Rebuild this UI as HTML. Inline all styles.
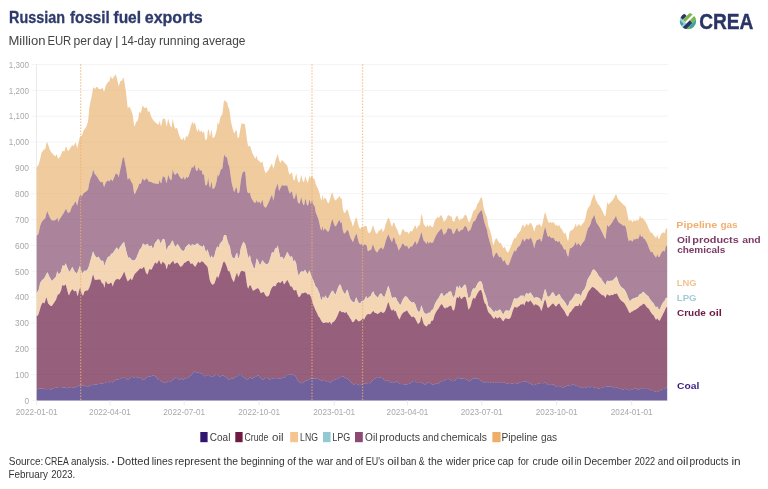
<!DOCTYPE html>
<html lang="en"><head><meta charset="utf-8"><title>Russian fossil fuel exports</title>
<style>
html,body{margin:0;padding:0;background:#fff;}
body{width:768px;height:489px;overflow:hidden;font-family:'Liberation Sans', Arial, sans-serif;}
svg{display:block;will-change:transform;}
svg text{font-family:'Liberation Sans', Arial, sans-serif;}
.ti{font-size:16.5px;font-weight:bold;fill:#2d3a6b;stroke:#2d3a6b;stroke-width:0.3px;}
.st{font-size:12.2px;fill:#454545;}
.ax{font-size:9.2px;fill:#a9a9a9;}
.lg{font-size:10.3px;fill:#3e3e3e;}
.rl{font-size:9.9px;font-weight:bold;}
.ft{font-size:10.6px;fill:#333;}
</style></head><body>
<svg width="768" height="489" viewBox="0 0 768 489">
<rect width="768" height="489" fill="#fff"/>

<text class="ti" x="9.06" y="22.8" textLength="56.00" lengthAdjust="spacingAndGlyphs">Russian</text>
<text class="ti" x="70.07" y="22.8" textLength="39.64" lengthAdjust="spacingAndGlyphs">fossil</text>
<text class="ti" x="113.47" y="22.8" textLength="27.59" lengthAdjust="spacingAndGlyphs">fuel</text>
<text class="ti" x="144.74" y="22.8" textLength="57.94" lengthAdjust="spacingAndGlyphs">exports</text>
<text class="st" x="8.46" y="45.2" textLength="37.02" lengthAdjust="spacingAndGlyphs">Million</text>
<text class="st" x="47.39" y="45.2" textLength="23.93" lengthAdjust="spacingAndGlyphs">EUR</text>
<text class="st" x="73.41" y="45.2" textLength="17.58" lengthAdjust="spacingAndGlyphs">per</text>
<text class="st" x="92.82" y="45.2" textLength="19.20" lengthAdjust="spacingAndGlyphs">day</text>
<text class="st" x="115.02" y="45.2" textLength="3.55" lengthAdjust="spacingAndGlyphs">|</text>
<text class="st" x="121.15" y="45.2" textLength="34.83" lengthAdjust="spacingAndGlyphs">14-day</text>
<text class="st" x="158.90" y="45.2" textLength="41.05" lengthAdjust="spacingAndGlyphs">running</text>
<text class="st" x="202.32" y="45.2" textLength="43.14" lengthAdjust="spacingAndGlyphs">average</text>
<defs><clipPath id="lc"><circle cx="0" cy="0" r="8.2"/></clipPath></defs>
<g transform="translate(687.95 21.15) rotate(-45)"><g clip-path="url(#lc)">
<rect x="-9" y="-9" width="6.34" height="18" fill="#9dd3d8"/>
<rect x="-7.9" y="-6.2" width="3.0" height="5.2" fill="#3fa39c"/>
<rect x="-2.78" y="-9" width="5.56" height="4.38" fill="#2b3467"/>
<rect x="-2.55" y="-4.62" width="12" height="3.12" fill="#7ab648"/>
<rect x="-9" y="0.7" width="10.92" height="3.8" fill="#2b3467"/>
<rect x="1.92" y="0.7" width="8" height="3.8" fill="#7ab648"/>
<rect x="-3.48" y="4.5" width="12" height="5" fill="#3fa39c"/>
<rect x="-9" y="4.5" width="5.52" height="5" fill="#7ab648"/>
</g></g>

<text x="699.2" y="28.5" font-size="21.9" font-weight="bold" fill="#2b3467" stroke="#2b3467" stroke-width="0.4" textLength="54.2" lengthAdjust="spacingAndGlyphs">CREA</text>
<line x1="31.3" x2="667.8" y1="400.50" y2="400.50" stroke="#f4f4f4" stroke-width="1"/>
<text class="ax" x="24.4" y="403.7" textLength="4.6" lengthAdjust="spacingAndGlyphs">0</text>
<line x1="31.3" x2="667.8" y1="374.65" y2="374.65" stroke="#f4f4f4" stroke-width="1"/>
<text class="ax" x="15.0" y="377.9" textLength="14.0" lengthAdjust="spacingAndGlyphs">100</text>
<line x1="31.3" x2="667.8" y1="348.81" y2="348.81" stroke="#f4f4f4" stroke-width="1"/>
<text class="ax" x="15.0" y="352.0" textLength="14.0" lengthAdjust="spacingAndGlyphs">200</text>
<line x1="31.3" x2="667.8" y1="322.96" y2="322.96" stroke="#f4f4f4" stroke-width="1"/>
<text class="ax" x="15.0" y="326.2" textLength="14.0" lengthAdjust="spacingAndGlyphs">300</text>
<line x1="31.3" x2="667.8" y1="297.12" y2="297.12" stroke="#f4f4f4" stroke-width="1"/>
<text class="ax" x="15.0" y="300.3" textLength="14.0" lengthAdjust="spacingAndGlyphs">400</text>
<line x1="31.3" x2="667.8" y1="271.27" y2="271.27" stroke="#f4f4f4" stroke-width="1"/>
<text class="ax" x="15.0" y="274.5" textLength="14.0" lengthAdjust="spacingAndGlyphs">500</text>
<line x1="31.3" x2="667.8" y1="245.42" y2="245.42" stroke="#f4f4f4" stroke-width="1"/>
<text class="ax" x="15.0" y="248.6" textLength="14.0" lengthAdjust="spacingAndGlyphs">600</text>
<line x1="31.3" x2="667.8" y1="219.58" y2="219.58" stroke="#f4f4f4" stroke-width="1"/>
<text class="ax" x="15.0" y="222.8" textLength="14.0" lengthAdjust="spacingAndGlyphs">700</text>
<line x1="31.3" x2="667.8" y1="193.73" y2="193.73" stroke="#f4f4f4" stroke-width="1"/>
<text class="ax" x="15.0" y="196.9" textLength="14.0" lengthAdjust="spacingAndGlyphs">800</text>
<line x1="31.3" x2="667.8" y1="167.88" y2="167.88" stroke="#f4f4f4" stroke-width="1"/>
<text class="ax" x="15.0" y="171.1" textLength="14.0" lengthAdjust="spacingAndGlyphs">900</text>
<line x1="31.3" x2="667.8" y1="142.04" y2="142.04" stroke="#f4f4f4" stroke-width="1"/>
<text class="ax" x="8.8" y="145.2" textLength="20.2" lengthAdjust="spacingAndGlyphs">1,000</text>
<line x1="31.3" x2="667.8" y1="116.19" y2="116.19" stroke="#f4f4f4" stroke-width="1"/>
<text class="ax" x="8.8" y="119.4" textLength="20.2" lengthAdjust="spacingAndGlyphs">1,100</text>
<line x1="31.3" x2="667.8" y1="90.35" y2="90.35" stroke="#f4f4f4" stroke-width="1"/>
<text class="ax" x="8.8" y="93.5" textLength="20.2" lengthAdjust="spacingAndGlyphs">1,200</text>
<line x1="31.3" x2="667.8" y1="64.50" y2="64.50" stroke="#f4f4f4" stroke-width="1"/>
<text class="ax" x="8.8" y="67.7" textLength="20.2" lengthAdjust="spacingAndGlyphs">1,300</text>
<line x1="36.52" x2="36.52" y1="64.5" y2="400.5" stroke="#ebebeb" stroke-width="1"/>
<g fill-opacity="0.7" stroke="none">
<polygon fill="#eab573" points="36.7,167.3 37.2,166.6 37.7,166.0 38.2,165.3 38.7,164.2 39.2,162.5 39.7,160.7 40.2,159.0 40.7,156.5 41.2,154.0 41.7,152.6 42.2,151.9 42.7,151.1 43.2,150.3 43.7,149.7 44.2,149.5 44.7,149.2 45.2,149.0 45.7,146.7 46.2,144.5 46.7,142.2 47.2,142.3 47.7,143.6 48.2,144.8 48.7,146.2 49.2,147.7 49.7,149.2 50.2,150.7 50.7,151.3 51.2,152.0 51.7,152.7 52.2,153.3 52.7,154.0 53.2,154.5 53.7,155.0 54.2,155.5 54.7,156.0 55.2,156.5 55.7,155.7 56.2,155.0 56.7,154.2 57.2,155.4 57.7,157.6 58.2,158.8 58.7,158.2 59.2,157.7 59.7,157.1 60.2,156.5 60.7,155.3 61.2,154.2 61.7,153.0 62.2,151.8 62.7,150.7 63.2,150.9 63.7,151.2 64.2,151.4 64.7,150.4 65.2,148.7 65.7,147.1 66.2,146.5 66.7,147.8 67.2,149.2 67.7,150.6 68.2,151.2 68.7,150.5 69.2,149.7 69.7,148.9 70.2,148.2 70.7,147.4 71.2,146.6 71.7,145.9 72.2,145.1 72.7,145.3 73.2,146.0 73.7,146.1 74.2,145.0 74.7,143.9 75.2,142.7 75.7,142.6 76.2,144.5 76.7,146.3 77.2,148.2 77.7,146.1 78.2,144.1 78.7,142.0 79.2,139.7 79.7,137.0 80.2,136.7 80.7,136.4 81.2,136.1 81.7,135.8 82.2,134.7 82.7,133.2 83.2,131.7 83.7,130.4 84.2,129.8 84.7,129.1 85.2,128.4 85.7,127.8 86.2,126.8 86.7,125.4 87.2,123.9 87.7,122.5 88.2,119.7 88.7,114.4 89.2,109.1 89.7,105.7 90.2,103.1 90.7,100.7 91.2,98.5 91.7,96.4 92.2,93.6 92.7,90.4 93.2,87.3 93.7,87.7 94.2,88.0 94.7,88.4 95.2,88.9 95.7,88.3 96.2,87.2 96.7,87.0 97.2,87.1 97.7,87.3 98.2,88.1 98.7,88.8 99.2,89.3 99.7,89.2 100.2,89.1 100.7,89.1 101.2,88.9 101.7,88.5 102.2,88.2 102.7,87.8 103.2,89.5 103.7,91.2 104.2,91.7 104.7,89.7 105.2,87.7 105.7,85.7 106.2,84.8 106.7,84.0 107.2,83.2 107.7,82.3 108.2,82.1 108.7,81.8 109.2,81.6 109.7,80.1 110.2,78.0 110.7,76.0 111.2,77.0 111.7,78.0 112.2,79.0 112.7,78.8 113.2,77.9 113.7,77.1 114.2,76.4 114.7,75.7 115.2,75.0 115.7,74.3 116.2,76.0 116.7,77.6 117.2,79.3 117.7,81.5 118.2,84.0 118.7,86.5 119.2,84.8 119.7,83.2 120.2,81.5 120.7,81.2 121.2,81.0 121.7,80.7 122.2,79.7 122.7,78.4 123.2,77.0 123.7,78.9 124.2,80.9 124.7,83.7 125.2,86.9 125.7,90.2 126.2,93.9 126.7,98.7 127.2,103.4 127.7,108.2 128.2,107.7 128.7,107.2 129.2,106.7 129.7,107.2 130.2,108.2 130.7,109.2 131.2,110.3 131.7,111.8 132.2,113.3 132.7,114.9 133.2,118.6 133.7,122.4 134.2,126.1 134.7,126.3 135.2,124.8 135.7,123.3 136.2,122.1 136.7,121.5 137.2,120.9 137.7,120.2 138.2,118.8 138.7,115.6 139.2,112.5 139.7,111.9 140.2,112.5 140.7,113.2 141.2,111.2 141.7,109.2 142.2,107.3 142.7,105.3 143.2,106.2 143.7,107.0 144.2,107.9 144.7,108.1 145.2,107.9 145.7,107.7 146.2,107.6 146.7,107.4 147.2,108.8 147.7,110.9 148.2,112.1 148.7,111.5 149.2,110.9 149.7,111.8 150.2,113.6 150.7,115.3 151.2,116.8 151.7,117.6 152.2,118.5 152.7,119.3 153.2,120.1 153.7,120.8 154.2,121.3 154.7,121.8 155.2,122.3 155.7,122.8 156.2,123.3 156.7,123.6 157.2,123.9 157.7,124.3 158.2,124.6 158.7,124.2 159.2,122.4 159.7,120.7 160.2,123.1 160.7,125.4 161.2,126.2 161.7,123.8 162.2,121.4 162.7,119.0 163.2,118.7 163.7,118.4 164.2,118.4 164.7,119.0 165.2,119.6 165.7,122.0 166.2,125.2 166.7,126.4 167.2,123.8 167.7,121.2 168.2,118.7 168.7,120.5 169.2,122.4 169.7,124.2 170.2,125.5 170.7,126.5 171.2,127.5 171.7,126.8 172.2,122.7 172.7,118.7 173.2,121.3 173.7,123.9 174.2,126.1 174.7,127.3 175.2,128.6 175.7,128.7 176.2,128.3 176.7,127.9 177.2,128.3 177.7,130.2 178.2,132.1 178.7,134.0 179.2,135.3 179.7,136.5 180.2,137.8 180.7,139.0 181.2,139.3 181.7,139.5 182.2,139.8 182.7,139.2 183.2,138.3 183.7,137.3 184.2,139.1 184.7,140.9 185.2,139.8 185.7,137.3 186.2,135.9 186.7,136.5 187.2,137.1 187.7,136.5 188.2,135.2 188.7,134.0 189.2,132.5 189.7,130.5 190.2,128.5 190.7,126.5 191.2,125.0 191.7,123.5 192.2,122.0 192.7,122.3 193.2,123.6 193.7,124.8 194.2,122.8 194.7,122.2 195.2,124.1 195.7,126.1 196.2,128.0 196.7,129.8 197.2,131.7 197.7,131.3 198.2,129.7 198.7,128.2 199.2,130.0 199.7,131.8 200.2,131.9 200.7,131.3 201.2,130.7 201.7,130.7 202.2,132.0 202.7,133.2 203.2,132.3 203.7,131.5 204.2,132.2 204.7,135.9 205.2,139.5 205.7,140.3 206.2,139.8 206.7,139.3 207.2,137.0 207.7,131.2 208.2,129.5 208.7,129.7 209.2,131.4 209.7,135.9 210.2,135.6 210.7,133.1 211.2,130.6 211.7,130.3 212.2,134.3 212.7,138.2 213.2,137.8 213.7,137.4 214.2,137.0 214.7,136.6 215.2,135.3 215.7,133.6 216.2,131.8 216.7,129.4 217.2,125.7 217.7,122.0 218.2,123.4 218.7,124.8 219.2,122.7 219.7,120.5 220.2,118.6 220.7,116.8 221.2,115.6 221.7,115.2 222.2,114.9 222.7,111.7 223.2,107.0 223.7,102.3 224.2,101.3 224.7,100.2 225.2,100.5 225.7,101.4 226.2,101.9 226.7,101.7 227.2,102.4 227.7,104.9 228.2,107.3 228.7,108.1 229.2,108.8 229.7,111.7 230.2,115.8 230.7,119.8 231.2,122.4 231.7,124.9 232.2,127.1 232.7,128.9 233.2,130.7 233.7,132.1 234.2,133.5 234.7,132.9 235.2,131.2 235.7,130.4 236.2,130.1 236.7,131.0 237.2,134.6 237.7,138.2 238.2,137.9 238.7,137.5 239.2,136.3 239.7,133.1 240.2,130.0 240.7,127.3 241.2,124.8 241.7,123.2 242.2,123.4 242.7,123.5 243.2,123.7 243.7,123.8 244.2,123.9 244.7,124.0 245.2,126.4 245.7,130.0 246.2,133.8 246.7,137.9 247.2,141.5 247.7,144.0 248.2,146.5 248.7,146.2 249.2,146.0 249.7,145.7 250.2,146.6 250.7,148.1 251.2,149.5 251.7,151.1 252.2,152.7 252.7,153.8 253.2,154.8 253.7,155.8 254.2,156.8 254.7,157.8 255.2,158.7 255.7,157.9 256.2,156.4 256.7,156.0 257.2,157.9 257.7,159.8 258.2,160.2 258.7,160.6 259.2,161.0 259.7,161.4 260.2,162.0 260.7,162.7 261.2,162.9 261.7,162.1 262.2,161.3 262.7,162.6 263.2,165.0 263.7,167.4 264.2,169.4 264.7,170.7 265.2,171.9 265.7,173.2 266.2,172.7 266.7,172.2 267.2,171.7 267.7,171.0 268.2,170.2 268.7,169.5 269.2,168.7 269.7,167.7 270.2,166.7 270.7,165.7 271.2,164.7 271.7,163.8 272.2,164.0 272.7,166.5 273.2,169.0 273.7,167.6 274.2,166.1 274.7,164.0 275.2,161.5 275.7,159.7 276.2,158.3 276.7,156.8 277.2,155.4 277.7,154.0 278.2,156.2 278.7,158.4 279.2,160.3 279.7,161.5 280.2,162.8 280.7,162.5 281.2,161.5 281.7,160.5 282.2,160.0 282.7,160.5 283.2,161.0 283.7,161.5 284.2,162.2 284.7,162.8 285.2,163.5 285.7,164.0 286.2,164.5 286.7,165.0 287.2,165.5 287.7,167.4 288.2,169.9 288.7,172.3 289.2,173.4 289.7,174.5 290.2,174.4 290.7,173.6 291.2,173.0 291.7,172.6 292.2,173.3 292.7,176.1 293.2,178.9 293.7,180.1 294.2,180.4 294.7,179.9 295.2,177.7 295.7,175.4 296.2,173.2 296.7,175.7 297.2,178.2 297.7,180.7 298.2,181.8 298.7,182.3 299.2,182.8 299.7,182.3 300.2,179.8 300.7,177.3 301.2,174.8 301.7,176.8 302.2,178.8 302.7,180.8 303.2,181.7 303.7,182.1 304.2,181.5 304.7,179.0 305.2,176.5 305.7,176.9 306.2,178.8 306.7,180.7 307.2,181.7 307.7,182.8 308.2,181.6 308.7,179.2 309.2,176.9 309.7,175.7 310.2,177.0 310.7,178.2 311.2,176.9 311.7,175.7 312.2,175.4 312.7,176.9 313.2,178.5 313.7,178.9 314.2,178.8 314.7,179.4 315.2,181.7 315.7,184.0 316.2,184.9 316.7,185.9 317.2,186.9 317.7,188.2 318.2,189.4 318.7,190.8 319.2,192.2 319.7,194.0 320.2,196.5 320.7,199.0 321.2,199.8 321.7,200.6 322.2,196.1 322.7,194.7 323.2,199.2 323.7,199.8 324.2,198.5 324.7,197.8 325.2,198.2 325.7,198.6 326.2,199.0 326.7,200.4 327.2,201.9 327.7,202.5 328.2,202.9 328.7,203.2 329.2,201.6 329.7,200.0 330.2,198.4 330.7,196.6 331.2,194.8 331.7,193.6 332.2,192.4 332.7,193.3 333.2,195.3 333.7,197.3 334.2,198.6 334.7,199.8 335.2,200.5 335.7,200.2 336.2,199.8 336.7,199.3 337.2,198.8 337.7,198.3 338.2,197.7 338.7,196.9 339.2,196.2 339.7,196.1 340.2,197.4 340.7,198.7 341.2,198.4 341.7,198.2 342.2,202.8 342.7,207.5 343.2,210.2 343.7,212.0 344.2,213.1 344.7,212.7 345.2,212.4 345.7,211.7 346.2,210.8 346.7,209.8 347.2,209.8 347.7,209.8 348.2,211.3 348.7,213.4 349.2,215.5 349.7,217.3 350.2,219.2 350.7,220.5 351.2,221.4 351.7,222.3 352.2,224.5 352.7,226.6 353.2,226.1 353.7,224.3 354.2,222.6 354.7,221.1 355.2,219.5 355.7,218.4 356.2,217.6 356.7,217.8 357.2,220.1 357.7,222.4 358.2,224.4 358.7,226.2 359.2,227.5 359.7,228.2 360.2,228.8 360.7,228.4 361.2,227.4 361.7,226.5 362.2,226.8 362.7,227.0 363.2,227.3 363.7,227.0 364.2,226.5 364.7,226.0 365.2,225.8 365.7,226.0 366.2,226.3 366.7,226.5 367.2,229.0 367.7,231.5 368.2,232.5 368.7,232.8 369.2,233.0 369.7,232.9 370.2,232.2 370.7,231.4 371.2,230.7 371.7,228.9 372.2,227.2 372.7,225.4 373.2,225.8 373.7,227.2 374.2,228.7 374.7,230.3 375.2,231.8 375.7,232.7 376.2,233.2 376.7,233.7 377.2,233.7 377.7,232.7 378.2,231.7 378.7,230.7 379.2,230.4 379.7,230.2 380.2,229.9 380.7,229.4 381.2,228.8 381.7,228.2 382.2,230.0 382.7,231.8 383.2,231.7 383.7,230.7 384.2,229.7 384.7,228.3 385.2,226.1 385.7,224.0 386.2,222.7 386.7,221.5 387.2,220.2 387.7,219.0 388.2,217.7 388.7,218.1 389.2,219.1 389.7,220.3 390.2,221.7 390.7,223.2 391.2,224.7 391.7,226.3 392.2,226.7 392.7,224.8 393.2,222.9 393.7,222.6 394.2,222.9 394.7,223.8 395.2,225.6 395.7,227.3 396.2,228.0 396.7,228.6 397.2,229.5 397.7,231.0 398.2,232.5 398.7,234.0 399.2,234.8 399.7,235.5 400.2,235.6 400.7,234.4 401.2,233.2 401.7,231.4 402.2,229.6 402.7,229.2 403.2,229.5 403.7,229.8 404.2,230.6 404.7,231.3 405.2,232.1 405.7,232.2 406.2,231.9 406.7,231.7 407.2,231.8 407.7,232.5 408.2,233.3 408.7,234.0 409.2,233.1 409.7,232.2 410.2,231.3 410.7,231.1 411.2,231.3 411.7,231.4 412.2,231.2 412.7,230.2 413.2,229.2 413.7,228.2 414.2,227.2 414.7,226.2 415.2,225.2 415.7,225.9 416.2,227.4 416.7,229.0 417.2,228.0 417.7,227.0 418.2,226.0 418.7,225.5 419.2,225.3 419.7,225.1 420.2,223.5 420.7,219.1 421.2,214.8 421.7,214.5 422.2,216.3 422.7,218.5 423.2,221.3 423.7,224.2 424.2,224.8 424.7,225.4 425.2,226.0 425.7,226.7 426.2,227.3 426.7,226.5 427.2,225.1 427.7,224.7 428.2,226.1 428.7,227.5 429.2,226.6 429.7,225.6 430.2,225.2 430.7,225.8 431.2,226.5 431.7,226.8 432.2,227.1 432.7,227.3 433.2,226.8 433.7,224.8 434.2,222.8 434.7,220.8 435.2,220.1 435.7,219.4 436.2,218.7 436.7,217.9 437.2,217.2 437.7,216.9 438.2,217.6 438.7,218.3 439.2,217.4 439.7,216.5 440.2,215.7 440.7,215.4 441.2,215.1 441.7,215.7 442.2,216.8 442.7,218.1 443.2,219.9 443.7,221.7 444.2,221.4 444.7,221.0 445.2,220.6 445.7,220.0 446.2,219.4 446.7,218.2 447.2,216.8 447.7,215.7 448.2,215.4 448.7,215.0 449.2,215.6 449.7,216.3 450.2,216.6 450.7,216.2 451.2,215.9 451.7,217.3 452.2,219.4 452.7,220.9 453.2,221.2 453.7,221.4 454.2,221.7 454.7,220.2 455.2,218.8 455.7,217.7 456.2,216.7 456.7,215.7 457.2,215.4 457.7,216.7 458.2,217.9 458.7,219.0 459.2,219.9 459.7,220.8 460.2,219.8 460.7,218.7 461.2,218.5 461.7,218.8 462.2,219.0 462.7,218.8 463.2,217.8 463.7,216.8 464.2,215.8 464.7,215.3 465.2,214.8 465.7,215.0 466.2,215.4 466.7,215.8 467.2,217.7 467.7,219.6 468.2,221.1 468.7,221.8 469.2,222.5 469.7,221.5 470.2,220.5 470.7,219.5 471.2,218.0 471.7,216.2 472.2,214.5 472.7,212.9 473.2,211.3 473.7,210.6 474.2,210.2 474.7,209.9 475.2,209.4 475.7,208.6 476.2,207.8 476.7,206.3 477.2,204.5 477.7,203.2 478.2,202.9 478.7,202.5 479.2,201.2 479.7,200.0 480.2,198.8 480.7,197.9 481.2,197.0 481.7,197.6 482.2,199.1 482.7,201.4 483.2,205.4 483.7,207.9 484.2,209.8 484.7,211.7 485.2,213.1 485.7,214.5 486.2,215.7 486.7,216.8 487.2,218.8 487.7,222.5 488.2,225.5 488.7,226.9 489.2,228.3 489.7,229.8 490.2,231.2 490.7,232.9 491.2,234.8 491.7,236.7 492.2,239.7 492.7,242.5 493.2,245.0 493.7,244.6 494.2,242.7 494.7,240.8 495.2,239.8 495.7,238.7 496.2,238.4 496.7,238.6 497.2,239.0 497.7,240.2 498.2,241.3 498.7,242.1 499.2,242.7 499.7,243.3 500.2,243.0 500.7,242.6 501.2,243.5 501.7,244.9 502.2,246.2 502.7,247.1 503.2,248.0 503.7,247.9 504.2,247.3 504.7,246.7 505.2,248.1 505.7,249.5 506.2,250.6 506.7,251.4 507.2,252.1 507.7,252.3 508.2,252.4 508.7,251.7 509.2,250.4 509.7,249.2 510.2,248.1 510.7,247.0 511.2,245.7 511.7,244.3 512.2,242.9 512.7,241.7 513.2,240.4 513.7,239.4 514.2,238.4 514.7,237.5 515.2,237.9 515.7,238.2 516.2,237.4 516.7,235.9 517.2,234.8 517.7,234.2 518.2,233.5 518.7,232.9 519.2,232.3 519.7,231.7 520.2,230.9 520.7,230.2 521.2,228.8 521.7,227.0 522.2,225.6 522.7,224.7 523.2,224.7 523.7,226.1 524.2,227.5 524.7,226.8 525.2,226.1 525.7,225.2 526.2,224.3 526.7,223.3 527.2,224.3 527.7,225.2 528.2,225.6 528.7,224.9 529.2,224.2 529.7,223.4 530.2,222.7 530.7,222.9 531.2,223.5 531.7,224.2 532.2,225.4 532.7,226.7 533.2,228.1 533.7,229.9 534.2,231.7 534.7,229.9 535.2,228.1 535.7,226.9 536.2,225.9 536.7,225.0 537.2,224.9 537.7,224.8 538.2,224.7 538.7,224.6 539.2,224.4 539.7,224.3 540.2,224.6 540.7,225.8 541.2,227.1 541.7,226.3 542.2,224.5 542.7,222.5 543.2,220.0 543.7,217.5 544.2,215.3 544.7,213.1 545.2,212.2 545.7,213.9 546.2,215.6 546.7,217.2 547.2,218.9 547.7,220.5 548.2,221.7 548.7,222.3 549.2,223.0 549.7,222.7 550.2,222.0 550.7,221.7 551.2,222.5 551.7,223.2 552.2,222.7 552.7,222.3 553.2,222.1 553.7,222.6 554.2,223.0 554.7,223.9 555.2,225.0 555.7,225.5 556.2,225.2 556.7,224.8 557.2,225.5 557.7,226.1 558.2,226.3 558.7,225.7 559.2,225.0 559.7,225.8 560.2,227.2 560.7,228.3 561.2,228.6 561.7,229.0 562.2,229.9 562.7,230.9 563.2,231.9 563.7,232.9 564.2,234.0 564.7,233.4 565.2,232.7 565.7,233.1 566.2,235.2 566.7,237.3 567.2,238.9 567.7,240.5 568.2,240.7 568.7,238.2 569.2,235.0 569.7,231.5 570.2,231.2 570.7,230.9 571.2,230.5 571.7,230.2 572.2,229.8 572.7,229.5 573.2,229.1 573.7,228.4 574.2,227.4 574.7,226.5 575.2,225.1 575.7,223.6 576.2,224.8 576.7,227.3 577.2,226.4 577.7,225.5 578.2,224.7 578.7,224.4 579.2,224.0 579.7,224.9 580.2,225.9 580.7,226.3 581.2,225.5 581.7,224.8 582.2,224.2 582.7,223.6 583.2,223.0 583.7,222.3 584.2,221.7 584.7,220.5 585.2,219.1 585.7,217.2 586.2,214.3 586.7,211.5 587.2,210.2 587.7,209.0 588.2,208.0 588.7,207.3 589.2,206.7 589.7,205.8 590.2,204.7 590.7,203.4 591.2,201.6 591.7,199.8 592.2,198.6 592.7,197.3 593.2,196.1 593.7,195.1 594.2,194.0 594.7,195.2 595.2,197.5 595.7,199.4 596.2,200.4 596.7,201.5 597.2,202.4 597.7,203.4 598.2,204.2 598.7,204.8 599.2,205.5 599.7,206.1 600.2,206.9 600.7,207.7 601.2,208.8 601.7,209.8 602.2,210.8 602.7,211.7 603.2,212.8 603.7,214.0 604.2,215.3 604.7,215.9 605.2,216.3 605.7,215.0 606.2,210.5 606.7,206.5 607.2,202.7 607.7,202.6 608.2,204.3 608.7,204.4 609.2,203.8 609.7,203.2 610.2,202.7 610.7,202.3 611.2,201.8 611.7,201.2 612.2,200.7 612.7,199.9 613.2,199.2 613.7,198.4 614.2,197.4 614.7,196.5 615.2,195.4 615.7,194.4 616.2,194.2 616.7,195.8 617.2,197.3 617.7,198.4 618.2,199.5 618.7,200.0 619.2,200.4 619.7,200.7 620.2,201.3 620.7,201.9 621.2,202.5 621.7,202.8 622.2,203.2 622.7,203.9 623.2,204.6 623.7,205.0 624.2,205.4 624.7,205.7 625.2,206.0 625.7,206.4 626.2,208.2 626.7,210.7 627.2,213.2 627.7,215.7 628.2,218.2 628.7,220.7 629.2,221.0 629.7,220.3 630.2,219.9 630.7,220.3 631.2,220.6 631.7,221.1 632.2,221.7 632.7,222.3 633.2,221.3 633.7,220.2 634.2,220.3 634.7,221.0 635.2,221.3 635.7,220.7 636.2,220.0 636.7,220.0 637.2,220.4 637.7,220.7 638.2,220.3 638.7,220.0 639.2,218.4 639.7,216.2 640.2,215.5 640.7,217.6 641.2,218.8 641.7,218.0 642.2,217.3 642.7,218.1 643.2,218.8 643.7,219.4 644.2,220.0 644.7,220.7 645.2,221.4 645.7,222.1 646.2,223.0 646.7,223.9 647.2,224.8 647.7,226.3 648.2,227.7 648.7,228.8 649.2,229.7 649.7,230.7 650.2,231.6 650.7,232.5 651.2,233.0 651.7,232.7 652.2,232.3 652.7,233.4 653.2,234.5 653.7,235.3 654.2,235.9 654.7,236.5 655.2,237.1 655.7,237.8 656.2,237.7 656.7,236.3 657.2,234.8 657.7,236.6 658.2,238.4 658.7,238.8 659.2,238.5 659.7,238.2 660.2,236.6 660.7,235.0 661.2,233.9 661.7,233.5 662.2,233.2 662.7,232.8 663.2,232.5 663.7,232.5 664.2,232.9 664.7,233.2 665.2,231.3 665.7,229.4 666.2,228.3 666.7,228.6 667.2,229.0 667.2,246.5 666.7,246.1 666.2,245.8 665.7,247.1 665.2,249.3 664.7,251.5 664.2,251.2 663.7,250.9 663.2,250.8 662.7,251.1 662.2,251.5 661.7,252.2 661.2,252.9 660.7,254.0 660.2,255.2 659.7,256.5 659.2,256.8 658.7,257.1 658.2,256.9 657.7,255.4 657.2,254.0 656.7,255.8 656.2,257.6 655.7,257.5 655.2,256.6 654.7,255.7 654.2,255.0 653.7,254.4 653.2,253.6 652.7,252.6 652.2,251.5 651.7,251.9 651.2,252.2 650.7,251.7 650.2,250.8 649.7,249.8 649.2,248.6 648.7,247.3 648.2,246.0 647.7,244.6 647.2,243.2 646.7,242.2 646.2,241.3 645.7,240.4 645.2,239.7 644.7,239.0 644.2,238.7 643.7,238.4 643.2,237.8 642.7,236.7 642.2,235.7 641.7,236.4 641.2,237.1 640.7,236.0 640.2,233.9 639.7,234.6 639.2,236.7 638.7,238.3 638.2,238.6 637.7,239.0 637.2,238.7 636.7,238.4 636.2,238.4 635.7,239.0 635.2,239.6 634.7,239.5 634.2,239.0 633.7,239.1 633.2,240.3 632.7,241.5 632.2,241.2 631.7,240.9 631.2,240.6 630.7,240.3 630.2,239.9 629.7,240.3 629.2,241.0 628.7,240.9 628.2,239.1 627.7,237.3 627.2,234.4 626.7,231.5 626.2,229.0 625.7,227.1 625.2,226.2 624.7,225.3 624.2,225.6 623.7,225.8 623.2,225.8 622.7,225.3 622.2,224.8 621.7,224.5 621.2,224.1 620.7,223.8 620.2,223.5 619.7,223.2 619.2,222.7 618.7,222.3 618.2,221.7 617.7,220.8 617.2,219.8 616.7,218.1 616.2,216.3 615.7,216.3 615.2,217.2 614.7,218.2 614.2,219.0 613.7,219.8 613.2,220.6 612.7,221.5 612.2,222.3 611.7,223.0 611.2,223.8 610.7,224.4 610.2,225.0 609.7,225.7 609.2,226.2 608.7,226.7 608.2,226.5 607.7,225.0 607.2,225.2 606.7,229.0 606.2,233.1 605.7,238.1 605.2,239.1 604.7,238.1 604.2,236.9 603.7,235.7 603.2,234.4 602.7,233.4 602.2,232.4 601.7,231.5 601.2,230.4 600.7,229.4 600.2,228.4 599.7,227.6 599.2,226.7 598.7,225.9 598.2,225.1 597.7,224.4 597.2,223.8 596.7,223.2 596.2,221.7 595.7,220.3 595.2,218.4 594.7,216.3 594.2,215.1 593.7,216.1 593.2,217.0 592.7,218.0 592.2,218.9 591.7,219.8 591.2,221.6 590.7,223.4 590.2,224.7 589.7,225.8 589.2,226.7 588.7,227.3 588.2,228.0 587.7,229.2 587.2,230.8 586.7,232.3 586.2,234.5 585.7,236.6 585.2,238.3 584.7,239.7 584.2,240.9 583.7,241.5 583.2,242.1 582.7,242.7 582.2,243.4 581.7,244.0 581.2,245.1 580.7,246.1 580.2,245.9 579.7,244.9 579.2,244.0 578.7,243.6 578.2,243.3 577.7,243.8 577.2,244.7 576.7,245.7 576.2,243.2 575.7,241.9 575.2,243.1 574.7,244.3 574.2,245.1 573.7,246.0 573.2,246.6 572.7,247.0 572.2,247.3 571.7,247.7 571.2,248.0 570.7,248.2 570.2,248.2 569.7,248.2 569.2,251.6 568.7,254.7 568.2,256.7 567.7,256.3 567.2,254.7 566.7,253.2 566.2,251.4 565.7,249.6 565.2,249.2 564.7,249.5 564.2,249.8 563.7,248.8 563.2,247.7 562.7,246.7 562.2,245.8 561.7,244.8 561.2,244.5 560.7,244.1 560.2,243.1 559.7,241.6 559.2,240.9 558.7,241.5 558.2,242.1 557.7,241.9 557.2,241.3 556.7,240.7 556.2,241.0 555.7,241.4 555.2,240.8 554.7,239.7 554.2,238.8 553.7,238.3 553.2,237.8 552.7,237.8 552.2,238.0 551.7,238.2 551.2,237.8 550.7,237.5 550.2,236.9 549.7,236.1 549.2,235.9 548.7,236.5 548.2,237.1 547.7,236.3 547.2,234.7 546.7,232.8 546.2,230.7 545.7,228.9 545.2,227.2 544.7,228.1 544.2,230.3 543.7,232.5 543.2,234.6 542.7,236.8 542.2,238.9 541.7,241.1 541.2,242.0 540.7,240.4 540.2,238.9 539.7,238.6 539.2,239.0 538.7,239.4 538.2,239.7 537.7,239.8 537.2,239.9 536.7,240.0 536.2,241.2 535.7,242.5 535.2,244.0 534.7,246.2 534.2,248.3 533.7,246.2 533.2,244.1 532.7,242.3 532.2,240.7 531.7,239.2 531.2,238.5 530.7,237.9 530.2,237.7 529.7,238.4 529.2,239.2 528.7,239.4 528.2,239.6 527.7,239.3 527.2,238.8 526.7,238.3 526.2,239.0 525.7,239.6 525.2,240.2 524.7,240.9 524.2,241.7 523.7,240.2 523.2,238.8 522.7,238.9 522.2,239.7 521.7,240.9 521.2,242.4 520.7,243.7 520.2,244.8 519.7,245.8 519.2,246.1 518.7,246.5 518.2,246.9 517.7,247.5 517.2,248.1 516.7,249.3 516.2,250.7 515.7,251.4 515.2,250.7 514.7,250.0 514.2,250.9 513.7,251.9 513.2,252.9 512.7,254.2 512.2,255.4 511.7,256.8 511.2,258.2 510.7,259.6 510.2,261.1 509.7,262.5 509.2,263.6 508.7,264.6 508.2,265.3 507.7,265.2 507.2,265.0 506.7,264.5 506.2,263.8 505.7,262.9 505.2,261.4 504.7,260.0 504.2,260.6 503.7,261.2 503.2,261.4 502.7,260.4 502.2,259.5 501.7,258.4 501.2,257.2 500.7,256.5 500.2,257.0 499.7,257.5 499.2,256.9 498.7,256.3 498.2,255.4 497.7,254.2 497.2,252.9 496.7,252.6 496.2,252.9 495.7,253.3 495.2,254.1 494.7,255.0 494.2,256.2 493.7,257.5 493.2,257.5 492.7,255.0 492.2,251.9 491.7,248.4 491.2,246.8 490.7,245.2 490.2,243.6 489.7,241.8 489.2,240.0 488.7,238.2 488.2,236.4 487.7,233.9 487.2,231.0 486.7,229.1 486.2,227.6 485.7,226.2 485.2,224.8 484.7,223.3 484.2,221.5 483.7,219.6 483.2,217.2 482.7,213.7 482.2,211.7 481.7,210.5 481.2,209.9 480.7,210.7 480.2,211.4 479.7,212.1 479.2,212.7 478.7,213.3 478.2,214.0 477.7,214.8 477.2,215.9 476.7,217.4 476.2,218.6 475.7,219.6 475.2,220.5 474.7,221.0 474.2,221.2 473.7,221.5 473.2,222.1 472.7,223.3 472.2,224.6 471.7,226.2 471.2,228.0 470.7,229.3 470.2,229.8 469.7,230.3 469.2,230.8 468.7,231.2 468.2,231.5 467.7,230.6 467.2,229.1 466.7,227.5 466.2,226.9 465.7,226.3 465.2,225.9 464.7,226.3 464.2,226.7 463.7,227.7 463.2,228.7 462.7,229.7 462.2,229.9 461.7,229.8 461.2,229.7 460.7,229.9 460.2,230.8 459.7,231.7 459.2,231.5 458.7,231.4 458.2,230.9 457.7,229.4 457.2,228.0 456.7,228.2 456.2,229.2 455.7,230.2 455.2,231.2 454.7,232.2 454.2,233.2 453.7,234.2 453.2,233.7 452.7,233.2 452.2,231.7 451.7,229.7 451.2,228.4 450.7,228.7 450.2,229.1 449.7,228.9 449.2,228.4 448.7,228.0 448.2,228.3 447.7,228.6 447.2,229.8 446.7,231.4 446.2,232.6 445.7,233.1 445.2,233.5 444.7,234.0 444.2,234.5 443.7,235.0 443.2,233.2 442.7,231.4 442.2,230.1 441.7,229.1 441.2,228.5 440.7,229.2 440.2,229.8 439.7,230.4 439.2,231.0 438.7,231.7 438.2,232.2 437.7,232.8 437.2,233.6 436.7,234.4 436.2,235.3 435.7,236.2 435.2,237.3 434.7,238.3 434.2,239.6 433.7,240.8 433.2,242.1 432.7,242.6 432.2,242.7 431.7,242.9 431.2,242.8 430.7,242.3 430.2,241.8 429.7,242.2 429.2,242.9 428.7,243.7 428.2,242.5 427.7,241.2 427.2,241.8 426.7,243.2 426.2,243.9 425.7,242.9 425.2,242.0 424.7,241.5 424.2,241.1 423.7,240.8 423.2,239.1 422.7,237.3 422.2,235.3 421.7,233.1 421.2,232.3 420.7,234.2 420.2,236.0 419.7,237.6 419.2,239.1 418.7,240.5 418.2,241.8 417.7,242.8 417.2,243.8 416.7,244.8 416.2,243.3 415.7,241.7 415.2,241.0 414.7,242.0 414.2,243.0 413.7,244.0 413.2,244.7 412.7,245.5 412.2,246.2 411.7,246.5 411.2,246.5 410.7,246.5 410.2,246.7 409.7,247.5 409.2,248.2 408.7,249.0 408.2,248.0 407.7,247.0 407.2,246.0 406.7,245.8 406.2,246.1 405.7,246.3 405.2,246.3 404.7,245.6 404.2,245.0 403.7,244.3 403.2,243.9 402.7,243.5 402.2,243.6 401.7,245.1 401.2,246.5 400.7,247.2 400.2,247.9 399.7,248.8 399.2,249.7 398.7,250.7 398.2,248.9 397.7,247.2 397.2,245.4 396.7,244.4 396.2,243.8 395.7,243.2 395.2,241.0 394.7,238.9 394.2,237.9 393.7,237.6 393.2,237.9 392.7,239.8 392.2,241.7 391.7,241.7 391.2,240.8 390.7,239.8 390.2,238.8 389.7,237.7 389.2,236.4 388.7,235.0 388.2,234.4 387.7,235.7 387.2,236.9 386.7,238.2 386.2,239.4 385.7,240.7 385.2,242.8 384.7,244.9 384.2,246.5 383.7,247.7 383.2,249.0 382.7,249.5 382.2,248.4 381.7,247.3 381.2,247.6 380.7,248.0 380.2,248.3 379.7,248.8 379.2,249.3 378.7,249.8 378.2,250.7 377.7,251.5 377.2,252.4 376.7,252.3 376.2,251.7 375.7,251.1 375.2,250.3 374.7,249.0 374.2,247.8 373.7,246.4 373.2,245.0 372.7,244.6 372.2,246.3 371.7,248.1 371.2,249.8 370.7,250.0 370.2,250.1 369.7,250.3 369.2,250.6 368.7,250.9 368.2,251.3 367.7,250.7 367.2,248.2 366.7,245.7 366.2,245.2 365.7,244.7 365.2,244.2 364.7,244.3 364.2,244.8 363.7,245.3 363.2,245.5 362.7,245.0 362.2,244.5 361.7,244.0 361.2,244.3 360.7,244.6 360.2,244.6 359.7,244.0 359.2,243.4 358.7,242.0 358.2,240.2 357.7,238.3 357.2,236.1 356.7,233.9 356.2,233.9 355.7,234.9 355.2,236.1 354.7,237.3 354.2,238.6 353.7,239.9 353.2,241.4 352.7,242.0 352.2,240.9 351.7,239.8 351.2,239.0 350.7,238.2 350.2,236.7 349.7,235.3 349.2,233.7 348.7,231.9 348.2,230.6 347.7,230.3 347.2,229.9 346.7,230.5 346.2,231.4 345.7,232.3 345.2,232.8 344.7,233.3 344.2,233.8 343.7,233.1 343.2,231.6 342.7,229.5 342.2,225.7 341.7,222.0 341.2,222.6 340.7,223.2 340.2,221.7 339.7,220.3 339.2,220.3 338.7,221.1 338.2,221.8 337.7,222.7 337.2,223.7 336.7,224.7 336.2,225.7 335.7,226.0 335.2,226.4 334.7,225.7 334.2,224.4 333.7,223.2 333.2,221.6 332.7,220.1 332.2,219.5 331.7,220.9 331.2,222.3 330.7,224.5 330.2,226.6 329.7,228.4 329.2,229.9 328.7,231.5 328.2,231.5 327.7,231.5 327.2,231.3 326.7,230.6 326.2,229.8 325.7,229.3 325.2,228.8 324.7,228.3 324.2,229.1 323.7,230.5 323.2,230.2 322.7,226.2 322.2,227.1 321.7,230.6 321.2,229.8 320.7,229.0 320.2,226.9 319.7,224.7 319.2,222.6 318.7,220.4 318.2,218.6 317.7,217.3 317.2,216.1 316.7,214.8 316.2,213.6 315.7,212.3 315.2,209.5 314.7,206.6 314.2,205.4 313.7,205.1 313.2,204.2 312.7,202.3 312.2,200.5 311.7,200.9 311.2,202.4 310.7,204.0 310.2,201.9 309.7,199.7 309.2,200.5 308.7,202.7 308.2,205.0 307.7,206.2 307.2,205.1 306.7,204.0 306.2,201.8 305.7,199.6 305.2,199.1 304.7,201.9 304.2,204.7 303.7,205.2 303.2,204.5 302.7,203.3 302.2,201.2 301.7,199.1 301.2,197.0 300.7,199.1 300.2,201.2 299.7,203.3 299.2,203.7 298.7,203.2 298.2,202.7 297.7,201.4 297.2,198.5 296.7,195.6 296.2,192.7 295.7,194.6 295.2,196.5 294.7,198.4 294.2,198.8 293.7,198.4 293.2,197.4 292.7,194.9 292.2,192.4 291.7,191.5 291.2,191.5 290.7,192.2 290.2,193.3 289.7,193.5 289.2,192.1 288.7,190.7 288.2,188.8 287.7,186.9 287.2,185.6 286.7,185.6 286.2,185.5 285.7,185.4 285.2,185.4 284.7,185.5 284.2,185.6 283.7,185.7 283.2,185.4 282.7,185.2 282.2,184.9 281.7,185.5 281.2,186.5 280.7,187.5 280.2,188.6 279.7,189.8 279.2,191.1 278.7,189.4 278.2,186.3 277.7,183.2 277.2,184.6 276.7,186.0 276.2,187.2 275.7,188.3 275.2,190.1 274.7,193.4 274.2,196.4 273.7,198.5 273.2,200.7 272.7,198.0 272.2,195.3 271.7,195.1 271.2,196.2 270.7,197.3 270.2,198.6 269.7,199.8 269.2,201.1 268.7,202.2 268.2,203.2 267.7,204.2 267.2,205.2 266.7,206.2 266.2,207.3 265.7,207.6 265.2,207.4 264.7,207.1 264.2,206.4 263.7,205.7 263.2,203.2 262.7,200.7 262.2,199.5 261.7,201.0 261.2,202.5 260.7,204.0 260.2,203.1 259.7,202.1 259.2,201.6 258.7,202.0 258.2,202.3 257.7,202.7 257.2,201.5 256.7,200.2 256.2,200.8 255.7,202.2 255.2,203.1 254.7,202.8 254.2,202.4 253.7,201.8 253.2,201.1 252.7,200.3 252.2,199.5 251.7,198.6 251.2,197.7 250.7,195.9 250.2,193.8 249.7,192.4 249.2,192.8 248.7,193.2 248.2,192.9 247.7,192.5 247.2,191.2 246.7,187.6 246.2,184.0 245.7,176.6 245.2,171.5 244.7,171.5 244.2,171.5 243.7,171.7 243.2,172.0 242.7,172.3 242.2,174.1 241.7,175.9 241.2,178.6 240.7,181.8 240.2,185.4 239.7,189.5 239.2,192.4 238.7,192.7 238.2,192.9 237.7,193.2 237.2,190.3 236.7,187.5 236.2,187.2 235.7,188.3 235.2,189.4 234.7,190.7 234.2,191.9 233.7,190.7 233.2,188.2 232.7,186.7 232.2,185.3 231.7,182.8 231.2,179.6 230.7,176.5 230.2,172.8 229.7,169.0 229.2,166.2 228.7,165.1 228.2,164.0 227.7,161.0 227.2,158.0 226.7,157.1 226.2,157.2 225.7,157.3 225.2,155.8 224.7,154.3 224.2,155.8 223.7,157.3 223.2,161.7 222.7,166.1 222.2,169.0 221.7,169.0 221.2,169.0 220.7,169.9 220.2,171.4 219.7,172.9 219.2,174.7 218.7,176.5 218.2,175.3 217.7,174.0 217.2,177.2 216.7,180.4 216.2,182.7 215.7,184.4 215.2,186.2 214.7,187.5 214.2,187.9 213.7,188.4 213.2,188.9 212.7,189.3 212.2,185.6 211.7,181.9 211.2,182.6 210.7,185.6 210.2,187.5 209.7,186.9 209.2,185.2 208.7,181.3 208.2,177.4 207.7,180.5 207.2,183.7 206.7,185.0 206.2,185.2 205.7,185.5 205.2,184.2 204.7,179.9 204.2,175.5 203.7,174.2 203.2,174.5 202.7,174.8 202.2,172.7 201.7,170.6 201.2,170.0 200.7,170.2 200.2,170.5 199.7,170.2 199.2,168.8 198.7,167.3 198.2,168.6 197.7,169.8 197.2,170.7 196.7,170.7 196.2,170.7 195.7,169.3 195.2,167.2 194.7,165.1 194.2,165.3 193.7,166.7 193.2,168.2 192.7,167.5 192.2,166.7 191.7,167.5 191.2,169.0 190.7,170.5 190.2,172.0 189.7,173.5 189.2,175.0 188.7,176.5 188.2,177.1 187.7,177.7 187.2,178.0 186.7,177.3 186.2,176.7 185.7,177.6 185.2,179.2 184.7,179.8 184.2,178.2 183.7,176.5 183.2,177.4 182.7,178.4 182.2,178.9 181.7,178.7 181.2,178.4 180.7,178.2 180.2,177.4 179.7,176.7 179.2,175.9 178.7,175.0 178.2,174.0 177.7,173.0 177.2,172.6 176.7,173.3 176.2,174.1 175.7,174.8 175.2,174.6 174.7,174.3 174.2,174.1 173.7,172.8 173.2,170.9 172.7,169.0 172.2,174.0 171.7,179.0 171.2,180.3 170.7,179.8 170.2,179.3 169.7,178.6 169.2,177.3 168.7,176.1 168.2,174.8 167.7,177.6 167.2,180.3 166.7,183.1 166.2,182.4 165.7,179.9 165.2,178.0 164.7,177.3 164.2,176.7 163.7,176.5 163.2,176.5 162.7,176.5 162.2,178.7 161.7,181.0 161.2,183.2 160.7,183.0 160.2,181.4 159.7,179.8 159.2,181.6 158.7,183.4 158.2,184.0 157.7,183.9 157.2,183.8 156.7,183.8 156.2,183.7 155.7,183.6 155.2,183.5 154.7,183.4 154.2,183.3 153.7,183.2 153.2,183.0 152.7,182.8 152.2,182.5 151.7,182.3 151.2,182.1 150.7,181.9 150.2,181.8 149.7,181.7 149.2,181.6 148.7,181.5 148.2,180.8 147.7,179.8 147.2,178.8 146.7,178.3 146.2,178.8 145.7,179.3 145.2,179.8 144.7,180.3 144.2,180.4 143.7,179.7 143.2,178.9 142.7,178.2 142.2,179.6 141.7,181.1 141.2,182.5 140.7,184.0 140.2,183.7 139.7,183.4 139.2,183.7 138.7,185.2 138.2,186.8 137.7,188.0 137.2,189.1 136.7,190.1 136.2,191.1 135.7,192.2 135.2,193.2 134.7,194.2 134.2,193.8 133.7,190.5 133.2,187.3 132.7,184.0 132.2,183.3 131.7,182.5 131.2,181.8 130.7,180.7 130.2,179.6 129.7,178.4 129.2,177.9 128.7,178.5 128.2,179.2 127.7,179.8 127.2,176.1 126.7,172.4 126.2,169.0 125.7,166.5 125.2,164.0 124.7,161.2 124.2,158.3 123.7,157.5 123.2,157.6 122.7,157.8 122.2,160.4 121.7,163.1 121.2,165.5 120.7,167.7 120.2,169.8 119.7,172.3 119.2,174.8 118.7,177.3 118.2,176.1 117.7,174.8 117.2,174.0 116.7,173.8 116.2,173.7 115.7,173.5 115.2,174.7 114.7,176.0 114.2,177.2 113.7,178.4 113.2,179.6 112.7,180.7 112.2,181.2 111.7,180.1 111.2,179.0 110.7,179.2 110.2,180.1 109.7,180.9 109.2,181.4 108.7,181.0 108.2,180.7 107.7,180.3 107.2,180.9 106.7,181.5 106.2,182.1 105.7,182.7 105.2,184.1 104.7,185.5 104.2,186.9 103.7,186.0 103.2,184.0 102.7,182.0 102.2,182.1 101.7,182.2 101.2,182.3 100.7,182.0 100.2,181.5 99.7,181.0 99.2,180.4 98.7,179.4 98.2,178.5 97.7,177.7 97.2,176.9 96.7,176.2 96.2,175.5 95.7,175.0 95.2,174.5 94.7,174.0 94.2,172.5 93.7,171.0 93.2,169.5 92.7,171.8 92.2,174.1 91.7,175.9 91.2,176.8 90.7,177.7 90.2,179.4 89.7,181.2 89.2,183.3 88.7,186.1 88.2,188.9 87.7,190.1 87.2,190.5 86.7,190.9 86.2,191.4 85.7,191.7 85.2,192.1 84.7,192.4 84.2,192.7 83.7,193.1 83.2,193.8 82.7,194.8 82.2,195.8 81.7,196.3 81.2,195.8 80.7,195.3 80.2,194.8 79.7,195.9 79.2,197.0 78.7,198.8 78.2,201.1 77.7,203.4 77.2,205.7 76.7,204.3 76.2,203.0 75.7,201.6 75.2,201.8 74.7,202.7 74.2,203.6 73.7,204.5 73.2,205.2 72.7,205.7 72.2,206.2 71.7,207.0 71.2,208.5 70.7,210.0 70.2,211.5 69.7,211.9 69.2,212.3 68.7,212.7 68.2,213.0 67.7,212.4 67.2,211.3 66.7,210.2 66.2,209.0 65.7,209.3 65.2,210.2 64.7,211.1 64.2,212.0 63.7,212.9 63.2,213.7 62.7,214.4 62.2,215.2 61.7,215.9 61.2,216.7 60.7,217.4 60.2,218.2 59.7,219.1 59.2,220.1 58.7,221.0 58.2,222.0 57.7,219.0 57.2,217.3 56.7,218.4 56.2,219.5 55.7,219.9 55.2,220.1 54.7,220.3 54.2,220.4 53.7,220.6 53.2,220.6 52.7,220.4 52.2,220.2 51.7,220.1 51.2,219.9 50.7,219.1 50.2,218.1 49.7,217.1 49.2,216.0 48.7,214.8 48.2,213.6 47.7,212.3 47.2,211.0 46.7,212.8 46.2,214.6 45.7,216.4 45.2,218.2 44.7,218.7 44.2,219.2 43.7,219.7 43.2,220.2 42.7,220.7 42.2,221.2 41.7,221.9 41.2,223.2 40.7,224.4 40.2,225.7 39.7,228.1 39.2,230.6 38.7,233.1 38.2,234.3 37.7,234.8 37.2,235.2 36.7,235.7"/>
<polygon fill="#884e70" points="36.7,235.7 37.2,235.2 37.7,234.8 38.2,234.3 38.7,233.1 39.2,230.6 39.7,228.1 40.2,225.7 40.7,224.4 41.2,223.2 41.7,221.9 42.2,221.2 42.7,220.7 43.2,220.2 43.7,219.7 44.2,219.2 44.7,218.7 45.2,218.2 45.7,216.4 46.2,214.6 46.7,212.8 47.2,211.0 47.7,212.3 48.2,213.6 48.7,214.8 49.2,216.0 49.7,217.1 50.2,218.1 50.7,219.1 51.2,219.9 51.7,220.1 52.2,220.2 52.7,220.4 53.2,220.6 53.7,220.6 54.2,220.4 54.7,220.3 55.2,220.1 55.7,219.9 56.2,219.5 56.7,218.4 57.2,217.3 57.7,219.0 58.2,222.0 58.7,221.0 59.2,220.1 59.7,219.1 60.2,218.2 60.7,217.4 61.2,216.7 61.7,215.9 62.2,215.2 62.7,214.4 63.2,213.7 63.7,212.9 64.2,212.0 64.7,211.1 65.2,210.2 65.7,209.3 66.2,209.0 66.7,210.2 67.2,211.3 67.7,212.4 68.2,213.0 68.7,212.7 69.2,212.3 69.7,211.9 70.2,211.5 70.7,210.0 71.2,208.5 71.7,207.0 72.2,206.2 72.7,205.7 73.2,205.2 73.7,204.5 74.2,203.6 74.7,202.7 75.2,201.8 75.7,201.6 76.2,203.0 76.7,204.3 77.2,205.7 77.7,203.4 78.2,201.1 78.7,198.8 79.2,197.0 79.7,195.9 80.2,194.8 80.7,195.3 81.2,195.8 81.7,196.3 82.2,195.8 82.7,194.8 83.2,193.8 83.7,193.1 84.2,192.7 84.7,192.4 85.2,192.1 85.7,191.7 86.2,191.4 86.7,190.9 87.2,190.5 87.7,190.1 88.2,188.9 88.7,186.1 89.2,183.3 89.7,181.2 90.2,179.4 90.7,177.7 91.2,176.8 91.7,175.9 92.2,174.1 92.7,171.8 93.2,169.5 93.7,171.0 94.2,172.5 94.7,174.0 95.2,174.5 95.7,175.0 96.2,175.5 96.7,176.2 97.2,176.9 97.7,177.7 98.2,178.5 98.7,179.4 99.2,180.4 99.7,181.0 100.2,181.5 100.7,182.0 101.2,182.3 101.7,182.2 102.2,182.1 102.7,182.0 103.2,184.0 103.7,186.0 104.2,186.9 104.7,185.5 105.2,184.1 105.7,182.7 106.2,182.1 106.7,181.5 107.2,180.9 107.7,180.3 108.2,180.7 108.7,181.0 109.2,181.4 109.7,180.9 110.2,180.1 110.7,179.2 111.2,179.0 111.7,180.1 112.2,181.2 112.7,180.7 113.2,179.6 113.7,178.4 114.2,177.2 114.7,176.0 115.2,174.7 115.7,173.5 116.2,173.7 116.7,173.8 117.2,174.0 117.7,174.8 118.2,176.1 118.7,177.3 119.2,174.8 119.7,172.3 120.2,169.8 120.7,167.7 121.2,165.5 121.7,163.1 122.2,160.4 122.7,157.8 123.2,157.6 123.7,157.5 124.2,158.3 124.7,161.2 125.2,164.0 125.7,166.5 126.2,169.0 126.7,172.4 127.2,176.1 127.7,179.8 128.2,179.2 128.7,178.5 129.2,177.9 129.7,178.4 130.2,179.6 130.7,180.7 131.2,181.8 131.7,182.5 132.2,183.3 132.7,184.0 133.2,187.3 133.7,190.5 134.2,193.8 134.7,194.2 135.2,193.2 135.7,192.2 136.2,191.1 136.7,190.1 137.2,189.1 137.7,188.0 138.2,186.8 138.7,185.2 139.2,183.7 139.7,183.4 140.2,183.7 140.7,184.0 141.2,182.5 141.7,181.1 142.2,179.6 142.7,178.2 143.2,178.9 143.7,179.7 144.2,180.4 144.7,180.3 145.2,179.8 145.7,179.3 146.2,178.8 146.7,178.3 147.2,178.8 147.7,179.8 148.2,180.8 148.7,181.5 149.2,181.6 149.7,181.7 150.2,181.8 150.7,181.9 151.2,182.1 151.7,182.3 152.2,182.5 152.7,182.8 153.2,183.0 153.7,183.2 154.2,183.3 154.7,183.4 155.2,183.5 155.7,183.6 156.2,183.7 156.7,183.8 157.2,183.8 157.7,183.9 158.2,184.0 158.7,183.4 159.2,181.6 159.7,179.8 160.2,181.4 160.7,183.0 161.2,183.2 161.7,181.0 162.2,178.7 162.7,176.5 163.2,176.5 163.7,176.5 164.2,176.7 164.7,177.3 165.2,178.0 165.7,179.9 166.2,182.4 166.7,183.1 167.2,180.3 167.7,177.6 168.2,174.8 168.7,176.1 169.2,177.3 169.7,178.6 170.2,179.3 170.7,179.8 171.2,180.3 171.7,179.0 172.2,174.0 172.7,169.0 173.2,170.9 173.7,172.8 174.2,174.1 174.7,174.3 175.2,174.6 175.7,174.8 176.2,174.1 176.7,173.3 177.2,172.6 177.7,173.0 178.2,174.0 178.7,175.0 179.2,175.9 179.7,176.7 180.2,177.4 180.7,178.2 181.2,178.4 181.7,178.7 182.2,178.9 182.7,178.4 183.2,177.4 183.7,176.5 184.2,178.2 184.7,179.8 185.2,179.2 185.7,177.6 186.2,176.7 186.7,177.3 187.2,178.0 187.7,177.7 188.2,177.1 188.7,176.5 189.2,175.0 189.7,173.5 190.2,172.0 190.7,170.5 191.2,169.0 191.7,167.5 192.2,166.7 192.7,167.5 193.2,168.2 193.7,166.7 194.2,165.3 194.7,165.1 195.2,167.2 195.7,169.3 196.2,170.7 196.7,170.7 197.2,170.7 197.7,169.8 198.2,168.6 198.7,167.3 199.2,168.8 199.7,170.2 200.2,170.5 200.7,170.2 201.2,170.0 201.7,170.6 202.2,172.7 202.7,174.8 203.2,174.5 203.7,174.2 204.2,175.5 204.7,179.9 205.2,184.2 205.7,185.5 206.2,185.2 206.7,185.0 207.2,183.7 207.7,180.5 208.2,177.4 208.7,181.3 209.2,185.2 209.7,186.9 210.2,187.5 210.7,185.6 211.2,182.6 211.7,181.9 212.2,185.6 212.7,189.3 213.2,188.9 213.7,188.4 214.2,187.9 214.7,187.5 215.2,186.2 215.7,184.4 216.2,182.7 216.7,180.4 217.2,177.2 217.7,174.0 218.2,175.3 218.7,176.5 219.2,174.7 219.7,172.9 220.2,171.4 220.7,169.9 221.2,169.0 221.7,169.0 222.2,169.0 222.7,166.1 223.2,161.7 223.7,157.3 224.2,155.8 224.7,154.3 225.2,155.8 225.7,157.3 226.2,157.2 226.7,157.1 227.2,158.0 227.7,161.0 228.2,164.0 228.7,165.1 229.2,166.2 229.7,169.0 230.2,172.8 230.7,176.5 231.2,179.6 231.7,182.8 232.2,185.3 232.7,186.7 233.2,188.2 233.7,190.7 234.2,191.9 234.7,190.7 235.2,189.4 235.7,188.3 236.2,187.2 236.7,187.5 237.2,190.3 237.7,193.2 238.2,192.9 238.7,192.7 239.2,192.4 239.7,189.5 240.2,185.4 240.7,181.8 241.2,178.6 241.7,175.9 242.2,174.1 242.7,172.3 243.2,172.0 243.7,171.7 244.2,171.5 244.7,171.5 245.2,171.5 245.7,176.6 246.2,184.0 246.7,187.6 247.2,191.2 247.7,192.5 248.2,192.9 248.7,193.2 249.2,192.8 249.7,192.4 250.2,193.8 250.7,195.9 251.2,197.7 251.7,198.6 252.2,199.5 252.7,200.3 253.2,201.1 253.7,201.8 254.2,202.4 254.7,202.8 255.2,203.1 255.7,202.2 256.2,200.8 256.7,200.2 257.2,201.5 257.7,202.7 258.2,202.3 258.7,202.0 259.2,201.6 259.7,202.1 260.2,203.1 260.7,204.0 261.2,202.5 261.7,201.0 262.2,199.5 262.7,200.7 263.2,203.2 263.7,205.7 264.2,206.4 264.7,207.1 265.2,207.4 265.7,207.6 266.2,207.3 266.7,206.2 267.2,205.2 267.7,204.2 268.2,203.2 268.7,202.2 269.2,201.1 269.7,199.8 270.2,198.6 270.7,197.3 271.2,196.2 271.7,195.1 272.2,195.3 272.7,198.0 273.2,200.7 273.7,198.5 274.2,196.4 274.7,193.4 275.2,190.1 275.7,188.3 276.2,187.2 276.7,186.0 277.2,184.6 277.7,183.2 278.2,186.3 278.7,189.4 279.2,191.1 279.7,189.8 280.2,188.6 280.7,187.5 281.2,186.5 281.7,185.5 282.2,184.9 282.7,185.2 283.2,185.4 283.7,185.7 284.2,185.6 284.7,185.5 285.2,185.4 285.7,185.4 286.2,185.5 286.7,185.6 287.2,185.6 287.7,186.9 288.2,188.8 288.7,190.7 289.2,192.1 289.7,193.5 290.2,193.3 290.7,192.2 291.2,191.5 291.7,191.5 292.2,192.4 292.7,194.9 293.2,197.4 293.7,198.4 294.2,198.8 294.7,198.4 295.2,196.5 295.7,194.6 296.2,192.7 296.7,195.6 297.2,198.5 297.7,201.4 298.2,202.7 298.7,203.2 299.2,203.7 299.7,203.3 300.2,201.2 300.7,199.1 301.2,197.0 301.7,199.1 302.2,201.2 302.7,203.3 303.2,204.5 303.7,205.2 304.2,204.7 304.7,201.9 305.2,199.1 305.7,199.6 306.2,201.8 306.7,204.0 307.2,205.1 307.7,206.2 308.2,205.0 308.7,202.7 309.2,200.5 309.7,199.7 310.2,201.9 310.7,204.0 311.2,202.4 311.7,200.9 312.2,200.5 312.7,202.3 313.2,204.2 313.7,205.1 314.2,205.4 314.7,206.6 315.2,209.5 315.7,212.3 316.2,213.6 316.7,214.8 317.2,216.1 317.7,217.3 318.2,218.6 318.7,220.4 319.2,222.6 319.7,224.7 320.2,226.9 320.7,229.0 321.2,229.8 321.7,230.6 322.2,227.1 322.7,226.2 323.2,230.2 323.7,230.5 324.2,229.1 324.7,228.3 325.2,228.8 325.7,229.3 326.2,229.8 326.7,230.6 327.2,231.3 327.7,231.5 328.2,231.5 328.7,231.5 329.2,229.9 329.7,228.4 330.2,226.6 330.7,224.5 331.2,222.3 331.7,220.9 332.2,219.5 332.7,220.1 333.2,221.6 333.7,223.2 334.2,224.4 334.7,225.7 335.2,226.4 335.7,226.0 336.2,225.7 336.7,224.7 337.2,223.7 337.7,222.7 338.2,221.8 338.7,221.1 339.2,220.3 339.7,220.3 340.2,221.7 340.7,223.2 341.2,222.6 341.7,222.0 342.2,225.7 342.7,229.5 343.2,231.6 343.7,233.1 344.2,233.8 344.7,233.3 345.2,232.8 345.7,232.3 346.2,231.4 346.7,230.5 347.2,229.9 347.7,230.3 348.2,230.6 348.7,231.9 349.2,233.7 349.7,235.3 350.2,236.7 350.7,238.2 351.2,239.0 351.7,239.8 352.2,240.9 352.7,242.0 353.2,241.4 353.7,239.9 354.2,238.6 354.7,237.3 355.2,236.1 355.7,234.9 356.2,233.9 356.7,233.9 357.2,236.1 357.7,238.3 358.2,240.2 358.7,242.0 359.2,243.4 359.7,244.0 360.2,244.6 360.7,244.6 361.2,244.3 361.7,244.0 362.2,244.5 362.7,245.0 363.2,245.5 363.7,245.3 364.2,244.8 364.7,244.3 365.2,244.2 365.7,244.7 366.2,245.2 366.7,245.7 367.2,248.2 367.7,250.7 368.2,251.3 368.7,250.9 369.2,250.6 369.7,250.3 370.2,250.1 370.7,250.0 371.2,249.8 371.7,248.1 372.2,246.3 372.7,244.6 373.2,245.0 373.7,246.4 374.2,247.8 374.7,249.0 375.2,250.3 375.7,251.1 376.2,251.7 376.7,252.3 377.2,252.4 377.7,251.5 378.2,250.7 378.7,249.8 379.2,249.3 379.7,248.8 380.2,248.3 380.7,248.0 381.2,247.6 381.7,247.3 382.2,248.4 382.7,249.5 383.2,249.0 383.7,247.7 384.2,246.5 384.7,244.9 385.2,242.8 385.7,240.7 386.2,239.4 386.7,238.2 387.2,236.9 387.7,235.7 388.2,234.4 388.7,235.0 389.2,236.4 389.7,237.7 390.2,238.8 390.7,239.8 391.2,240.8 391.7,241.7 392.2,241.7 392.7,239.8 393.2,237.9 393.7,237.6 394.2,237.9 394.7,238.9 395.2,241.0 395.7,243.2 396.2,243.8 396.7,244.4 397.2,245.4 397.7,247.2 398.2,248.9 398.7,250.7 399.2,249.7 399.7,248.8 400.2,247.9 400.7,247.2 401.2,246.5 401.7,245.1 402.2,243.6 402.7,243.5 403.2,243.9 403.7,244.3 404.2,245.0 404.7,245.6 405.2,246.3 405.7,246.3 406.2,246.1 406.7,245.8 407.2,246.0 407.7,247.0 408.2,248.0 408.7,249.0 409.2,248.2 409.7,247.5 410.2,246.7 410.7,246.5 411.2,246.5 411.7,246.5 412.2,246.2 412.7,245.5 413.2,244.7 413.7,244.0 414.2,243.0 414.7,242.0 415.2,241.0 415.7,241.7 416.2,243.3 416.7,244.8 417.2,243.8 417.7,242.8 418.2,241.8 418.7,240.5 419.2,239.1 419.7,237.6 420.2,236.0 420.7,234.2 421.2,232.3 421.7,233.1 422.2,235.3 422.7,237.3 423.2,239.1 423.7,240.8 424.2,241.1 424.7,241.5 425.2,242.0 425.7,242.9 426.2,243.9 426.7,243.2 427.2,241.8 427.7,241.2 428.2,242.5 428.7,243.7 429.2,242.9 429.7,242.2 430.2,241.8 430.7,242.3 431.2,242.8 431.7,242.9 432.2,242.7 432.7,242.6 433.2,242.1 433.7,240.8 434.2,239.6 434.7,238.3 435.2,237.3 435.7,236.2 436.2,235.3 436.7,234.4 437.2,233.6 437.7,232.8 438.2,232.2 438.7,231.7 439.2,231.0 439.7,230.4 440.2,229.8 440.7,229.2 441.2,228.5 441.7,229.1 442.2,230.1 442.7,231.4 443.2,233.2 443.7,235.0 444.2,234.5 444.7,234.0 445.2,233.5 445.7,233.1 446.2,232.6 446.7,231.4 447.2,229.8 447.7,228.6 448.2,228.3 448.7,228.0 449.2,228.4 449.7,228.9 450.2,229.1 450.7,228.7 451.2,228.4 451.7,229.7 452.2,231.7 452.7,233.2 453.2,233.7 453.7,234.2 454.2,233.2 454.7,232.2 455.2,231.2 455.7,230.2 456.2,229.2 456.7,228.2 457.2,228.0 457.7,229.4 458.2,230.9 458.7,231.4 459.2,231.5 459.7,231.7 460.2,230.8 460.7,229.9 461.2,229.7 461.7,229.8 462.2,229.9 462.7,229.7 463.2,228.7 463.7,227.7 464.2,226.7 464.7,226.3 465.2,225.9 465.7,226.3 466.2,226.9 466.7,227.5 467.2,229.1 467.7,230.6 468.2,231.5 468.7,231.2 469.2,230.8 469.7,230.3 470.2,229.8 470.7,229.3 471.2,228.0 471.7,226.2 472.2,224.6 472.7,223.3 473.2,222.1 473.7,221.5 474.2,221.2 474.7,221.0 475.2,220.5 475.7,219.6 476.2,218.6 476.7,217.4 477.2,215.9 477.7,214.8 478.2,214.0 478.7,213.3 479.2,212.7 479.7,212.1 480.2,211.4 480.7,210.7 481.2,209.9 481.7,210.5 482.2,211.7 482.7,213.7 483.2,217.2 483.7,219.6 484.2,221.5 484.7,223.3 485.2,224.8 485.7,226.2 486.2,227.6 486.7,229.1 487.2,231.0 487.7,233.9 488.2,236.4 488.7,238.2 489.2,240.0 489.7,241.8 490.2,243.6 490.7,245.2 491.2,246.8 491.7,248.4 492.2,251.9 492.7,255.0 493.2,257.5 493.7,257.5 494.2,256.2 494.7,255.0 495.2,254.1 495.7,253.3 496.2,252.9 496.7,252.6 497.2,252.9 497.7,254.2 498.2,255.4 498.7,256.3 499.2,256.9 499.7,257.5 500.2,257.0 500.7,256.5 501.2,257.2 501.7,258.4 502.2,259.5 502.7,260.4 503.2,261.4 503.7,261.2 504.2,260.6 504.7,260.0 505.2,261.4 505.7,262.9 506.2,263.8 506.7,264.5 507.2,265.0 507.7,265.2 508.2,265.3 508.7,264.6 509.2,263.6 509.7,262.5 510.2,261.1 510.7,259.6 511.2,258.2 511.7,256.8 512.2,255.4 512.7,254.2 513.2,252.9 513.7,251.9 514.2,250.9 514.7,250.0 515.2,250.7 515.7,251.4 516.2,250.7 516.7,249.3 517.2,248.1 517.7,247.5 518.2,246.9 518.7,246.5 519.2,246.1 519.7,245.8 520.2,244.8 520.7,243.7 521.2,242.4 521.7,240.9 522.2,239.7 522.7,238.9 523.2,238.8 523.7,240.2 524.2,241.7 524.7,240.9 525.2,240.2 525.7,239.6 526.2,239.0 526.7,238.3 527.2,238.8 527.7,239.3 528.2,239.6 528.7,239.4 529.2,239.2 529.7,238.4 530.2,237.7 530.7,237.9 531.2,238.5 531.7,239.2 532.2,240.7 532.7,242.3 533.2,244.1 533.7,246.2 534.2,248.3 534.7,246.2 535.2,244.0 535.7,242.5 536.2,241.2 536.7,240.0 537.2,239.9 537.7,239.8 538.2,239.7 538.7,239.4 539.2,239.0 539.7,238.6 540.2,238.9 540.7,240.4 541.2,242.0 541.7,241.1 542.2,238.9 542.7,236.8 543.2,234.6 543.7,232.5 544.2,230.3 544.7,228.1 545.2,227.2 545.7,228.9 546.2,230.7 546.7,232.8 547.2,234.7 547.7,236.3 548.2,237.1 548.7,236.5 549.2,235.9 549.7,236.1 550.2,236.9 550.7,237.5 551.2,237.8 551.7,238.2 552.2,238.0 552.7,237.8 553.2,237.8 553.7,238.3 554.2,238.8 554.7,239.7 555.2,240.8 555.7,241.4 556.2,241.0 556.7,240.7 557.2,241.3 557.7,241.9 558.2,242.1 558.7,241.5 559.2,240.9 559.7,241.6 560.2,243.1 560.7,244.1 561.2,244.5 561.7,244.8 562.2,245.8 562.7,246.7 563.2,247.7 563.7,248.8 564.2,249.8 564.7,249.5 565.2,249.2 565.7,249.6 566.2,251.4 566.7,253.2 567.2,254.7 567.7,256.3 568.2,256.7 568.7,254.7 569.2,251.6 569.7,248.2 570.2,248.2 570.7,248.2 571.2,248.0 571.7,247.7 572.2,247.3 572.7,247.0 573.2,246.6 573.7,246.0 574.2,245.1 574.7,244.3 575.2,243.1 575.7,241.9 576.2,243.2 576.7,245.7 577.2,244.7 577.7,243.8 578.2,243.3 578.7,243.6 579.2,244.0 579.7,244.9 580.2,245.9 580.7,246.1 581.2,245.1 581.7,244.0 582.2,243.4 582.7,242.7 583.2,242.1 583.7,241.5 584.2,240.9 584.7,239.7 585.2,238.3 585.7,236.6 586.2,234.5 586.7,232.3 587.2,230.8 587.7,229.2 588.2,228.0 588.7,227.3 589.2,226.7 589.7,225.8 590.2,224.7 590.7,223.4 591.2,221.6 591.7,219.8 592.2,218.9 592.7,218.0 593.2,217.0 593.7,216.1 594.2,215.1 594.7,216.3 595.2,218.4 595.7,220.3 596.2,221.7 596.7,223.2 597.2,223.8 597.7,224.4 598.2,225.1 598.7,225.9 599.2,226.7 599.7,227.6 600.2,228.4 600.7,229.4 601.2,230.4 601.7,231.5 602.2,232.4 602.7,233.4 603.2,234.4 603.7,235.7 604.2,236.9 604.7,238.1 605.2,239.1 605.7,238.1 606.2,233.1 606.7,229.0 607.2,225.2 607.7,225.0 608.2,226.5 608.7,226.7 609.2,226.2 609.7,225.7 610.2,225.0 610.7,224.4 611.2,223.8 611.7,223.0 612.2,222.3 612.7,221.5 613.2,220.6 613.7,219.8 614.2,219.0 614.7,218.2 615.2,217.2 615.7,216.3 616.2,216.3 616.7,218.1 617.2,219.8 617.7,220.8 618.2,221.7 618.7,222.3 619.2,222.7 619.7,223.2 620.2,223.5 620.7,223.8 621.2,224.1 621.7,224.5 622.2,224.8 622.7,225.3 623.2,225.8 623.7,225.8 624.2,225.6 624.7,225.3 625.2,226.2 625.7,227.1 626.2,229.0 626.7,231.5 627.2,234.4 627.7,237.3 628.2,239.1 628.7,240.9 629.2,241.0 629.7,240.3 630.2,239.9 630.7,240.3 631.2,240.6 631.7,240.9 632.2,241.2 632.7,241.5 633.2,240.3 633.7,239.1 634.2,239.0 634.7,239.5 635.2,239.6 635.7,239.0 636.2,238.4 636.7,238.4 637.2,238.7 637.7,239.0 638.2,238.6 638.7,238.3 639.2,236.7 639.7,234.6 640.2,233.9 640.7,236.0 641.2,237.1 641.7,236.4 642.2,235.7 642.7,236.7 643.2,237.8 643.7,238.4 644.2,238.7 644.7,239.0 645.2,239.7 645.7,240.4 646.2,241.3 646.7,242.2 647.2,243.2 647.7,244.6 648.2,246.0 648.7,247.3 649.2,248.6 649.7,249.8 650.2,250.8 650.7,251.7 651.2,252.2 651.7,251.9 652.2,251.5 652.7,252.6 653.2,253.6 653.7,254.4 654.2,255.0 654.7,255.7 655.2,256.6 655.7,257.5 656.2,257.6 656.7,255.8 657.2,254.0 657.7,255.4 658.2,256.9 658.7,257.1 659.2,256.8 659.7,256.5 660.2,255.2 660.7,254.0 661.2,252.9 661.7,252.2 662.2,251.5 662.7,251.1 663.2,250.8 663.7,250.9 664.2,251.2 664.7,251.5 665.2,249.3 665.7,247.1 666.2,245.8 666.7,246.1 667.2,246.5 667.2,297.9 666.7,297.7 666.2,297.6 665.7,298.3 665.2,299.3 664.7,300.4 664.2,301.0 663.7,301.6 663.2,302.3 662.7,303.0 662.2,303.7 661.7,304.8 661.2,305.9 660.7,307.0 660.2,308.3 659.7,309.5 659.2,309.2 658.7,308.9 658.2,308.4 657.7,307.3 657.2,306.2 656.7,306.8 656.2,307.4 655.7,307.0 655.2,306.2 654.7,305.4 654.2,304.5 653.7,303.5 653.2,302.8 652.7,302.4 652.2,302.1 651.7,301.3 651.2,300.6 650.7,300.0 650.2,299.3 649.7,298.7 649.2,297.8 648.7,296.8 648.2,296.1 647.7,295.7 647.2,295.4 646.7,294.9 646.2,294.5 645.7,294.0 645.2,293.5 644.7,292.9 644.2,292.4 643.7,291.9 643.2,291.7 642.7,292.1 642.2,292.5 641.7,293.3 641.2,294.0 640.7,294.1 640.2,293.8 639.7,294.2 639.2,294.9 638.7,295.6 638.2,296.3 637.7,297.0 637.2,297.1 636.7,297.1 636.2,297.2 635.7,297.5 635.2,297.8 634.7,297.9 634.2,297.9 633.7,298.0 633.2,298.4 632.7,298.7 632.2,299.0 631.7,299.3 631.2,299.8 630.7,300.4 630.2,301.0 629.7,300.7 629.2,300.0 628.7,299.1 628.2,297.7 627.7,296.2 627.2,295.0 626.7,293.7 626.2,292.6 625.7,291.6 625.2,290.7 624.7,289.9 624.2,289.2 623.7,288.6 623.2,288.4 622.7,288.2 622.2,287.8 621.7,287.3 621.2,286.8 620.7,286.2 620.2,285.6 619.7,284.7 619.2,283.6 618.7,282.4 618.2,281.0 617.7,279.6 617.2,277.9 616.7,276.2 616.2,276.8 615.7,277.3 615.2,277.8 614.7,278.2 614.2,278.7 613.7,279.2 613.2,279.7 612.7,280.3 612.2,280.9 611.7,280.7 611.2,280.5 610.7,280.6 610.2,280.9 609.7,281.2 609.2,281.1 608.7,281.0 608.2,280.8 607.7,280.6 607.2,280.7 606.7,281.5 606.2,282.7 605.7,284.7 605.2,284.7 604.7,283.7 604.2,283.1 603.7,282.5 603.2,281.8 602.7,281.1 602.2,280.4 601.7,279.3 601.2,278.2 600.7,277.7 600.2,277.4 599.7,277.1 599.2,276.4 598.7,275.8 598.2,275.0 597.7,274.0 597.2,272.9 596.7,272.2 596.2,271.5 595.7,270.9 595.2,270.4 594.7,269.9 594.2,269.6 593.7,269.4 593.2,269.4 592.7,269.9 592.2,270.4 591.7,271.8 591.2,273.2 590.7,274.3 590.2,275.1 589.7,275.9 589.2,276.6 588.7,277.4 588.2,278.2 587.7,279.3 587.2,280.4 586.7,282.5 586.2,284.7 585.7,286.2 585.2,287.5 584.7,288.7 584.2,289.3 583.7,290.0 583.2,290.6 582.7,291.3 582.2,292.0 581.7,293.6 581.2,295.2 580.7,296.0 580.2,295.3 579.7,294.6 579.2,294.2 578.7,293.9 578.2,293.8 577.7,294.0 577.2,294.2 576.7,293.8 576.2,293.5 575.7,293.4 575.2,294.0 574.7,294.5 574.2,295.5 573.7,296.4 573.2,297.3 572.7,298.0 572.2,298.7 571.7,299.4 571.2,300.1 570.7,300.6 570.2,300.9 569.7,301.2 569.2,302.7 568.7,304.2 568.2,305.7 567.7,306.0 567.2,305.7 566.7,305.4 566.2,304.3 565.7,303.2 565.2,302.5 564.7,301.8 564.2,301.2 563.7,300.5 563.2,299.8 562.7,299.2 562.2,298.7 561.7,298.2 561.2,297.4 560.7,296.5 560.2,295.5 559.7,294.4 559.2,293.9 558.7,294.3 558.2,294.7 557.7,295.1 557.2,295.5 556.7,295.9 556.2,296.0 555.7,296.2 555.2,295.7 554.7,294.8 554.2,294.0 553.7,293.1 553.2,292.3 552.7,292.3 552.2,292.6 551.7,292.9 551.2,293.9 550.7,295.0 550.2,295.6 549.7,296.0 549.2,296.3 548.7,296.6 548.2,296.9 547.7,296.4 547.2,295.5 546.7,293.8 546.2,291.8 545.7,290.2 545.2,289.0 544.7,289.8 544.2,291.7 543.7,293.5 543.2,295.7 542.7,297.8 542.2,299.5 541.7,300.9 541.2,301.5 540.7,300.2 540.2,299.0 539.7,298.4 539.2,298.1 538.7,297.9 538.2,297.6 537.7,297.4 537.2,297.1 536.7,296.9 536.2,297.0 535.7,297.1 535.2,297.4 534.7,297.8 534.2,298.2 533.7,297.3 533.2,296.4 532.7,295.6 532.2,295.0 531.7,294.4 531.2,293.6 530.7,292.8 530.2,292.4 529.7,292.8 529.2,293.2 528.7,293.7 528.2,294.2 527.7,294.0 527.2,293.3 526.7,292.7 526.2,293.3 525.7,294.0 525.2,294.9 524.7,296.3 524.2,297.7 523.7,296.5 523.2,295.3 522.7,295.3 522.2,295.9 521.7,295.8 521.2,295.5 520.7,295.4 520.2,296.0 519.7,296.5 519.2,297.0 518.7,297.4 518.2,297.8 517.7,298.1 517.2,298.4 516.7,298.6 516.2,298.8 515.7,298.7 515.2,298.2 514.7,297.7 514.2,298.6 513.7,299.6 513.2,300.7 512.7,302.3 512.2,303.9 511.7,305.3 511.2,306.8 510.7,308.1 510.2,309.1 509.7,310.2 509.2,310.5 508.7,310.8 508.2,310.9 507.7,310.6 507.2,310.3 506.7,310.2 506.2,310.2 505.7,310.4 505.2,311.0 504.7,311.5 504.2,312.6 503.7,313.7 503.2,314.2 502.7,313.6 502.2,312.9 501.7,312.0 501.2,310.9 500.7,310.1 500.2,309.7 499.7,309.4 499.2,309.7 498.7,310.1 498.2,310.4 497.7,310.7 497.2,310.9 496.7,311.0 496.2,310.7 495.7,310.4 495.2,310.6 494.7,311.6 494.2,312.7 493.7,312.0 493.2,311.3 492.7,310.6 492.2,310.0 491.7,309.4 491.2,308.8 490.7,308.1 490.2,307.6 489.7,307.2 489.2,306.9 488.7,306.2 488.2,305.5 487.7,303.6 487.2,301.1 486.7,299.0 486.2,297.3 485.7,295.7 485.2,294.6 484.7,293.6 484.2,292.0 483.7,290.4 483.2,288.4 482.7,285.4 482.2,283.6 481.7,282.4 481.2,281.5 480.7,281.3 480.2,281.1 479.7,281.3 479.2,281.6 478.7,281.9 478.2,282.6 477.7,283.3 477.2,284.3 476.7,285.3 476.2,286.4 475.7,287.3 475.2,288.2 474.7,288.5 474.2,288.4 473.7,288.3 473.2,288.5 472.7,289.2 472.2,290.0 471.7,291.6 471.2,293.8 470.7,295.5 470.2,296.4 469.7,297.2 469.2,297.6 468.7,298.0 468.2,297.4 467.7,295.1 467.2,292.7 466.7,290.0 466.2,287.1 465.7,285.1 465.2,284.7 464.7,284.4 464.2,285.0 463.7,285.6 463.2,286.3 462.7,286.9 462.2,287.5 461.7,288.0 461.2,288.3 460.7,288.1 460.2,286.7 459.7,285.2 459.2,286.9 458.7,288.5 458.2,287.5 457.7,286.4 457.2,286.3 456.7,286.6 456.2,287.9 455.7,290.9 455.2,293.9 454.7,295.5 454.2,296.3 453.7,297.2 453.2,296.7 452.7,296.2 452.2,294.9 451.7,293.1 451.2,291.8 450.7,291.5 450.2,291.2 449.7,291.3 449.2,291.6 448.7,291.9 448.2,292.6 447.7,293.3 447.2,293.6 446.7,293.6 446.2,293.8 445.7,294.4 445.2,295.0 444.7,295.5 444.2,296.0 443.7,296.5 443.2,295.3 442.7,294.0 442.2,293.3 441.7,293.0 441.2,293.0 440.7,294.0 440.2,294.9 439.7,295.8 439.2,296.8 438.7,297.7 438.2,298.4 437.7,299.1 437.2,299.9 436.7,300.6 436.2,301.4 435.7,302.2 435.2,303.3 434.7,304.4 434.2,305.9 433.7,307.4 433.2,308.9 432.7,309.5 432.2,309.8 431.7,310.0 431.2,310.5 430.7,311.5 430.2,312.4 429.7,312.7 429.2,312.7 428.7,312.7 428.2,312.8 427.7,313.2 427.2,313.5 426.7,313.9 426.2,313.8 425.7,313.7 425.2,313.6 424.7,313.1 424.2,312.5 423.7,311.9 423.2,310.5 422.7,309.0 422.2,307.5 421.7,305.9 421.2,305.6 420.7,308.0 420.2,310.3 419.7,311.2 419.2,311.5 418.7,311.7 418.2,311.6 417.7,310.6 417.2,309.7 416.7,308.4 416.2,306.9 415.7,305.4 415.2,304.1 414.7,303.4 414.2,302.6 413.7,301.9 413.2,302.1 412.7,302.4 412.2,302.6 411.7,302.4 411.2,301.9 410.7,301.4 410.2,300.9 409.7,300.4 409.2,299.9 408.7,299.4 408.2,298.6 407.7,297.9 407.2,297.1 406.7,296.7 406.2,296.4 405.7,296.1 405.2,296.4 404.7,296.8 404.2,297.4 403.7,298.1 403.2,298.9 402.7,299.8 402.2,301.0 401.7,302.3 401.2,303.5 400.7,304.3 400.2,305.0 399.7,304.6 399.2,303.7 398.7,302.7 398.2,302.0 397.7,301.2 397.2,300.5 396.7,299.4 396.2,298.1 395.7,296.9 395.2,297.2 394.7,297.6 394.2,297.5 393.7,297.1 393.2,297.1 392.7,297.7 392.2,298.3 391.7,297.3 391.2,295.4 390.7,293.6 390.2,291.8 389.7,290.0 389.2,288.2 388.7,286.4 388.2,285.7 387.7,287.3 387.2,288.9 386.7,290.4 386.2,292.0 385.7,293.5 385.2,295.0 384.7,296.4 384.2,296.7 383.7,296.5 383.2,296.2 382.7,295.8 382.2,294.9 381.7,294.1 381.2,293.2 380.7,293.6 380.2,293.9 379.7,294.3 379.2,295.0 378.7,296.0 378.2,297.0 377.7,297.6 377.2,297.1 376.7,296.6 376.2,296.1 375.7,295.6 375.2,295.1 374.7,294.6 374.2,293.4 373.7,292.0 373.2,291.3 372.7,291.9 372.2,292.5 371.7,293.5 371.2,294.8 370.7,296.0 370.2,296.3 369.7,296.5 369.2,296.8 368.7,297.2 368.2,297.7 367.7,298.2 367.2,298.2 366.7,297.1 366.2,296.1 365.7,297.1 365.2,298.2 364.7,299.0 364.2,299.8 363.7,300.5 363.2,301.1 362.7,301.1 362.2,301.1 361.7,301.1 361.2,301.8 360.7,302.5 360.2,303.3 359.7,303.3 359.2,303.0 358.7,302.7 358.2,301.8 357.7,300.8 357.2,299.8 356.7,298.3 356.2,296.9 355.7,298.5 355.2,300.1 354.7,301.7 354.2,302.2 353.7,302.1 353.2,302.0 352.7,301.7 352.2,301.2 351.7,300.7 351.2,300.2 350.7,299.5 350.2,298.8 349.7,297.3 349.2,295.4 348.7,293.6 348.2,292.0 347.7,290.4 347.2,289.6 346.7,290.3 346.2,291.0 345.7,292.5 345.2,293.9 344.7,293.9 344.2,293.1 343.7,292.4 343.2,291.6 342.7,290.6 342.2,289.7 341.7,288.3 341.2,286.6 340.7,284.9 340.2,284.7 339.7,284.5 339.2,285.1 338.7,286.2 338.2,287.3 337.7,288.5 337.2,289.8 336.7,291.2 336.2,292.8 335.7,294.4 335.2,294.0 334.7,293.7 334.2,292.9 333.7,291.9 333.2,290.9 332.7,290.4 332.2,290.9 331.7,291.4 331.2,291.9 330.7,292.9 330.2,293.9 329.7,294.9 329.2,295.9 328.7,296.9 328.2,297.9 327.7,298.4 327.2,298.1 326.7,297.7 326.2,296.8 325.7,295.8 325.2,295.6 324.7,296.9 324.2,298.1 323.7,297.8 323.2,296.8 322.7,296.6 322.2,298.4 321.7,300.2 321.2,299.4 320.7,298.6 320.2,296.4 319.7,294.3 319.2,292.8 318.7,291.8 318.2,290.6 317.7,289.4 317.2,288.1 316.7,287.4 316.2,286.9 315.7,286.4 315.2,285.5 314.7,284.0 314.2,282.4 313.7,281.2 313.2,280.1 312.7,279.0 312.2,278.0 311.7,276.9 311.2,275.3 310.7,273.8 310.2,272.4 309.7,271.3 309.2,270.2 308.7,271.8 308.2,273.3 307.7,274.2 307.2,273.4 306.7,272.7 306.2,271.7 305.7,270.7 305.2,269.7 304.7,269.9 304.2,270.6 303.7,271.4 303.2,271.8 302.7,271.6 302.2,271.3 301.7,271.1 301.2,271.5 300.7,272.0 300.2,272.5 299.7,273.5 299.2,274.8 298.7,276.0 298.2,274.2 297.7,272.3 297.2,270.0 296.7,266.8 296.2,263.6 295.7,262.3 295.2,261.1 294.7,259.8 294.2,260.1 293.7,261.2 293.2,261.2 292.7,259.0 292.2,256.8 291.7,256.3 291.2,256.6 290.7,256.9 290.2,256.4 289.7,255.9 289.2,255.4 288.7,254.5 288.2,253.4 287.7,252.3 287.2,251.9 286.7,253.0 286.2,254.2 285.7,255.3 285.2,256.4 284.7,257.4 284.2,258.4 283.7,259.4 283.2,258.5 282.7,257.7 282.2,256.8 281.7,256.8 281.2,257.1 280.7,257.5 280.2,257.0 279.7,254.8 279.2,252.6 278.7,250.2 278.2,247.7 277.7,245.2 277.2,246.6 276.7,248.1 276.2,248.3 275.7,248.0 275.2,248.2 274.7,249.7 274.2,251.2 273.7,252.7 273.2,252.5 272.7,252.2 272.2,252.0 271.7,253.0 271.2,254.8 270.7,256.5 270.2,258.2 269.7,259.7 269.2,261.2 268.7,262.7 268.2,263.2 267.7,263.7 267.2,264.2 266.7,264.2 266.2,264.0 265.7,263.7 265.2,263.4 264.7,262.9 264.2,262.4 263.7,261.9 263.2,261.1 262.7,260.4 262.2,260.3 261.7,261.7 261.2,263.1 260.7,264.0 260.2,264.7 259.7,264.8 259.2,263.6 258.7,262.3 258.2,261.1 257.7,260.1 257.2,259.2 256.7,258.2 256.2,260.9 255.7,263.5 255.2,266.5 254.7,268.4 254.2,268.1 253.7,267.7 253.2,266.5 252.7,265.2 252.2,264.0 251.7,262.7 251.2,261.5 250.7,259.2 250.2,256.3 249.7,254.9 249.2,256.6 248.7,258.2 248.2,256.7 247.7,255.2 247.2,252.7 246.7,250.2 246.2,248.0 245.7,245.8 245.2,244.1 244.7,243.3 244.2,242.4 243.7,241.6 243.2,242.4 242.7,243.2 242.2,244.1 241.7,245.4 241.2,247.0 240.7,248.5 240.2,251.7 239.7,254.8 239.2,257.1 238.7,257.8 238.2,258.5 237.7,255.9 237.2,253.1 236.7,252.9 236.2,254.0 235.7,255.3 235.2,256.8 234.7,257.8 234.2,258.2 233.7,258.5 233.2,258.1 232.7,257.6 232.2,256.8 231.7,255.4 231.2,254.0 230.7,251.4 230.2,248.2 229.7,245.8 229.2,245.1 228.7,244.4 228.2,242.8 227.7,241.3 227.2,239.6 226.7,237.6 226.2,235.6 225.7,234.9 225.2,234.9 224.7,234.9 224.2,234.9 223.7,236.2 223.2,238.2 222.7,240.2 222.2,240.9 221.7,241.6 221.2,242.2 220.7,242.7 220.2,243.2 219.7,244.1 219.2,245.9 218.7,247.7 218.2,247.1 217.7,246.5 217.2,246.5 216.7,247.7 216.2,249.0 215.7,250.2 215.2,252.3 214.7,254.4 214.2,256.5 213.7,257.3 213.2,257.5 212.7,257.7 212.2,256.7 211.7,255.6 211.2,256.1 210.7,257.4 210.2,257.8 209.7,256.4 209.2,255.0 208.7,253.6 208.2,251.8 207.7,250.1 207.2,249.4 206.7,250.8 206.2,252.2 205.7,251.5 205.2,249.8 204.7,248.0 204.2,246.2 203.7,244.4 203.2,245.6 202.7,246.9 202.2,246.6 201.7,246.4 201.2,246.1 200.7,245.9 200.2,245.6 199.7,245.4 199.2,245.0 198.7,244.4 198.2,243.8 197.7,243.2 197.2,243.5 196.7,243.8 196.2,244.1 195.7,244.4 195.2,244.6 194.7,244.9 194.2,245.1 193.7,245.0 193.2,244.6 192.7,244.3 192.2,244.2 191.7,244.8 191.2,245.4 190.7,246.0 190.2,245.4 189.7,244.8 189.2,244.1 188.7,244.1 188.2,244.5 187.7,244.9 187.2,245.4 186.7,245.9 186.2,246.4 185.7,246.9 185.2,248.1 184.7,249.4 184.2,250.6 183.7,251.0 183.2,250.8 182.7,250.7 182.2,250.4 181.7,249.9 181.2,249.4 180.7,248.9 180.2,248.0 179.7,247.2 179.2,246.3 178.7,245.6 178.2,244.8 177.7,244.1 177.2,243.9 176.7,244.9 176.2,245.9 175.7,246.9 175.2,246.1 174.7,245.4 174.2,244.6 173.7,243.4 173.2,241.8 172.7,240.2 172.2,240.9 171.7,241.6 171.2,242.5 170.7,243.5 170.2,244.5 169.7,245.3 169.2,245.5 168.7,245.8 168.2,246.0 167.7,247.5 167.2,249.0 166.7,250.5 166.2,248.7 165.7,245.1 165.2,242.2 164.7,240.6 164.2,239.1 163.7,238.7 163.2,239.0 162.7,239.2 162.2,239.8 161.7,241.0 161.2,242.3 160.7,243.5 160.2,242.4 159.7,241.3 159.2,240.1 158.7,238.9 158.2,238.9 157.7,239.5 157.2,240.1 156.7,240.7 156.2,241.3 155.7,242.0 155.2,242.8 154.7,243.5 154.2,245.3 153.7,247.0 153.2,248.8 152.7,248.6 152.2,247.3 151.7,246.1 151.2,245.3 150.7,245.7 150.2,246.0 149.7,246.3 149.2,246.3 148.7,245.6 148.2,244.8 147.7,244.1 147.2,243.7 146.7,244.1 146.2,244.4 145.7,244.8 145.2,245.2 144.7,244.8 144.2,244.3 143.7,243.8 143.2,243.4 142.7,244.1 142.2,245.5 141.7,246.8 141.2,247.9 140.7,248.4 140.2,248.9 139.7,249.4 139.2,250.6 138.7,251.9 138.2,253.1 137.7,254.4 137.2,255.6 136.7,256.9 136.2,258.1 135.7,258.9 135.2,259.4 134.7,259.9 134.2,260.2 133.7,260.2 133.2,260.2 132.7,260.2 132.2,260.2 131.7,260.0 131.2,259.3 130.7,258.6 130.2,257.9 129.7,257.2 129.2,257.4 128.7,257.5 128.2,257.7 127.7,256.5 127.2,254.6 126.7,252.7 126.2,250.9 125.7,248.8 125.2,246.6 124.7,244.5 124.2,242.3 123.7,242.0 123.2,242.6 122.7,243.3 122.2,243.9 121.7,244.6 121.2,245.2 120.7,245.9 120.2,246.5 119.7,247.6 119.2,248.7 118.7,249.8 118.2,249.6 117.7,248.7 117.2,247.8 116.7,247.4 116.2,248.1 115.7,248.8 115.2,249.5 114.7,250.2 114.2,251.0 113.7,251.7 113.2,252.5 112.7,252.9 112.2,253.3 111.7,253.6 111.2,253.9 110.7,254.6 110.2,255.5 109.7,256.3 109.2,256.8 108.7,256.7 108.2,256.6 107.7,257.3 107.2,258.4 106.7,259.5 106.2,260.7 105.7,262.0 105.2,263.5 104.7,265.0 104.2,265.3 103.7,263.1 103.2,261.0 102.7,260.5 102.2,260.8 101.7,260.9 101.2,260.4 100.7,259.9 100.2,259.4 99.7,258.5 99.2,257.7 98.7,256.8 98.2,256.8 97.7,257.1 97.2,257.5 96.7,257.5 96.2,257.0 95.7,256.4 95.2,255.8 94.7,255.2 94.2,254.0 93.7,252.7 93.2,251.5 92.7,252.3 92.2,254.2 91.7,256.0 91.2,257.9 90.7,259.7 90.2,261.5 89.7,263.2 89.2,264.9 88.7,266.5 88.2,268.0 87.7,269.0 87.2,269.6 86.7,270.2 86.2,270.8 85.7,270.9 85.2,270.6 84.7,270.4 84.2,270.5 83.7,271.5 83.2,272.5 82.7,273.5 82.2,272.6 81.7,271.6 81.2,270.6 80.7,268.9 80.2,266.9 79.7,266.0 79.2,267.5 78.7,268.9 78.2,270.2 77.7,271.5 77.2,272.7 76.7,273.4 76.2,272.9 75.7,272.4 75.2,271.9 74.7,271.4 74.2,270.7 73.7,269.6 73.2,268.4 72.7,267.3 72.2,266.9 71.7,268.0 71.2,269.0 70.7,269.9 70.2,270.6 69.7,271.4 69.2,271.5 68.7,270.5 68.2,269.5 67.7,268.4 67.2,267.3 66.7,265.9 66.2,264.6 65.7,263.2 65.2,264.3 64.7,265.3 64.2,266.0 63.7,265.7 63.2,265.5 62.7,265.2 62.2,267.0 61.7,268.7 61.2,270.5 60.7,272.2 60.2,272.7 59.7,273.2 59.2,273.7 58.7,274.2 58.2,273.3 57.7,271.7 57.2,271.3 56.7,273.5 56.2,275.8 55.7,276.9 55.2,277.4 54.7,277.9 54.2,278.4 53.7,278.9 53.2,279.5 52.7,280.1 52.2,280.7 51.7,280.8 51.2,279.9 50.7,279.0 50.2,278.1 49.7,277.2 49.2,276.2 48.7,275.0 48.2,273.8 47.7,272.7 47.2,272.2 46.7,273.2 46.2,274.2 45.7,275.2 45.2,276.2 44.7,277.2 44.2,278.2 43.7,278.8 43.2,279.2 42.7,279.6 42.2,280.0 41.7,280.5 41.2,281.2 40.7,282.0 40.2,282.7 39.7,285.0 39.2,287.2 38.7,289.5 38.2,290.7 37.7,291.3 37.2,292.0 36.7,292.7"/>
<polygon fill="#93c9d3" points="36.7,292.7 37.2,292.0 37.7,291.3 38.2,290.7 38.7,289.5 39.2,287.2 39.7,285.0 40.2,282.7 40.7,282.0 41.2,281.2 41.7,280.5 42.2,280.0 42.7,279.6 43.2,279.2 43.7,278.8 44.2,278.2 44.7,277.2 45.2,276.2 45.7,275.2 46.2,274.2 46.7,273.2 47.2,272.2 47.7,272.7 48.2,273.8 48.7,275.0 49.2,276.2 49.7,277.2 50.2,278.1 50.7,279.0 51.2,279.9 51.7,280.8 52.2,280.7 52.7,280.1 53.2,279.5 53.7,278.9 54.2,278.4 54.7,277.9 55.2,277.4 55.7,276.9 56.2,275.8 56.7,273.5 57.2,271.3 57.7,271.7 58.2,273.3 58.7,274.2 59.2,273.7 59.7,273.2 60.2,272.7 60.7,272.2 61.2,270.5 61.7,268.7 62.2,267.0 62.7,265.2 63.2,265.5 63.7,265.7 64.2,266.0 64.7,265.3 65.2,264.3 65.7,263.2 66.2,264.6 66.7,265.9 67.2,267.3 67.7,268.4 68.2,269.5 68.7,270.5 69.2,271.5 69.7,271.4 70.2,270.6 70.7,269.9 71.2,269.0 71.7,268.0 72.2,266.9 72.7,267.3 73.2,268.4 73.7,269.6 74.2,270.7 74.7,271.4 75.2,271.9 75.7,272.4 76.2,272.9 76.7,273.4 77.2,272.7 77.7,271.5 78.2,270.2 78.7,268.9 79.2,267.5 79.7,266.0 80.2,266.9 80.7,268.9 81.2,270.6 81.7,271.6 82.2,272.6 82.7,273.5 83.2,272.5 83.7,271.5 84.2,270.5 84.7,270.4 85.2,270.6 85.7,270.9 86.2,270.8 86.7,270.2 87.2,269.6 87.7,269.0 88.2,268.0 88.7,266.5 89.2,264.9 89.7,263.2 90.2,261.5 90.7,259.7 91.2,257.9 91.7,256.0 92.2,254.2 92.7,252.3 93.2,251.5 93.7,252.7 94.2,254.0 94.7,255.2 95.2,255.8 95.7,256.4 96.2,257.0 96.7,257.5 97.2,257.5 97.7,257.1 98.2,256.8 98.7,256.8 99.2,257.7 99.7,258.5 100.2,259.4 100.7,259.9 101.2,260.4 101.7,260.9 102.2,260.8 102.7,260.5 103.2,261.0 103.7,263.1 104.2,265.3 104.7,265.0 105.2,263.5 105.7,262.0 106.2,260.7 106.7,259.5 107.2,258.4 107.7,257.3 108.2,256.6 108.7,256.7 109.2,256.8 109.7,256.3 110.2,255.5 110.7,254.6 111.2,253.9 111.7,253.6 112.2,253.3 112.7,252.9 113.2,252.5 113.7,251.7 114.2,251.0 114.7,250.2 115.2,249.5 115.7,248.8 116.2,248.1 116.7,247.4 117.2,247.8 117.7,248.7 118.2,249.6 118.7,249.8 119.2,248.7 119.7,247.6 120.2,246.5 120.7,245.9 121.2,245.2 121.7,244.6 122.2,243.9 122.7,243.3 123.2,242.6 123.7,242.0 124.2,242.3 124.7,244.5 125.2,246.6 125.7,248.8 126.2,250.9 126.7,252.7 127.2,254.6 127.7,256.5 128.2,257.7 128.7,257.5 129.2,257.4 129.7,257.2 130.2,257.9 130.7,258.6 131.2,259.3 131.7,260.0 132.2,260.2 132.7,260.2 133.2,260.2 133.7,260.2 134.2,260.2 134.7,259.9 135.2,259.4 135.7,258.9 136.2,258.1 136.7,256.9 137.2,255.6 137.7,254.4 138.2,253.1 138.7,251.9 139.2,250.6 139.7,249.4 140.2,248.9 140.7,248.4 141.2,247.9 141.7,246.8 142.2,245.5 142.7,244.1 143.2,243.4 143.7,243.8 144.2,244.3 144.7,244.8 145.2,245.2 145.7,244.8 146.2,244.4 146.7,244.1 147.2,243.7 147.7,244.1 148.2,244.8 148.7,245.6 149.2,246.3 149.7,246.3 150.2,246.0 150.7,245.7 151.2,245.3 151.7,246.1 152.2,247.3 152.7,248.6 153.2,248.8 153.7,247.0 154.2,245.3 154.7,243.5 155.2,242.8 155.7,242.0 156.2,241.3 156.7,240.7 157.2,240.1 157.7,239.5 158.2,238.9 158.7,238.9 159.2,240.1 159.7,241.3 160.2,242.4 160.7,243.5 161.2,242.3 161.7,241.0 162.2,239.8 162.7,239.2 163.2,239.0 163.7,238.7 164.2,239.1 164.7,240.6 165.2,242.2 165.7,245.1 166.2,248.7 166.7,250.5 167.2,249.0 167.7,247.5 168.2,246.0 168.7,245.8 169.2,245.5 169.7,245.3 170.2,244.5 170.7,243.5 171.2,242.5 171.7,241.6 172.2,240.9 172.7,240.2 173.2,241.8 173.7,243.4 174.2,244.6 174.7,245.4 175.2,246.1 175.7,246.9 176.2,245.9 176.7,244.9 177.2,243.9 177.7,244.1 178.2,244.8 178.7,245.6 179.2,246.3 179.7,247.2 180.2,248.0 180.7,248.9 181.2,249.4 181.7,249.9 182.2,250.4 182.7,250.7 183.2,250.8 183.7,251.0 184.2,250.6 184.7,249.4 185.2,248.1 185.7,246.9 186.2,246.4 186.7,245.9 187.2,245.4 187.7,244.9 188.2,244.5 188.7,244.1 189.2,244.1 189.7,244.8 190.2,245.4 190.7,246.0 191.2,245.4 191.7,244.8 192.2,244.2 192.7,244.3 193.2,244.6 193.7,245.0 194.2,245.1 194.7,244.9 195.2,244.6 195.7,244.4 196.2,244.1 196.7,243.8 197.2,243.5 197.7,243.2 198.2,243.8 198.7,244.4 199.2,245.0 199.7,245.4 200.2,245.6 200.7,245.9 201.2,246.1 201.7,246.4 202.2,246.6 202.7,246.9 203.2,245.6 203.7,244.4 204.2,246.2 204.7,248.0 205.2,249.8 205.7,251.5 206.2,252.2 206.7,250.8 207.2,249.4 207.7,250.1 208.2,251.8 208.7,253.6 209.2,255.0 209.7,256.4 210.2,257.8 210.7,257.4 211.2,256.1 211.7,255.6 212.2,256.7 212.7,257.7 213.2,257.5 213.7,257.3 214.2,256.5 214.7,254.4 215.2,252.3 215.7,250.2 216.2,249.0 216.7,247.7 217.2,246.5 217.7,246.5 218.2,247.1 218.7,247.7 219.2,245.9 219.7,244.1 220.2,243.2 220.7,242.7 221.2,242.2 221.7,241.6 222.2,240.9 222.7,240.2 223.2,238.2 223.7,236.2 224.2,234.9 224.7,234.9 225.2,234.9 225.7,234.9 226.2,235.6 226.7,237.6 227.2,239.6 227.7,241.3 228.2,242.8 228.7,244.4 229.2,245.1 229.7,245.8 230.2,248.2 230.7,251.4 231.2,254.0 231.7,255.4 232.2,256.8 232.7,257.6 233.2,258.1 233.7,258.5 234.2,258.2 234.7,257.8 235.2,256.8 235.7,255.3 236.2,254.0 236.7,252.9 237.2,253.1 237.7,255.9 238.2,258.5 238.7,257.8 239.2,257.1 239.7,254.8 240.2,251.7 240.7,248.5 241.2,247.0 241.7,245.4 242.2,244.1 242.7,243.2 243.2,242.4 243.7,241.6 244.2,242.4 244.7,243.3 245.2,244.1 245.7,245.8 246.2,248.0 246.7,250.2 247.2,252.7 247.7,255.2 248.2,256.7 248.7,258.2 249.2,256.6 249.7,254.9 250.2,256.3 250.7,259.2 251.2,261.5 251.7,262.7 252.2,264.0 252.7,265.2 253.2,266.5 253.7,267.7 254.2,268.1 254.7,268.4 255.2,266.5 255.7,263.5 256.2,260.9 256.7,258.2 257.2,259.2 257.7,260.1 258.2,261.1 258.7,262.3 259.2,263.6 259.7,264.8 260.2,264.7 260.7,264.0 261.2,263.1 261.7,261.7 262.2,260.3 262.7,260.4 263.2,261.1 263.7,261.9 264.2,262.4 264.7,262.9 265.2,263.4 265.7,263.7 266.2,264.0 266.7,264.2 267.2,264.2 267.7,263.7 268.2,263.2 268.7,262.7 269.2,261.2 269.7,259.7 270.2,258.2 270.7,256.5 271.2,254.8 271.7,253.0 272.2,252.0 272.7,252.2 273.2,252.5 273.7,252.7 274.2,251.2 274.7,249.7 275.2,248.2 275.7,248.0 276.2,248.3 276.7,248.1 277.2,246.6 277.7,245.2 278.2,247.7 278.7,250.2 279.2,252.6 279.7,254.8 280.2,257.0 280.7,257.5 281.2,257.1 281.7,256.8 282.2,256.8 282.7,257.7 283.2,258.5 283.7,259.4 284.2,258.4 284.7,257.4 285.2,256.4 285.7,255.3 286.2,254.2 286.7,253.0 287.2,251.9 287.7,252.3 288.2,253.4 288.7,254.5 289.2,255.4 289.7,255.9 290.2,256.4 290.7,256.9 291.2,256.6 291.7,256.3 292.2,256.8 292.7,259.0 293.2,261.2 293.7,261.2 294.2,260.1 294.7,259.8 295.2,261.1 295.7,262.3 296.2,263.6 296.7,266.8 297.2,270.0 297.7,272.3 298.2,274.2 298.7,276.0 299.2,274.8 299.7,273.5 300.2,272.5 300.7,272.0 301.2,271.5 301.7,271.1 302.2,271.3 302.7,271.6 303.2,271.8 303.7,271.4 304.2,270.6 304.7,269.9 305.2,269.7 305.7,270.7 306.2,271.7 306.7,272.7 307.2,273.4 307.7,274.2 308.2,273.3 308.7,271.8 309.2,270.2 309.7,271.3 310.2,272.4 310.7,273.8 311.2,275.3 311.7,276.9 312.2,278.0 312.7,279.0 313.2,280.1 313.7,281.2 314.2,282.4 314.7,284.0 315.2,285.5 315.7,286.4 316.2,286.9 316.7,287.4 317.2,288.1 317.7,289.4 318.2,290.6 318.7,291.8 319.2,292.8 319.7,294.3 320.2,296.4 320.7,298.6 321.2,299.4 321.7,300.2 322.2,298.4 322.7,296.6 323.2,296.8 323.7,297.8 324.2,298.1 324.7,296.9 325.2,295.6 325.7,295.8 326.2,296.8 326.7,297.7 327.2,298.1 327.7,298.4 328.2,297.9 328.7,296.9 329.2,295.9 329.7,294.9 330.2,293.9 330.7,292.9 331.2,291.9 331.7,291.4 332.2,290.9 332.7,290.4 333.2,290.9 333.7,291.9 334.2,292.9 334.7,293.7 335.2,294.0 335.7,294.4 336.2,292.8 336.7,291.2 337.2,289.8 337.7,288.5 338.2,287.3 338.7,286.2 339.2,285.1 339.7,284.5 340.2,284.7 340.7,284.9 341.2,286.6 341.7,288.3 342.2,289.7 342.7,290.6 343.2,291.6 343.7,292.4 344.2,293.1 344.7,293.9 345.2,293.9 345.7,292.5 346.2,291.0 346.7,290.3 347.2,289.6 347.7,290.4 348.2,292.0 348.7,293.6 349.2,295.4 349.7,297.3 350.2,298.8 350.7,299.5 351.2,300.2 351.7,300.7 352.2,301.2 352.7,301.7 353.2,302.0 353.7,302.1 354.2,302.2 354.7,301.7 355.2,300.1 355.7,298.5 356.2,296.9 356.7,298.3 357.2,299.8 357.7,300.8 358.2,301.8 358.7,302.7 359.2,303.0 359.7,303.3 360.2,303.3 360.7,302.5 361.2,301.8 361.7,301.1 362.2,301.1 362.7,301.1 363.2,301.1 363.7,300.5 364.2,299.8 364.7,299.0 365.2,298.2 365.7,297.1 366.2,296.1 366.7,297.1 367.2,298.2 367.7,298.2 368.2,297.7 368.7,297.2 369.2,296.8 369.7,296.5 370.2,296.3 370.7,296.0 371.2,294.8 371.7,293.5 372.2,292.5 372.7,291.9 373.2,291.3 373.7,292.0 374.2,293.4 374.7,294.6 375.2,295.1 375.7,295.6 376.2,296.1 376.7,296.6 377.2,297.1 377.7,297.6 378.2,297.0 378.7,296.0 379.2,295.0 379.7,294.3 380.2,293.9 380.7,293.6 381.2,293.2 381.7,294.1 382.2,294.9 382.7,295.8 383.2,296.2 383.7,296.5 384.2,296.7 384.7,296.4 385.2,295.0 385.7,293.5 386.2,292.0 386.7,290.4 387.2,288.9 387.7,287.3 388.2,285.7 388.7,286.4 389.2,288.2 389.7,290.0 390.2,291.8 390.7,293.6 391.2,295.4 391.7,297.3 392.2,298.3 392.7,297.7 393.2,297.1 393.7,297.1 394.2,297.5 394.7,297.6 395.2,297.2 395.7,296.9 396.2,298.1 396.7,299.4 397.2,300.5 397.7,301.2 398.2,302.0 398.7,302.7 399.2,303.7 399.7,304.6 400.2,305.0 400.7,304.3 401.2,303.5 401.7,302.3 402.2,301.0 402.7,299.8 403.2,298.9 403.7,298.1 404.2,297.4 404.7,296.8 405.2,296.4 405.7,296.1 406.2,296.4 406.7,296.7 407.2,297.1 407.7,297.9 408.2,298.6 408.7,299.4 409.2,299.9 409.7,300.4 410.2,300.9 410.7,301.4 411.2,301.9 411.7,302.4 412.2,302.6 412.7,302.4 413.2,302.1 413.7,301.9 414.2,302.6 414.7,303.4 415.2,304.1 415.7,305.4 416.2,306.9 416.7,308.4 417.2,309.7 417.7,310.6 418.2,311.6 418.7,311.7 419.2,311.5 419.7,311.2 420.2,310.3 420.7,308.0 421.2,305.6 421.7,305.9 422.2,307.5 422.7,309.0 423.2,310.5 423.7,311.9 424.2,312.5 424.7,313.1 425.2,313.6 425.7,313.7 426.2,313.8 426.7,313.9 427.2,313.5 427.7,313.2 428.2,312.8 428.7,312.7 429.2,312.7 429.7,312.7 430.2,312.4 430.7,311.5 431.2,310.5 431.7,310.0 432.2,309.8 432.7,309.5 433.2,308.9 433.7,307.4 434.2,305.9 434.7,304.4 435.2,303.3 435.7,302.2 436.2,301.4 436.7,300.6 437.2,299.9 437.7,299.1 438.2,298.4 438.7,297.7 439.2,296.8 439.7,295.8 440.2,294.9 440.7,294.0 441.2,293.0 441.7,293.0 442.2,293.3 442.7,294.0 443.2,295.3 443.7,296.5 444.2,296.0 444.7,295.5 445.2,295.0 445.7,294.4 446.2,293.8 446.7,293.6 447.2,293.6 447.7,293.3 448.2,292.6 448.7,291.9 449.2,291.6 449.7,291.3 450.2,291.2 450.7,291.5 451.2,291.8 451.7,293.1 452.2,294.9 452.7,296.2 453.2,296.7 453.7,297.2 454.2,296.3 454.7,295.5 455.2,293.9 455.7,290.9 456.2,287.9 456.7,286.6 457.2,286.3 457.7,286.4 458.2,287.5 458.7,288.5 459.2,286.9 459.7,285.2 460.2,286.7 460.7,288.1 461.2,288.3 461.7,288.0 462.2,287.5 462.7,286.9 463.2,286.3 463.7,285.6 464.2,285.0 464.7,284.4 465.2,284.7 465.7,285.1 466.2,287.1 466.7,290.0 467.2,292.7 467.7,295.1 468.2,297.4 468.7,298.0 469.2,297.6 469.7,297.2 470.2,296.4 470.7,295.5 471.2,293.8 471.7,291.6 472.2,290.0 472.7,289.2 473.2,288.5 473.7,288.3 474.2,288.4 474.7,288.5 475.2,288.2 475.7,287.3 476.2,286.4 476.7,285.3 477.2,284.3 477.7,283.3 478.2,282.6 478.7,281.9 479.2,281.6 479.7,281.3 480.2,281.1 480.7,281.3 481.2,281.5 481.7,282.4 482.2,283.6 482.7,285.4 483.2,288.4 483.7,290.4 484.2,292.0 484.7,293.6 485.2,294.6 485.7,295.7 486.2,297.3 486.7,299.0 487.2,301.1 487.7,303.6 488.2,305.5 488.7,306.2 489.2,306.9 489.7,307.2 490.2,307.6 490.7,308.1 491.2,308.8 491.7,309.4 492.2,310.0 492.7,310.6 493.2,311.3 493.7,312.0 494.2,312.7 494.7,311.6 495.2,310.6 495.7,310.4 496.2,310.7 496.7,311.0 497.2,310.9 497.7,310.7 498.2,310.4 498.7,310.1 499.2,309.7 499.7,309.4 500.2,309.7 500.7,310.1 501.2,310.9 501.7,312.0 502.2,312.9 502.7,313.6 503.2,314.2 503.7,313.7 504.2,312.6 504.7,311.5 505.2,311.0 505.7,310.4 506.2,310.2 506.7,310.2 507.2,310.3 507.7,310.6 508.2,310.9 508.7,310.8 509.2,310.5 509.7,310.2 510.2,309.1 510.7,308.1 511.2,306.8 511.7,305.3 512.2,303.9 512.7,302.3 513.2,300.7 513.7,299.6 514.2,298.6 514.7,297.7 515.2,298.2 515.7,298.7 516.2,298.8 516.7,298.6 517.2,298.4 517.7,298.1 518.2,297.8 518.7,297.4 519.2,297.0 519.7,296.5 520.2,296.0 520.7,295.4 521.2,295.5 521.7,295.8 522.2,295.9 522.7,295.3 523.2,295.3 523.7,296.5 524.2,297.7 524.7,296.3 525.2,294.9 525.7,294.0 526.2,293.3 526.7,292.7 527.2,293.3 527.7,294.0 528.2,294.2 528.7,293.7 529.2,293.2 529.7,292.8 530.2,292.4 530.7,292.8 531.2,293.6 531.7,294.4 532.2,295.0 532.7,295.6 533.2,296.4 533.7,297.3 534.2,298.2 534.7,297.8 535.2,297.4 535.7,297.1 536.2,297.0 536.7,296.9 537.2,297.1 537.7,297.4 538.2,297.6 538.7,297.9 539.2,298.1 539.7,298.4 540.2,299.0 540.7,300.2 541.2,301.5 541.7,300.9 542.2,299.5 542.7,297.8 543.2,295.7 543.7,293.5 544.2,291.7 544.7,289.8 545.2,289.0 545.7,290.2 546.2,291.8 546.7,293.8 547.2,295.5 547.7,296.4 548.2,296.9 548.7,296.6 549.2,296.3 549.7,296.0 550.2,295.6 550.7,295.0 551.2,293.9 551.7,292.9 552.2,292.6 552.7,292.3 553.2,292.3 553.7,293.1 554.2,294.0 554.7,294.8 555.2,295.7 555.7,296.2 556.2,296.0 556.7,295.9 557.2,295.5 557.7,295.1 558.2,294.7 558.7,294.3 559.2,293.9 559.7,294.4 560.2,295.5 560.7,296.5 561.2,297.4 561.7,298.2 562.2,298.7 562.7,299.2 563.2,299.8 563.7,300.5 564.2,301.2 564.7,301.8 565.2,302.5 565.7,303.2 566.2,304.3 566.7,305.4 567.2,305.7 567.7,306.0 568.2,305.7 568.7,304.2 569.2,302.7 569.7,301.2 570.2,300.9 570.7,300.6 571.2,300.1 571.7,299.4 572.2,298.7 572.7,298.0 573.2,297.3 573.7,296.4 574.2,295.5 574.7,294.5 575.2,294.0 575.7,293.4 576.2,293.5 576.7,293.8 577.2,294.2 577.7,294.0 578.2,293.8 578.7,293.9 579.2,294.2 579.7,294.6 580.2,295.3 580.7,296.0 581.2,295.2 581.7,293.6 582.2,292.0 582.7,291.3 583.2,290.6 583.7,290.0 584.2,289.3 584.7,288.7 585.2,287.5 585.7,286.2 586.2,284.7 586.7,282.5 587.2,280.4 587.7,279.3 588.2,278.2 588.7,277.4 589.2,276.6 589.7,275.9 590.2,275.1 590.7,274.3 591.2,273.2 591.7,271.8 592.2,270.4 592.7,269.9 593.2,269.4 593.7,269.4 594.2,269.6 594.7,269.9 595.2,270.4 595.7,270.9 596.2,271.5 596.7,272.2 597.2,272.9 597.7,274.0 598.2,275.0 598.7,275.8 599.2,276.4 599.7,277.1 600.2,277.4 600.7,277.7 601.2,278.2 601.7,279.3 602.2,280.4 602.7,281.1 603.2,281.8 603.7,282.5 604.2,283.1 604.7,283.7 605.2,284.7 605.7,284.7 606.2,282.7 606.7,281.5 607.2,280.7 607.7,280.6 608.2,280.8 608.7,281.0 609.2,281.1 609.7,281.2 610.2,280.9 610.7,280.6 611.2,280.5 611.7,280.7 612.2,280.9 612.7,280.3 613.2,279.7 613.7,279.2 614.2,278.7 614.7,278.2 615.2,277.8 615.7,277.3 616.2,276.8 616.7,276.2 617.2,277.9 617.7,279.6 618.2,281.0 618.7,282.4 619.2,283.6 619.7,284.7 620.2,285.6 620.7,286.2 621.2,286.8 621.7,287.3 622.2,287.8 622.7,288.2 623.2,288.4 623.7,288.6 624.2,289.2 624.7,289.9 625.2,290.7 625.7,291.6 626.2,292.6 626.7,293.7 627.2,295.0 627.7,296.2 628.2,297.7 628.7,299.1 629.2,300.0 629.7,300.7 630.2,301.0 630.7,300.4 631.2,299.8 631.7,299.3 632.2,299.0 632.7,298.7 633.2,298.4 633.7,298.0 634.2,297.9 634.7,297.9 635.2,297.8 635.7,297.5 636.2,297.2 636.7,297.1 637.2,297.1 637.7,297.0 638.2,296.3 638.7,295.6 639.2,294.9 639.7,294.2 640.2,293.8 640.7,294.1 641.2,294.0 641.7,293.3 642.2,292.5 642.7,292.1 643.2,291.7 643.7,291.9 644.2,292.4 644.7,292.9 645.2,293.5 645.7,294.0 646.2,294.5 646.7,294.9 647.2,295.4 647.7,295.7 648.2,296.1 648.7,296.8 649.2,297.8 649.7,298.7 650.2,299.3 650.7,300.0 651.2,300.6 651.7,301.3 652.2,302.1 652.7,302.4 653.2,302.8 653.7,303.5 654.2,304.5 654.7,305.4 655.2,306.2 655.7,307.0 656.2,307.4 656.7,306.8 657.2,306.2 657.7,307.3 658.2,308.4 658.7,308.9 659.2,309.2 659.7,309.5 660.2,308.3 660.7,307.0 661.2,305.9 661.7,304.8 662.2,303.7 662.7,303.0 663.2,302.3 663.7,301.6 664.2,301.0 664.7,300.4 665.2,299.3 665.7,298.3 666.2,297.6 666.7,297.7 667.2,297.9 667.2,298.3 666.7,298.2 666.2,298.0 665.7,298.7 665.2,299.8 664.7,300.8 664.2,301.5 663.7,302.1 663.2,302.7 662.7,303.4 662.2,304.2 661.7,305.2 661.2,306.3 660.7,307.5 660.2,308.7 659.7,310.0 659.2,309.7 658.7,309.4 658.2,308.8 657.7,307.7 657.2,306.7 656.7,307.2 656.2,307.8 655.7,307.5 655.2,306.7 654.7,305.8 654.2,304.9 653.7,304.0 653.2,303.2 652.7,302.9 652.2,302.5 651.7,301.8 651.2,301.1 650.7,300.4 650.2,299.8 649.7,299.2 649.2,298.2 648.7,297.3 648.2,296.5 647.7,296.2 647.2,295.8 646.7,295.4 646.2,295.0 645.7,294.5 645.2,293.9 644.7,293.3 644.2,292.8 643.7,292.3 643.2,292.1 642.7,292.6 642.2,293.0 641.7,293.7 641.2,294.4 640.7,294.5 640.2,294.3 639.7,294.6 639.2,295.4 638.7,296.1 638.2,296.8 637.7,297.5 637.2,297.5 636.7,297.5 636.2,297.6 635.7,297.9 635.2,298.2 634.7,298.3 634.2,298.3 633.7,298.5 633.2,298.8 632.7,299.2 632.2,299.5 631.7,299.8 631.2,300.2 630.7,300.8 630.2,301.5 629.7,301.2 629.2,300.5 628.7,299.5 628.2,298.1 627.7,296.7 627.2,295.4 626.7,294.2 626.2,293.0 625.7,292.1 625.2,291.2 624.7,290.4 624.2,289.6 623.7,289.1 623.2,288.9 622.7,288.7 622.2,288.2 621.7,287.8 621.2,287.3 620.7,286.7 620.2,286.0 619.7,285.1 619.2,284.1 618.7,282.9 618.2,281.4 617.7,280.0 617.2,278.3 616.7,276.7 616.2,277.3 615.7,277.8 615.2,278.2 614.7,278.7 614.2,279.2 613.7,279.7 613.2,280.2 612.7,280.8 612.2,281.3 611.7,281.1 611.2,280.9 610.7,281.0 610.2,281.4 609.7,281.7 609.2,281.5 608.7,281.4 608.2,281.3 607.7,281.0 607.2,281.1 606.7,281.9 606.2,283.2 605.7,285.2 605.2,285.2 604.7,284.2 604.2,283.5 603.7,282.9 603.2,282.3 602.7,281.6 602.2,280.8 601.7,279.8 601.2,278.7 600.7,278.1 600.2,277.8 599.7,277.5 599.2,276.9 598.7,276.3 598.2,275.5 597.7,274.4 597.2,273.3 596.7,272.6 596.2,271.9 595.7,271.3 595.2,270.8 594.7,270.3 594.2,270.1 593.7,269.8 593.2,269.8 592.7,270.3 592.2,270.8 591.7,272.3 591.2,273.7 590.7,274.7 590.2,275.5 589.7,276.3 589.2,277.1 588.7,277.8 588.2,278.7 587.7,279.8 587.2,280.8 586.7,283.0 586.2,285.1 585.7,286.7 585.2,287.9 584.7,289.2 584.2,289.8 583.7,290.4 583.2,291.1 582.7,291.8 582.2,292.5 581.7,294.1 581.2,295.6 580.7,296.4 580.2,295.7 579.7,295.0 579.2,294.7 578.7,294.4 578.2,294.2 577.7,294.5 577.2,294.7 576.7,294.3 576.2,293.9 575.7,293.9 575.2,294.4 574.7,295.0 574.2,295.9 573.7,296.9 573.2,297.7 572.7,298.4 572.2,299.2 571.7,299.9 571.2,300.6 570.7,301.0 570.2,301.4 569.7,301.7 569.2,303.2 568.7,304.7 568.2,306.2 567.7,306.5 567.2,306.1 566.7,305.8 566.2,304.8 565.7,303.7 565.2,302.9 564.7,302.3 564.2,301.7 563.7,301.0 563.2,300.2 562.7,299.7 562.2,299.2 561.7,298.7 561.2,297.8 560.7,297.0 560.2,296.0 559.7,294.9 559.2,294.3 558.7,294.7 558.2,295.2 557.7,295.6 557.2,296.0 556.7,296.3 556.2,296.5 555.7,296.6 555.2,296.1 554.7,295.2 554.2,294.4 553.7,293.6 553.2,292.8 552.7,292.7 552.2,293.0 551.7,293.3 551.2,294.4 550.7,295.5 550.2,296.1 549.7,296.4 549.2,296.8 548.7,297.1 548.2,297.4 547.7,296.9 547.2,296.0 546.7,294.3 546.2,292.2 545.7,290.7 545.2,289.4 544.7,290.2 544.2,292.1 543.7,294.0 543.2,296.1 542.7,298.3 542.2,299.9 541.7,301.4 541.2,301.9 540.7,300.7 540.2,299.4 539.7,298.8 539.2,298.6 538.7,298.3 538.2,298.1 537.7,297.8 537.2,297.6 536.7,297.3 536.2,297.5 535.7,297.6 535.2,297.8 534.7,298.2 534.2,298.7 533.7,297.7 533.2,296.8 532.7,296.1 532.2,295.5 531.7,294.8 531.2,294.0 530.7,293.2 530.2,292.8 529.7,293.2 529.2,293.7 528.7,294.2 528.2,294.7 527.7,294.4 527.2,293.8 526.7,293.2 526.2,293.8 525.7,294.4 525.2,295.3 524.7,296.7 524.2,298.2 523.7,297.0 523.2,295.7 522.7,295.7 522.2,296.3 521.7,296.3 521.2,295.9 520.7,295.9 520.2,296.4 519.7,297.0 519.2,297.4 518.7,297.9 518.2,298.3 517.7,298.6 517.2,298.9 516.7,299.1 516.2,299.2 515.7,299.2 515.2,298.7 514.7,298.2 514.2,299.1 513.7,300.0 513.2,301.2 512.7,302.7 512.2,304.3 511.7,305.8 511.2,307.2 510.7,308.5 510.2,309.6 509.7,310.7 509.2,311.0 508.7,311.3 508.2,311.4 507.7,311.1 507.2,310.8 506.7,310.7 506.2,310.7 505.7,310.9 505.2,311.4 504.7,312.0 504.2,313.1 503.7,314.1 503.2,314.6 502.7,314.0 502.2,313.4 501.7,312.5 501.2,311.4 500.7,310.6 500.2,310.2 499.7,309.8 499.2,310.2 498.7,310.5 498.2,310.9 497.7,311.1 497.2,311.3 496.7,311.5 496.2,311.2 495.7,310.9 495.2,311.0 494.7,312.1 494.2,313.2 493.7,312.5 493.2,311.7 492.7,311.1 492.2,310.5 491.7,309.8 491.2,309.2 490.7,308.6 490.2,308.1 489.7,307.7 489.2,307.3 488.7,306.6 488.2,305.9 487.7,304.0 487.2,301.5 486.7,299.5 486.2,297.7 485.7,296.2 485.2,295.1 484.7,294.0 484.2,292.4 483.7,290.9 483.2,288.9 482.7,285.9 482.2,284.0 481.7,282.8 481.2,281.9 480.7,281.8 480.2,281.6 479.7,281.7 479.2,282.0 478.7,282.3 478.2,283.0 477.7,283.8 477.2,284.7 476.7,285.8 476.2,286.8 475.7,287.7 475.2,288.7 474.7,288.9 474.2,288.8 473.7,288.7 473.2,288.9 472.7,289.7 472.2,290.4 471.7,292.1 471.2,294.2 470.7,295.9 470.2,296.8 469.7,297.7 469.2,298.0 468.7,298.4 468.2,297.9 467.7,295.5 467.2,293.1 466.7,290.4 466.2,287.6 465.7,285.6 465.2,285.2 464.7,284.8 464.2,285.5 463.7,286.1 463.2,286.7 462.7,287.3 462.2,288.0 461.7,288.4 461.2,288.8 460.7,288.5 460.2,287.1 459.7,285.7 459.2,287.3 458.7,289.0 458.2,287.9 457.7,286.9 457.2,286.7 456.7,287.1 456.2,288.3 455.7,291.3 455.2,294.3 454.7,295.9 454.2,296.8 453.7,297.7 453.2,297.2 452.7,296.7 452.2,295.3 451.7,293.5 451.2,292.2 450.7,291.9 450.2,291.6 449.7,291.7 449.2,292.0 448.7,292.3 448.2,293.0 447.7,293.8 447.2,294.0 446.7,294.0 446.2,294.2 445.7,294.8 445.2,295.5 444.7,296.0 444.2,296.5 443.7,297.0 443.2,295.7 442.7,294.4 442.2,293.8 441.7,293.4 441.2,293.5 440.7,294.4 440.2,295.3 439.7,296.3 439.2,297.2 438.7,298.2 438.2,298.9 437.7,299.6 437.2,300.3 436.7,301.1 436.2,301.8 435.7,302.7 435.2,303.8 434.7,304.8 434.2,306.3 433.7,307.8 433.2,309.3 432.7,310.0 432.2,310.2 431.7,310.5 431.2,311.0 430.7,311.9 430.2,312.8 429.7,313.2 429.2,313.2 428.7,313.2 428.2,313.3 427.7,313.6 427.2,314.0 426.7,314.3 426.2,314.2 425.7,314.1 425.2,314.0 424.7,313.6 424.2,313.0 423.7,312.3 423.2,310.9 422.7,309.5 422.2,308.0 421.7,306.4 421.2,306.1 420.7,308.4 420.2,310.7 419.7,311.7 419.2,311.9 418.7,312.2 418.2,312.0 417.7,311.1 417.2,310.2 416.7,308.8 416.2,307.3 415.7,305.8 415.2,304.6 414.7,303.8 414.2,303.1 413.7,302.3 413.2,302.6 412.7,302.8 412.2,303.1 411.7,302.8 411.2,302.3 410.7,301.8 410.2,301.3 409.7,300.8 409.2,300.3 408.7,299.8 408.2,299.1 407.7,298.3 407.2,297.6 406.7,297.1 406.2,296.8 405.7,296.5 405.2,296.9 404.7,297.2 404.2,297.8 403.7,298.6 403.2,299.3 402.7,300.2 402.2,301.5 401.7,302.7 401.2,304.0 400.7,304.7 400.2,305.4 399.7,305.0 399.2,304.1 398.7,303.2 398.2,302.4 397.7,301.7 397.2,300.9 396.7,299.8 396.2,298.6 395.7,297.3 395.2,297.7 394.7,298.0 394.2,297.9 393.7,297.6 393.2,297.5 392.7,298.2 392.2,298.8 391.7,297.8 391.2,295.9 390.7,294.0 390.2,292.2 389.7,290.4 389.2,288.7 388.7,286.9 388.2,286.2 387.7,287.7 387.2,289.3 386.7,290.9 386.2,292.4 385.7,294.0 385.2,295.4 384.7,296.8 384.2,297.2 383.7,296.9 383.2,296.7 382.7,296.2 382.2,295.4 381.7,294.5 381.2,293.7 380.7,294.0 380.2,294.4 379.7,294.7 379.2,295.5 378.7,296.5 378.2,297.5 377.7,298.0 377.2,297.5 376.7,297.0 376.2,296.5 375.7,296.0 375.2,295.5 374.7,295.0 374.2,293.9 373.7,292.5 373.2,291.7 372.7,292.3 372.2,293.0 371.7,294.0 371.2,295.2 370.7,296.5 370.2,296.7 369.7,297.0 369.2,297.2 368.7,297.7 368.2,298.2 367.7,298.7 367.2,298.7 366.7,297.6 366.2,296.5 365.7,297.6 365.2,298.6 364.7,299.5 364.2,300.2 363.7,301.0 363.2,301.5 362.7,301.5 362.2,301.5 361.7,301.5 361.2,302.2 360.7,303.0 360.2,303.7 359.7,303.8 359.2,303.5 358.7,303.2 358.2,302.2 357.7,301.3 357.2,300.2 356.7,298.8 356.2,297.3 355.7,298.9 355.2,300.5 354.7,302.1 354.2,302.6 353.7,302.5 353.2,302.4 352.7,302.2 352.2,301.7 351.7,301.2 351.2,300.7 350.7,300.0 350.2,299.2 349.7,297.8 349.2,295.9 348.7,294.0 348.2,292.4 347.7,290.9 347.2,290.1 346.7,290.8 346.2,291.5 345.7,292.9 345.2,294.3 344.7,294.3 344.2,293.6 343.7,292.8 343.2,292.0 342.7,291.1 342.2,290.2 341.7,288.7 341.2,287.0 340.7,285.3 340.2,285.1 339.7,284.9 339.2,285.5 338.7,286.6 338.2,287.7 337.7,289.0 337.2,290.2 336.7,291.7 336.2,293.3 335.7,294.8 335.2,294.5 334.7,294.1 334.2,293.3 333.7,292.3 333.2,291.3 332.7,290.8 332.2,291.3 331.7,291.8 331.2,292.3 330.7,293.3 330.2,294.3 329.7,295.3 329.2,296.3 328.7,297.3 328.2,298.3 327.7,298.9 327.2,298.5 326.7,298.2 326.2,297.2 325.7,296.3 325.2,296.1 324.7,297.3 324.2,298.6 323.7,298.3 323.2,297.2 322.7,297.1 322.2,298.9 321.7,300.7 321.2,299.8 320.7,299.0 320.2,296.9 319.7,294.7 319.2,293.3 318.7,292.2 318.2,291.1 317.7,289.8 317.2,288.6 316.7,287.8 316.2,287.3 315.7,286.8 315.2,286.0 314.7,284.4 314.2,282.9 313.7,281.6 313.2,280.6 312.7,279.5 312.2,278.4 311.7,277.3 311.2,275.8 310.7,274.2 310.2,272.8 309.7,271.7 309.2,270.7 308.7,272.2 308.2,273.8 307.7,274.6 307.2,273.9 306.7,273.2 306.2,272.2 305.7,271.2 305.2,270.2 304.7,270.3 304.2,271.1 303.7,271.8 303.2,272.3 302.7,272.0 302.2,271.8 301.7,271.5 301.2,272.0 300.7,272.5 300.2,273.0 299.7,274.0 299.2,275.2 298.7,276.5 298.2,274.6 297.7,272.8 297.2,270.5 296.7,267.2 296.2,264.0 295.7,262.8 295.2,261.5 294.7,260.3 294.2,260.5 293.7,261.6 293.2,261.6 292.7,259.4 292.2,257.2 291.7,256.7 291.2,257.0 290.7,257.3 290.2,256.8 289.7,256.3 289.2,255.8 288.7,254.9 288.2,253.8 287.7,252.7 287.2,252.4 286.7,253.5 286.2,254.6 285.7,255.7 285.2,256.8 284.7,257.8 284.2,258.8 283.7,259.8 283.2,259.0 282.7,258.1 282.2,257.3 281.7,257.2 281.2,257.6 280.7,257.9 280.2,257.5 279.7,255.3 279.2,253.1 278.7,250.7 278.2,248.2 277.7,245.7 277.2,247.1 276.7,248.5 276.2,248.8 275.7,248.4 275.2,248.7 274.7,250.2 274.2,251.7 273.7,253.2 273.2,252.9 272.7,252.7 272.2,252.4 271.7,253.5 271.2,255.2 270.7,257.0 270.2,258.7 269.7,260.2 269.2,261.7 268.7,263.2 268.2,263.7 267.7,264.2 267.2,264.7 266.7,264.7 266.2,264.4 265.7,264.2 265.2,263.8 264.7,263.3 264.2,262.8 263.7,262.3 263.2,261.6 262.7,260.8 262.2,260.8 261.7,262.2 261.2,263.5 260.7,264.5 260.2,265.2 259.7,265.3 259.2,264.0 258.7,262.8 258.2,261.5 257.7,260.6 257.2,259.6 256.7,258.7 256.2,261.3 255.7,264.0 255.2,267.0 254.7,268.9 254.2,268.5 253.7,268.2 253.2,266.9 252.7,265.7 252.2,264.4 251.7,263.2 251.2,261.9 250.7,259.6 250.2,256.8 249.7,255.4 249.2,257.0 248.7,258.7 248.2,257.2 247.7,255.7 247.2,253.2 246.7,250.7 246.2,248.4 245.7,246.3 245.2,244.6 244.7,243.7 244.2,242.9 243.7,242.0 243.2,242.8 242.7,243.7 242.2,244.5 241.7,245.9 241.2,247.4 240.7,249.0 240.2,252.1 239.7,255.2 239.2,257.6 238.7,258.3 238.2,259.0 237.7,256.3 237.2,253.6 236.7,253.4 236.2,254.5 235.7,255.8 235.2,257.2 234.7,258.3 234.2,258.6 233.7,259.0 233.2,258.5 232.7,258.0 232.2,257.2 231.7,255.8 231.2,254.5 230.7,251.9 230.2,248.7 229.7,246.3 229.2,245.6 228.7,244.8 228.2,243.3 227.7,241.7 227.2,240.0 226.7,238.0 226.2,236.0 225.7,235.3 225.2,235.3 224.7,235.3 224.2,235.3 223.7,236.7 223.2,238.7 222.7,240.7 222.2,241.4 221.7,242.1 221.2,242.7 220.7,243.2 220.2,243.7 219.7,244.6 219.2,246.4 218.7,248.2 218.2,247.5 217.7,246.9 217.2,246.9 216.7,248.2 216.2,249.4 215.7,250.7 215.2,252.8 214.7,254.9 214.2,257.0 213.7,257.8 213.2,258.0 212.7,258.2 212.2,257.1 211.7,256.0 211.2,256.5 210.7,257.8 210.2,258.2 209.7,256.8 209.2,255.4 208.7,254.0 208.2,252.3 207.7,250.5 207.2,249.8 206.7,251.2 206.2,252.7 205.7,252.0 205.2,250.2 204.7,248.4 204.2,246.6 203.7,244.8 203.2,246.1 202.7,247.3 202.2,247.1 201.7,246.8 201.2,246.6 200.7,246.3 200.2,246.1 199.7,245.8 199.2,245.5 198.7,244.9 198.2,244.3 197.7,243.7 197.2,244.0 196.7,244.2 196.2,244.5 195.7,244.8 195.2,245.1 194.7,245.3 194.2,245.6 193.7,245.4 193.2,245.1 192.7,244.7 192.2,244.7 191.7,245.3 191.2,245.9 190.7,246.5 190.2,245.9 189.7,245.2 189.2,244.6 188.7,244.6 188.2,245.0 187.7,245.4 187.2,245.8 186.7,246.3 186.2,246.8 185.7,247.3 185.2,248.6 184.7,249.8 184.2,251.1 183.7,251.4 183.2,251.3 182.7,251.1 182.2,250.8 181.7,250.3 181.2,249.8 180.7,249.3 180.2,248.5 179.7,247.6 179.2,246.8 178.7,246.0 178.2,245.3 177.7,244.5 177.2,244.3 176.7,245.3 176.2,246.3 175.7,247.3 175.2,246.6 174.7,245.8 174.2,245.1 173.7,243.8 173.2,242.2 172.7,240.7 172.2,241.4 171.7,242.1 171.2,243.0 170.7,244.0 170.2,245.0 169.7,245.7 169.2,246.0 168.7,246.2 168.2,246.5 167.7,248.0 167.2,249.5 166.7,251.0 166.2,249.1 165.7,245.6 165.2,242.7 164.7,241.1 164.2,239.5 163.7,239.2 163.2,239.4 162.7,239.7 162.2,240.2 161.7,241.5 161.2,242.7 160.7,244.0 160.2,242.9 159.7,241.7 159.2,240.5 158.7,239.4 158.2,239.4 157.7,240.0 157.2,240.5 156.7,241.1 156.2,241.7 155.7,242.5 155.2,243.2 154.7,244.0 154.2,245.7 153.7,247.5 153.2,249.2 152.7,249.0 152.2,247.8 151.7,246.5 151.2,245.8 150.7,246.1 150.2,246.4 149.7,246.8 149.2,246.8 148.7,246.0 148.2,245.3 147.7,244.5 147.2,244.1 146.7,244.5 146.2,244.9 145.7,245.3 145.2,245.7 144.7,245.2 144.2,244.7 143.7,244.3 143.2,243.8 142.7,244.6 142.2,245.9 141.7,247.3 141.2,248.3 140.7,248.8 140.2,249.3 139.7,249.8 139.2,251.1 138.7,252.3 138.2,253.6 137.7,254.8 137.2,256.1 136.7,257.3 136.2,258.6 135.7,259.3 135.2,259.8 134.7,260.3 134.2,260.7 133.7,260.7 133.2,260.7 132.7,260.7 132.2,260.7 131.7,260.4 131.2,259.7 130.7,259.1 130.2,258.4 129.7,257.7 129.2,257.8 128.7,258.0 128.2,258.1 127.7,256.9 127.2,255.1 126.7,253.2 126.2,251.3 125.7,249.2 125.2,247.1 124.7,244.9 124.2,242.7 123.7,242.4 123.2,243.1 122.7,243.7 122.2,244.4 121.7,245.0 121.2,245.7 120.7,246.3 120.2,247.0 119.7,248.1 119.2,249.2 118.7,250.3 118.2,250.1 117.7,249.2 117.2,248.3 116.7,247.9 116.2,248.6 115.7,249.3 115.2,250.0 114.7,250.7 114.2,251.4 113.7,252.2 113.2,252.9 112.7,253.4 112.2,253.7 111.7,254.1 111.2,254.4 110.7,255.1 110.2,255.9 109.7,256.8 109.2,257.3 108.7,257.2 108.2,257.0 107.7,257.7 107.2,258.9 106.7,260.0 106.2,261.1 105.7,262.5 105.2,264.0 104.7,265.5 104.2,265.8 103.7,263.6 103.2,261.4 102.7,260.9 102.2,261.3 101.7,261.3 101.2,260.8 100.7,260.3 100.2,259.8 99.7,259.0 99.2,258.1 98.7,257.3 98.2,257.2 97.7,257.6 97.2,257.9 96.7,258.0 96.2,257.4 95.7,256.8 95.2,256.2 94.7,255.7 94.2,254.4 93.7,253.2 93.2,251.9 92.7,252.7 92.2,254.6 91.7,256.5 91.2,258.4 90.7,260.2 90.2,261.9 89.7,263.7 89.2,265.3 88.7,266.9 88.2,268.5 87.7,269.4 87.2,270.0 86.7,270.7 86.2,271.3 85.7,271.3 85.2,271.1 84.7,270.8 84.2,271.0 83.7,272.0 83.2,273.0 82.7,274.0 82.2,273.0 81.7,272.0 81.2,271.0 80.7,269.3 80.2,267.3 79.7,266.5 79.2,267.9 78.7,269.3 78.2,270.7 77.7,271.9 77.2,273.2 76.7,273.8 76.2,273.3 75.7,272.8 75.2,272.3 74.7,271.8 74.2,271.1 73.7,270.0 73.2,268.9 72.7,267.8 72.2,267.3 71.7,268.4 71.2,269.5 70.7,270.3 70.2,271.1 69.7,271.8 69.2,272.0 68.7,271.0 68.2,269.9 67.7,268.9 67.2,267.7 66.7,266.4 66.2,265.0 65.7,263.7 65.2,264.7 64.7,265.8 64.2,266.4 63.7,266.2 63.2,265.9 62.7,265.7 62.2,267.4 61.7,269.2 61.2,270.9 60.7,272.7 60.2,273.2 59.7,273.7 59.2,274.2 58.7,274.7 58.2,273.7 57.7,272.1 57.2,271.7 56.7,274.0 56.2,276.2 55.7,277.3 55.2,277.8 54.7,278.3 54.2,278.8 53.7,279.4 53.2,280.0 52.7,280.5 52.2,281.1 51.7,281.2 51.2,280.3 50.7,279.4 50.2,278.5 49.7,277.6 49.2,276.6 48.7,275.5 48.2,274.3 47.7,273.1 47.2,272.7 46.7,273.7 46.2,274.7 45.7,275.7 45.2,276.7 44.7,277.7 44.2,278.7 43.7,279.3 43.2,279.6 42.7,280.0 42.2,280.4 41.7,280.9 41.2,281.7 40.7,282.4 40.2,283.2 39.7,285.4 39.2,287.7 38.7,289.9 38.2,291.1 37.7,291.8 37.2,292.5 36.7,293.2"/>
<polygon fill="#efc494" points="36.7,293.2 37.2,292.5 37.7,291.8 38.2,291.1 38.7,289.9 39.2,287.7 39.7,285.4 40.2,283.2 40.7,282.4 41.2,281.7 41.7,280.9 42.2,280.4 42.7,280.0 43.2,279.6 43.7,279.3 44.2,278.7 44.7,277.7 45.2,276.7 45.7,275.7 46.2,274.7 46.7,273.7 47.2,272.7 47.7,273.1 48.2,274.3 48.7,275.5 49.2,276.6 49.7,277.6 50.2,278.5 50.7,279.4 51.2,280.3 51.7,281.2 52.2,281.1 52.7,280.5 53.2,280.0 53.7,279.4 54.2,278.8 54.7,278.3 55.2,277.8 55.7,277.3 56.2,276.2 56.7,274.0 57.2,271.7 57.7,272.1 58.2,273.7 58.7,274.7 59.2,274.2 59.7,273.7 60.2,273.2 60.7,272.7 61.2,270.9 61.7,269.2 62.2,267.4 62.7,265.7 63.2,265.9 63.7,266.2 64.2,266.4 64.7,265.8 65.2,264.7 65.7,263.7 66.2,265.0 66.7,266.4 67.2,267.7 67.7,268.9 68.2,269.9 68.7,271.0 69.2,272.0 69.7,271.8 70.2,271.1 70.7,270.3 71.2,269.5 71.7,268.4 72.2,267.3 72.7,267.8 73.2,268.9 73.7,270.0 74.2,271.1 74.7,271.8 75.2,272.3 75.7,272.8 76.2,273.3 76.7,273.8 77.2,273.2 77.7,271.9 78.2,270.7 78.7,269.3 79.2,267.9 79.7,266.5 80.2,267.3 80.7,269.3 81.2,271.0 81.7,272.0 82.2,273.0 82.7,274.0 83.2,273.0 83.7,272.0 84.2,271.0 84.7,270.8 85.2,271.1 85.7,271.3 86.2,271.3 86.7,270.7 87.2,270.0 87.7,269.4 88.2,268.5 88.7,266.9 89.2,265.3 89.7,263.7 90.2,261.9 90.7,260.2 91.2,258.4 91.7,256.5 92.2,254.6 92.7,252.7 93.2,251.9 93.7,253.2 94.2,254.4 94.7,255.7 95.2,256.2 95.7,256.8 96.2,257.4 96.7,258.0 97.2,257.9 97.7,257.6 98.2,257.2 98.7,257.3 99.2,258.1 99.7,259.0 100.2,259.8 100.7,260.3 101.2,260.8 101.7,261.3 102.2,261.3 102.7,260.9 103.2,261.4 103.7,263.6 104.2,265.8 104.7,265.5 105.2,264.0 105.7,262.5 106.2,261.1 106.7,260.0 107.2,258.9 107.7,257.7 108.2,257.0 108.7,257.2 109.2,257.3 109.7,256.8 110.2,255.9 110.7,255.1 111.2,254.4 111.7,254.1 112.2,253.7 112.7,253.4 113.2,252.9 113.7,252.2 114.2,251.4 114.7,250.7 115.2,250.0 115.7,249.3 116.2,248.6 116.7,247.9 117.2,248.3 117.7,249.2 118.2,250.1 118.7,250.3 119.2,249.2 119.7,248.1 120.2,247.0 120.7,246.3 121.2,245.7 121.7,245.0 122.2,244.4 122.7,243.7 123.2,243.1 123.7,242.4 124.2,242.7 124.7,244.9 125.2,247.1 125.7,249.2 126.2,251.3 126.7,253.2 127.2,255.1 127.7,256.9 128.2,258.1 128.7,258.0 129.2,257.8 129.7,257.7 130.2,258.4 130.7,259.1 131.2,259.7 131.7,260.4 132.2,260.7 132.7,260.7 133.2,260.7 133.7,260.7 134.2,260.7 134.7,260.3 135.2,259.8 135.7,259.3 136.2,258.6 136.7,257.3 137.2,256.1 137.7,254.8 138.2,253.6 138.7,252.3 139.2,251.1 139.7,249.8 140.2,249.3 140.7,248.8 141.2,248.3 141.7,247.3 142.2,245.9 142.7,244.6 143.2,243.8 143.7,244.3 144.2,244.7 144.7,245.2 145.2,245.7 145.7,245.3 146.2,244.9 146.7,244.5 147.2,244.1 147.7,244.5 148.2,245.3 148.7,246.0 149.2,246.8 149.7,246.8 150.2,246.4 150.7,246.1 151.2,245.8 151.7,246.5 152.2,247.8 152.7,249.0 153.2,249.2 153.7,247.5 154.2,245.7 154.7,244.0 155.2,243.2 155.7,242.5 156.2,241.7 156.7,241.1 157.2,240.5 157.7,240.0 158.2,239.4 158.7,239.4 159.2,240.5 159.7,241.7 160.2,242.9 160.7,244.0 161.2,242.7 161.7,241.5 162.2,240.2 162.7,239.7 163.2,239.4 163.7,239.2 164.2,239.5 164.7,241.1 165.2,242.7 165.7,245.6 166.2,249.1 166.7,251.0 167.2,249.5 167.7,248.0 168.2,246.5 168.7,246.2 169.2,246.0 169.7,245.7 170.2,245.0 170.7,244.0 171.2,243.0 171.7,242.1 172.2,241.4 172.7,240.7 173.2,242.2 173.7,243.8 174.2,245.1 174.7,245.8 175.2,246.6 175.7,247.3 176.2,246.3 176.7,245.3 177.2,244.3 177.7,244.5 178.2,245.3 178.7,246.0 179.2,246.8 179.7,247.6 180.2,248.5 180.7,249.3 181.2,249.8 181.7,250.3 182.2,250.8 182.7,251.1 183.2,251.3 183.7,251.4 184.2,251.1 184.7,249.8 185.2,248.6 185.7,247.3 186.2,246.8 186.7,246.3 187.2,245.8 187.7,245.4 188.2,245.0 188.7,244.6 189.2,244.6 189.7,245.2 190.2,245.9 190.7,246.5 191.2,245.9 191.7,245.3 192.2,244.7 192.7,244.7 193.2,245.1 193.7,245.4 194.2,245.6 194.7,245.3 195.2,245.1 195.7,244.8 196.2,244.5 196.7,244.2 197.2,244.0 197.7,243.7 198.2,244.3 198.7,244.9 199.2,245.5 199.7,245.8 200.2,246.1 200.7,246.3 201.2,246.6 201.7,246.8 202.2,247.1 202.7,247.3 203.2,246.1 203.7,244.8 204.2,246.6 204.7,248.4 205.2,250.2 205.7,252.0 206.2,252.7 206.7,251.2 207.2,249.8 207.7,250.5 208.2,252.3 208.7,254.0 209.2,255.4 209.7,256.8 210.2,258.2 210.7,257.8 211.2,256.5 211.7,256.0 212.2,257.1 212.7,258.2 213.2,258.0 213.7,257.8 214.2,257.0 214.7,254.9 215.2,252.8 215.7,250.7 216.2,249.4 216.7,248.2 217.2,246.9 217.7,246.9 218.2,247.5 218.7,248.2 219.2,246.4 219.7,244.6 220.2,243.7 220.7,243.2 221.2,242.7 221.7,242.1 222.2,241.4 222.7,240.7 223.2,238.7 223.7,236.7 224.2,235.3 224.7,235.3 225.2,235.3 225.7,235.3 226.2,236.0 226.7,238.0 227.2,240.0 227.7,241.7 228.2,243.3 228.7,244.8 229.2,245.6 229.7,246.3 230.2,248.7 230.7,251.9 231.2,254.5 231.7,255.8 232.2,257.2 232.7,258.0 233.2,258.5 233.7,259.0 234.2,258.6 234.7,258.3 235.2,257.2 235.7,255.8 236.2,254.5 236.7,253.4 237.2,253.6 237.7,256.3 238.2,259.0 238.7,258.3 239.2,257.6 239.7,255.2 240.2,252.1 240.7,249.0 241.2,247.4 241.7,245.9 242.2,244.5 242.7,243.7 243.2,242.8 243.7,242.0 244.2,242.9 244.7,243.7 245.2,244.6 245.7,246.3 246.2,248.4 246.7,250.7 247.2,253.2 247.7,255.7 248.2,257.2 248.7,258.7 249.2,257.0 249.7,255.4 250.2,256.8 250.7,259.6 251.2,261.9 251.7,263.2 252.2,264.4 252.7,265.7 253.2,266.9 253.7,268.2 254.2,268.5 254.7,268.9 255.2,267.0 255.7,264.0 256.2,261.3 256.7,258.7 257.2,259.6 257.7,260.6 258.2,261.5 258.7,262.8 259.2,264.0 259.7,265.3 260.2,265.2 260.7,264.5 261.2,263.5 261.7,262.2 262.2,260.8 262.7,260.8 263.2,261.6 263.7,262.3 264.2,262.8 264.7,263.3 265.2,263.8 265.7,264.2 266.2,264.4 266.7,264.7 267.2,264.7 267.7,264.2 268.2,263.7 268.7,263.2 269.2,261.7 269.7,260.2 270.2,258.7 270.7,257.0 271.2,255.2 271.7,253.5 272.2,252.4 272.7,252.7 273.2,252.9 273.7,253.2 274.2,251.7 274.7,250.2 275.2,248.7 275.7,248.4 276.2,248.8 276.7,248.5 277.2,247.1 277.7,245.7 278.2,248.2 278.7,250.7 279.2,253.1 279.7,255.3 280.2,257.5 280.7,257.9 281.2,257.6 281.7,257.2 282.2,257.3 282.7,258.1 283.2,259.0 283.7,259.8 284.2,258.8 284.7,257.8 285.2,256.8 285.7,255.7 286.2,254.6 286.7,253.5 287.2,252.4 287.7,252.7 288.2,253.8 288.7,254.9 289.2,255.8 289.7,256.3 290.2,256.8 290.7,257.3 291.2,257.0 291.7,256.7 292.2,257.2 292.7,259.4 293.2,261.6 293.7,261.6 294.2,260.5 294.7,260.3 295.2,261.5 295.7,262.8 296.2,264.0 296.7,267.2 297.2,270.5 297.7,272.8 298.2,274.6 298.7,276.5 299.2,275.2 299.7,274.0 300.2,273.0 300.7,272.5 301.2,272.0 301.7,271.5 302.2,271.8 302.7,272.0 303.2,272.3 303.7,271.8 304.2,271.1 304.7,270.3 305.2,270.2 305.7,271.2 306.2,272.2 306.7,273.2 307.2,273.9 307.7,274.6 308.2,273.8 308.7,272.2 309.2,270.7 309.7,271.7 310.2,272.8 310.7,274.2 311.2,275.8 311.7,277.3 312.2,278.4 312.7,279.5 313.2,280.6 313.7,281.6 314.2,282.9 314.7,284.4 315.2,286.0 315.7,286.8 316.2,287.3 316.7,287.8 317.2,288.6 317.7,289.8 318.2,291.1 318.7,292.2 319.2,293.3 319.7,294.7 320.2,296.9 320.7,299.0 321.2,299.8 321.7,300.7 322.2,298.9 322.7,297.1 323.2,297.2 323.7,298.3 324.2,298.6 324.7,297.3 325.2,296.1 325.7,296.3 326.2,297.2 326.7,298.2 327.2,298.5 327.7,298.9 328.2,298.3 328.7,297.3 329.2,296.3 329.7,295.3 330.2,294.3 330.7,293.3 331.2,292.3 331.7,291.8 332.2,291.3 332.7,290.8 333.2,291.3 333.7,292.3 334.2,293.3 334.7,294.1 335.2,294.5 335.7,294.8 336.2,293.3 336.7,291.7 337.2,290.2 337.7,289.0 338.2,287.7 338.7,286.6 339.2,285.5 339.7,284.9 340.2,285.1 340.7,285.3 341.2,287.0 341.7,288.7 342.2,290.2 342.7,291.1 343.2,292.0 343.7,292.8 344.2,293.6 344.7,294.3 345.2,294.3 345.7,292.9 346.2,291.5 346.7,290.8 347.2,290.1 347.7,290.9 348.2,292.4 348.7,294.0 349.2,295.9 349.7,297.8 350.2,299.2 350.7,300.0 351.2,300.7 351.7,301.2 352.2,301.7 352.7,302.2 353.2,302.4 353.7,302.5 354.2,302.6 354.7,302.1 355.2,300.5 355.7,298.9 356.2,297.3 356.7,298.8 357.2,300.2 357.7,301.3 358.2,302.2 358.7,303.2 359.2,303.5 359.7,303.8 360.2,303.7 360.7,303.0 361.2,302.2 361.7,301.5 362.2,301.5 362.7,301.5 363.2,301.5 363.7,301.0 364.2,300.2 364.7,299.5 365.2,298.6 365.7,297.6 366.2,296.5 366.7,297.6 367.2,298.7 367.7,298.7 368.2,298.2 368.7,297.7 369.2,297.2 369.7,297.0 370.2,296.7 370.7,296.5 371.2,295.2 371.7,294.0 372.2,293.0 372.7,292.3 373.2,291.7 373.7,292.5 374.2,293.9 374.7,295.0 375.2,295.5 375.7,296.0 376.2,296.5 376.7,297.0 377.2,297.5 377.7,298.0 378.2,297.5 378.7,296.5 379.2,295.5 379.7,294.7 380.2,294.4 380.7,294.0 381.2,293.7 381.7,294.5 382.2,295.4 382.7,296.2 383.2,296.7 383.7,296.9 384.2,297.2 384.7,296.8 385.2,295.4 385.7,294.0 386.2,292.4 386.7,290.9 387.2,289.3 387.7,287.7 388.2,286.2 388.7,286.9 389.2,288.7 389.7,290.4 390.2,292.2 390.7,294.0 391.2,295.9 391.7,297.8 392.2,298.8 392.7,298.2 393.2,297.5 393.7,297.6 394.2,297.9 394.7,298.0 395.2,297.7 395.7,297.3 396.2,298.6 396.7,299.8 397.2,300.9 397.7,301.7 398.2,302.4 398.7,303.2 399.2,304.1 399.7,305.0 400.2,305.4 400.7,304.7 401.2,304.0 401.7,302.7 402.2,301.5 402.7,300.2 403.2,299.3 403.7,298.6 404.2,297.8 404.7,297.2 405.2,296.9 405.7,296.5 406.2,296.8 406.7,297.1 407.2,297.6 407.7,298.3 408.2,299.1 408.7,299.8 409.2,300.3 409.7,300.8 410.2,301.3 410.7,301.8 411.2,302.3 411.7,302.8 412.2,303.1 412.7,302.8 413.2,302.6 413.7,302.3 414.2,303.1 414.7,303.8 415.2,304.6 415.7,305.8 416.2,307.3 416.7,308.8 417.2,310.2 417.7,311.1 418.2,312.0 418.7,312.2 419.2,311.9 419.7,311.7 420.2,310.7 420.7,308.4 421.2,306.1 421.7,306.4 422.2,308.0 422.7,309.5 423.2,310.9 423.7,312.3 424.2,313.0 424.7,313.6 425.2,314.0 425.7,314.1 426.2,314.2 426.7,314.3 427.2,314.0 427.7,313.6 428.2,313.3 428.7,313.2 429.2,313.2 429.7,313.2 430.2,312.8 430.7,311.9 431.2,311.0 431.7,310.5 432.2,310.2 432.7,310.0 433.2,309.3 433.7,307.8 434.2,306.3 434.7,304.8 435.2,303.8 435.7,302.7 436.2,301.8 436.7,301.1 437.2,300.3 437.7,299.6 438.2,298.9 438.7,298.2 439.2,297.2 439.7,296.3 440.2,295.3 440.7,294.4 441.2,293.5 441.7,293.4 442.2,293.8 442.7,294.4 443.2,295.7 443.7,297.0 444.2,296.5 444.7,296.0 445.2,295.5 445.7,294.8 446.2,294.2 446.7,294.0 447.2,294.0 447.7,293.8 448.2,293.0 448.7,292.3 449.2,292.0 449.7,291.7 450.2,291.6 450.7,291.9 451.2,292.2 451.7,293.5 452.2,295.3 452.7,296.7 453.2,297.2 453.7,297.7 454.2,296.8 454.7,295.9 455.2,294.3 455.7,291.3 456.2,288.3 456.7,287.1 457.2,286.7 457.7,286.9 458.2,287.9 458.7,289.0 459.2,287.3 459.7,285.7 460.2,287.1 460.7,288.5 461.2,288.8 461.7,288.4 462.2,288.0 462.7,287.3 463.2,286.7 463.7,286.1 464.2,285.5 464.7,284.8 465.2,285.2 465.7,285.6 466.2,287.6 466.7,290.4 467.2,293.1 467.7,295.5 468.2,297.9 468.7,298.4 469.2,298.0 469.7,297.7 470.2,296.8 470.7,295.9 471.2,294.2 471.7,292.1 472.2,290.4 472.7,289.7 473.2,288.9 473.7,288.7 474.2,288.8 474.7,288.9 475.2,288.7 475.7,287.7 476.2,286.8 476.7,285.8 477.2,284.7 477.7,283.8 478.2,283.0 478.7,282.3 479.2,282.0 479.7,281.7 480.2,281.6 480.7,281.8 481.2,281.9 481.7,282.8 482.2,284.0 482.7,285.9 483.2,288.9 483.7,290.9 484.2,292.4 484.7,294.0 485.2,295.1 485.7,296.2 486.2,297.7 486.7,299.5 487.2,301.5 487.7,304.0 488.2,305.9 488.7,306.6 489.2,307.3 489.7,307.7 490.2,308.1 490.7,308.6 491.2,309.2 491.7,309.8 492.2,310.5 492.7,311.1 493.2,311.7 493.7,312.5 494.2,313.2 494.7,312.1 495.2,311.0 495.7,310.9 496.2,311.2 496.7,311.5 497.2,311.3 497.7,311.1 498.2,310.9 498.7,310.5 499.2,310.2 499.7,309.8 500.2,310.2 500.7,310.6 501.2,311.4 501.7,312.5 502.2,313.4 502.7,314.0 503.2,314.6 503.7,314.1 504.2,313.1 504.7,312.0 505.2,311.4 505.7,310.9 506.2,310.7 506.7,310.7 507.2,310.8 507.7,311.1 508.2,311.4 508.7,311.3 509.2,311.0 509.7,310.7 510.2,309.6 510.7,308.5 511.2,307.2 511.7,305.8 512.2,304.3 512.7,302.7 513.2,301.2 513.7,300.0 514.2,299.1 514.7,298.2 515.2,298.7 515.7,299.2 516.2,299.2 516.7,299.1 517.2,298.9 517.7,298.6 518.2,298.3 518.7,297.9 519.2,297.4 519.7,297.0 520.2,296.4 520.7,295.9 521.2,295.9 521.7,296.3 522.2,296.3 522.7,295.7 523.2,295.7 523.7,297.0 524.2,298.2 524.7,296.7 525.2,295.3 525.7,294.4 526.2,293.8 526.7,293.2 527.2,293.8 527.7,294.4 528.2,294.7 528.7,294.2 529.2,293.7 529.7,293.2 530.2,292.8 530.7,293.2 531.2,294.0 531.7,294.8 532.2,295.5 532.7,296.1 533.2,296.8 533.7,297.7 534.2,298.7 534.7,298.2 535.2,297.8 535.7,297.6 536.2,297.5 536.7,297.3 537.2,297.6 537.7,297.8 538.2,298.1 538.7,298.3 539.2,298.6 539.7,298.8 540.2,299.4 540.7,300.7 541.2,301.9 541.7,301.4 542.2,299.9 542.7,298.3 543.2,296.1 543.7,294.0 544.2,292.1 544.7,290.2 545.2,289.4 545.7,290.7 546.2,292.2 546.7,294.3 547.2,296.0 547.7,296.9 548.2,297.4 548.7,297.1 549.2,296.8 549.7,296.4 550.2,296.1 550.7,295.5 551.2,294.4 551.7,293.3 552.2,293.0 552.7,292.7 553.2,292.8 553.7,293.6 554.2,294.4 554.7,295.2 555.2,296.1 555.7,296.6 556.2,296.5 556.7,296.3 557.2,296.0 557.7,295.6 558.2,295.2 558.7,294.7 559.2,294.3 559.7,294.9 560.2,296.0 560.7,297.0 561.2,297.8 561.7,298.7 562.2,299.2 562.7,299.7 563.2,300.2 563.7,301.0 564.2,301.7 564.7,302.3 565.2,302.9 565.7,303.7 566.2,304.8 566.7,305.8 567.2,306.1 567.7,306.5 568.2,306.2 568.7,304.7 569.2,303.2 569.7,301.7 570.2,301.4 570.7,301.0 571.2,300.6 571.7,299.9 572.2,299.2 572.7,298.4 573.2,297.7 573.7,296.9 574.2,295.9 574.7,295.0 575.2,294.4 575.7,293.9 576.2,293.9 576.7,294.3 577.2,294.7 577.7,294.5 578.2,294.2 578.7,294.4 579.2,294.7 579.7,295.0 580.2,295.7 580.7,296.4 581.2,295.6 581.7,294.1 582.2,292.5 582.7,291.8 583.2,291.1 583.7,290.4 584.2,289.8 584.7,289.2 585.2,287.9 585.7,286.7 586.2,285.1 586.7,283.0 587.2,280.8 587.7,279.8 588.2,278.7 588.7,277.8 589.2,277.1 589.7,276.3 590.2,275.5 590.7,274.7 591.2,273.7 591.7,272.3 592.2,270.8 592.7,270.3 593.2,269.8 593.7,269.8 594.2,270.1 594.7,270.3 595.2,270.8 595.7,271.3 596.2,271.9 596.7,272.6 597.2,273.3 597.7,274.4 598.2,275.5 598.7,276.3 599.2,276.9 599.7,277.5 600.2,277.8 600.7,278.1 601.2,278.7 601.7,279.8 602.2,280.8 602.7,281.6 603.2,282.3 603.7,282.9 604.2,283.5 604.7,284.2 605.2,285.2 605.7,285.2 606.2,283.2 606.7,281.9 607.2,281.1 607.7,281.0 608.2,281.3 608.7,281.4 609.2,281.5 609.7,281.7 610.2,281.4 610.7,281.0 611.2,280.9 611.7,281.1 612.2,281.3 612.7,280.8 613.2,280.2 613.7,279.7 614.2,279.2 614.7,278.7 615.2,278.2 615.7,277.8 616.2,277.3 616.7,276.7 617.2,278.3 617.7,280.0 618.2,281.4 618.7,282.9 619.2,284.1 619.7,285.1 620.2,286.0 620.7,286.7 621.2,287.3 621.7,287.8 622.2,288.2 622.7,288.7 623.2,288.9 623.7,289.1 624.2,289.6 624.7,290.4 625.2,291.2 625.7,292.1 626.2,293.0 626.7,294.2 627.2,295.4 627.7,296.7 628.2,298.1 628.7,299.5 629.2,300.5 629.7,301.2 630.2,301.5 630.7,300.8 631.2,300.2 631.7,299.8 632.2,299.5 632.7,299.2 633.2,298.8 633.7,298.5 634.2,298.3 634.7,298.3 635.2,298.2 635.7,297.9 636.2,297.6 636.7,297.5 637.2,297.5 637.7,297.5 638.2,296.8 638.7,296.1 639.2,295.4 639.7,294.6 640.2,294.3 640.7,294.5 641.2,294.4 641.7,293.7 642.2,293.0 642.7,292.6 643.2,292.1 643.7,292.3 644.2,292.8 644.7,293.3 645.2,293.9 645.7,294.5 646.2,295.0 646.7,295.4 647.2,295.8 647.7,296.2 648.2,296.5 648.7,297.3 649.2,298.2 649.7,299.2 650.2,299.8 650.7,300.4 651.2,301.1 651.7,301.8 652.2,302.5 652.7,302.9 653.2,303.2 653.7,304.0 654.2,304.9 654.7,305.8 655.2,306.7 655.7,307.5 656.2,307.8 656.7,307.2 657.2,306.7 657.7,307.7 658.2,308.8 658.7,309.4 659.2,309.7 659.7,310.0 660.2,308.7 660.7,307.5 661.2,306.3 661.7,305.2 662.2,304.2 662.7,303.4 663.2,302.7 663.7,302.1 664.2,301.5 664.7,300.8 665.2,299.8 665.7,298.7 666.2,298.0 666.7,298.2 667.2,298.3 667.2,306.7 666.7,307.0 666.2,307.4 665.7,308.3 665.2,309.6 664.7,310.8 664.2,311.8 663.7,312.7 663.2,313.7 662.7,314.8 662.2,315.8 661.7,316.8 661.2,317.7 660.7,318.7 660.2,319.8 659.7,320.8 659.2,320.5 658.7,320.2 658.2,319.8 657.7,319.1 657.2,318.3 656.7,319.0 656.2,319.8 655.7,319.4 655.2,318.4 654.7,317.5 654.2,316.6 653.7,315.6 653.2,314.9 652.7,314.5 652.2,314.2 651.7,313.5 651.2,312.7 650.7,312.0 650.2,311.2 649.7,310.3 649.2,309.6 648.7,308.8 648.2,308.2 647.7,307.9 647.2,307.5 646.7,306.9 646.2,306.3 645.7,305.6 645.2,304.9 644.7,304.2 644.2,304.0 643.7,303.8 643.2,303.8 642.7,304.2 642.2,304.7 641.7,305.2 641.2,305.7 640.7,305.8 640.2,305.8 639.7,306.3 639.2,307.0 638.7,307.6 638.2,308.0 637.7,308.3 637.2,308.6 636.7,309.0 636.2,309.3 635.7,309.6 635.2,309.9 634.7,310.1 634.2,310.2 633.7,310.5 633.2,310.9 632.7,311.3 632.2,311.5 631.7,311.6 631.2,311.9 630.7,312.5 630.2,313.1 629.7,313.0 629.2,312.4 628.7,311.6 628.2,310.4 627.7,309.2 627.2,308.2 626.7,307.3 626.2,306.4 625.7,305.4 625.2,304.5 624.7,303.7 624.2,303.0 623.7,302.4 623.2,302.0 622.7,301.7 622.2,301.4 621.7,301.0 621.2,300.6 620.7,300.0 620.2,299.4 619.7,298.7 619.2,298.0 618.7,297.1 618.2,296.1 617.7,295.0 617.2,294.0 616.7,293.0 616.2,293.9 615.7,294.0 615.2,293.9 614.7,293.7 614.2,294.0 613.7,294.4 613.2,294.8 612.7,295.0 612.2,295.3 611.7,295.0 611.2,294.8 610.7,295.0 610.2,295.4 609.7,295.8 609.2,295.5 608.7,295.2 608.2,294.9 607.7,294.4 607.2,294.3 606.7,294.7 606.2,295.7 605.7,297.7 605.2,297.7 604.7,296.7 604.2,296.0 603.7,295.4 603.2,295.0 602.7,295.2 602.2,295.3 601.7,294.8 601.2,294.3 600.7,293.9 600.2,293.4 599.7,293.0 599.2,292.5 598.7,292.0 598.2,291.5 597.7,290.9 597.2,290.3 596.7,290.0 596.2,289.8 595.7,289.3 595.2,288.6 594.7,288.0 594.2,287.8 593.7,287.6 593.2,287.4 592.7,287.0 592.2,286.7 591.7,287.4 591.2,288.1 590.7,288.7 590.2,289.4 589.7,290.0 589.2,290.6 588.7,291.2 588.2,292.0 587.7,293.1 587.2,294.2 586.7,295.6 586.2,297.0 585.7,298.1 585.2,299.1 584.7,300.0 584.2,300.3 583.7,300.6 583.2,301.2 582.7,302.3 582.2,303.3 581.7,304.6 581.2,305.8 580.7,306.2 580.2,304.8 579.7,303.3 579.2,304.3 578.7,305.2 578.2,305.9 577.7,306.1 577.2,306.3 576.7,306.1 576.2,306.0 575.7,306.0 575.2,306.3 574.7,306.7 574.2,307.3 573.7,307.9 573.2,308.5 572.7,309.1 572.2,309.7 571.7,310.5 571.2,311.4 570.7,311.9 570.2,312.2 569.7,312.5 569.2,313.8 568.7,315.1 568.2,316.3 567.7,316.5 567.2,316.1 566.7,315.8 566.2,314.8 565.7,313.7 565.2,312.7 564.7,311.8 564.2,310.8 563.7,310.1 563.2,309.4 562.7,308.8 562.2,308.1 561.7,307.5 561.2,306.8 560.7,306.1 560.2,305.1 559.7,304.1 559.2,303.4 558.7,303.7 558.2,304.1 557.7,304.6 557.2,305.2 556.7,305.8 556.2,306.2 555.7,306.5 555.2,306.1 554.7,305.2 554.2,304.5 553.7,304.0 553.2,303.5 552.7,303.5 552.2,303.9 551.7,304.2 551.2,304.9 550.7,305.6 550.2,306.1 549.7,306.4 549.2,306.9 548.7,307.5 548.2,308.1 547.7,307.7 547.2,306.8 546.7,304.8 546.2,302.3 545.7,300.7 545.2,299.4 544.7,300.0 544.2,301.6 543.7,303.2 543.2,304.9 542.7,306.7 542.2,308.5 541.7,310.3 541.2,311.0 540.7,309.4 540.2,307.9 539.7,307.0 539.2,306.5 538.7,306.0 538.2,305.6 537.7,305.3 537.2,305.1 536.7,304.8 536.2,304.5 535.7,304.2 535.2,304.2 534.7,304.9 534.2,305.7 533.7,305.0 533.2,304.2 532.7,303.6 532.2,303.0 531.7,302.3 531.2,301.6 530.7,300.8 530.2,300.5 529.7,301.0 529.2,301.5 528.7,301.9 528.2,302.2 527.7,301.9 527.2,301.3 526.7,300.7 526.2,301.3 525.7,301.9 525.2,302.8 524.7,304.2 524.2,305.7 523.7,304.6 523.2,303.5 522.7,303.7 522.2,304.6 521.7,304.6 521.2,304.2 520.7,304.2 520.2,304.9 519.7,305.7 519.2,306.0 518.7,306.3 518.2,306.6 517.7,307.1 517.2,307.5 516.7,307.6 516.2,307.4 515.7,307.2 515.2,306.9 514.7,306.5 514.2,307.4 513.7,308.4 513.2,309.5 512.7,311.1 512.2,312.6 511.7,314.3 511.2,315.9 510.7,317.2 510.2,317.9 509.7,318.7 509.2,318.8 508.7,318.9 508.2,319.0 507.7,318.8 507.2,318.7 506.7,318.5 506.2,318.3 505.7,318.3 505.2,318.6 504.7,319.0 504.2,319.9 503.7,320.9 503.2,321.3 502.7,320.7 502.2,320.0 501.7,319.4 501.2,318.6 500.7,318.0 500.2,317.5 499.7,317.0 499.2,317.3 498.7,317.7 498.2,318.0 497.7,318.2 497.2,318.2 496.7,318.2 496.2,317.5 495.7,316.9 495.2,316.8 494.7,317.9 494.2,319.0 493.7,318.6 493.2,318.3 492.7,317.6 492.2,316.8 491.7,316.0 491.2,315.3 490.7,314.5 490.2,313.9 489.7,313.5 489.2,313.2 488.7,312.5 488.2,311.7 487.7,310.4 487.2,308.7 486.7,307.0 486.2,305.2 485.7,303.9 485.2,303.5 484.7,303.2 484.2,301.6 483.7,300.1 483.2,298.0 482.7,295.0 482.2,293.0 481.7,291.4 481.2,290.3 480.7,290.1 480.2,289.9 479.7,290.2 479.2,290.9 478.7,291.5 478.2,292.2 477.7,292.9 477.2,293.9 476.7,294.9 476.2,296.1 475.7,297.3 475.2,298.6 474.7,298.7 474.2,298.3 473.7,297.9 473.2,298.0 472.7,299.2 472.2,300.3 471.7,302.1 471.2,304.2 470.7,306.0 470.2,307.1 469.7,308.2 469.2,308.8 468.7,309.4 468.2,308.9 467.7,306.1 467.2,303.3 466.7,300.9 466.2,298.8 465.7,297.2 465.2,296.9 464.7,296.5 464.2,296.7 463.7,296.9 463.2,297.2 462.7,297.8 462.2,298.5 461.7,298.8 461.2,298.9 460.7,298.5 460.2,297.1 459.7,295.7 459.2,296.9 458.7,298.2 458.2,297.7 457.7,297.2 457.2,297.2 456.7,297.5 456.2,298.9 455.7,302.5 455.2,306.1 454.7,308.2 454.2,309.4 453.7,310.7 453.2,310.3 452.7,310.0 452.2,308.7 451.7,306.9 451.2,305.7 450.7,305.7 450.2,305.7 449.7,305.9 449.2,306.2 448.7,306.5 448.2,307.0 447.7,307.5 447.2,307.6 446.7,307.4 446.2,307.5 445.7,308.0 445.2,308.5 444.7,308.3 444.2,307.8 443.7,307.3 443.2,306.3 442.7,305.2 442.2,304.6 441.7,304.2 441.2,304.2 440.7,305.0 440.2,305.7 439.7,306.5 439.2,307.3 438.7,308.2 438.2,308.9 437.7,309.6 437.2,310.3 436.7,311.1 436.2,311.8 435.7,312.7 435.2,313.8 434.7,314.8 434.2,316.6 433.7,318.3 433.2,320.1 432.7,320.7 432.2,320.7 431.7,320.7 431.2,321.1 430.7,322.5 430.2,323.9 429.7,324.3 429.2,324.2 428.7,324.1 428.2,324.2 427.7,325.0 427.2,325.7 426.7,326.5 426.2,326.3 425.7,326.0 425.2,325.8 424.7,325.3 424.2,324.6 423.7,324.0 423.2,322.2 422.7,320.4 422.2,318.7 421.7,316.9 421.2,316.5 420.7,319.0 420.2,321.5 419.7,322.6 419.2,323.0 418.7,323.4 418.2,323.8 417.7,323.7 417.2,322.6 416.7,321.5 416.2,320.5 415.7,319.5 415.2,318.5 414.7,317.8 414.2,317.3 413.7,316.8 413.2,316.6 412.7,316.8 412.2,317.1 411.7,317.3 411.2,316.6 410.7,315.8 410.2,315.1 409.7,314.5 409.2,313.8 408.7,313.2 408.2,312.3 407.7,311.5 407.2,310.6 406.7,310.6 406.2,310.9 405.7,311.3 405.2,311.6 404.7,311.8 404.2,312.1 403.7,312.3 403.2,312.8 402.7,313.3 402.2,313.8 401.7,314.6 401.2,315.6 400.7,316.5 400.2,317.9 399.7,319.3 399.2,319.2 398.7,318.2 398.2,317.2 397.7,316.2 397.2,315.2 396.7,313.8 396.2,312.2 395.7,310.7 395.2,311.0 394.7,311.4 394.2,310.8 393.7,309.7 393.2,309.2 392.7,310.0 392.2,310.7 391.7,310.5 391.2,309.8 390.7,309.0 390.2,307.6 389.7,306.2 389.2,304.5 388.7,302.7 388.2,302.0 387.7,303.6 387.2,305.1 386.7,306.7 386.2,308.3 385.7,309.8 385.2,310.8 384.7,311.7 384.2,312.2 383.7,312.6 383.2,312.9 382.7,313.0 382.2,312.5 381.7,312.0 381.2,311.5 380.7,311.8 380.2,312.2 379.7,312.5 379.2,312.9 378.7,313.3 378.2,313.7 377.7,313.9 377.2,313.7 376.7,313.4 376.2,313.2 375.7,313.0 375.2,312.9 374.7,312.7 374.2,312.1 373.7,311.2 373.2,310.9 372.7,311.5 372.2,312.1 371.7,312.7 371.2,313.2 370.7,313.7 370.2,314.2 369.7,314.3 369.2,314.2 368.7,314.1 368.2,314.1 367.7,314.3 367.2,314.6 366.7,314.8 366.2,315.6 365.7,316.5 365.2,317.3 364.7,318.4 364.2,319.5 363.7,319.4 363.2,318.6 362.7,318.4 362.2,319.1 361.7,319.8 361.2,320.1 360.7,320.5 360.2,320.7 359.7,321.0 359.2,321.2 358.7,321.5 358.2,321.0 357.7,320.5 357.2,320.0 356.7,319.5 356.2,319.1 355.7,318.7 355.2,319.5 354.7,320.4 354.2,321.2 353.7,321.7 353.2,321.9 352.7,322.2 352.2,322.0 351.7,320.9 351.2,319.8 350.7,319.1 350.2,318.4 349.7,317.5 349.2,316.6 348.7,315.7 348.2,315.0 347.7,314.4 347.2,313.7 346.7,312.6 346.2,311.5 345.7,312.2 345.2,312.9 344.7,312.9 344.2,312.6 343.7,312.2 343.2,312.0 342.7,312.1 342.2,312.2 341.7,312.3 341.2,311.7 340.7,311.1 340.2,310.8 339.7,311.1 339.2,311.4 338.7,312.4 338.2,313.9 337.7,315.2 337.2,316.3 336.7,317.3 336.2,318.3 335.7,319.2 335.2,320.0 334.7,320.7 334.2,321.3 333.7,321.7 333.2,321.9 332.7,322.2 332.2,322.7 331.7,323.8 331.2,324.8 330.7,323.4 330.2,322.0 329.7,321.8 329.2,322.3 328.7,322.8 328.2,323.1 327.7,322.8 327.2,322.6 326.7,322.3 326.2,322.4 325.7,322.5 325.2,322.6 324.7,322.8 324.2,322.9 323.7,323.1 323.2,323.0 322.7,322.5 322.2,322.0 321.7,321.5 321.2,320.7 320.7,319.8 320.2,318.8 319.7,317.7 319.2,317.1 318.7,316.7 318.2,316.1 317.7,314.8 317.2,313.6 316.7,312.5 316.2,311.5 315.7,310.5 315.2,309.4 314.7,308.2 314.2,306.9 313.7,305.8 313.2,304.7 312.7,303.3 312.2,301.2 311.7,299.0 311.2,297.8 310.7,296.5 310.2,295.4 309.7,294.7 309.2,294.0 308.7,294.3 308.2,294.6 307.7,294.6 307.2,293.9 306.7,293.2 306.2,292.9 305.7,292.7 305.2,292.4 304.7,292.5 304.2,292.7 303.7,293.0 303.2,293.2 302.7,293.2 302.2,293.2 301.7,293.2 301.2,294.2 300.7,295.2 300.2,296.2 299.7,296.7 299.2,297.0 298.7,297.3 298.2,296.1 297.7,294.8 297.2,293.4 296.7,291.6 296.2,289.8 295.7,290.1 295.2,290.3 294.7,290.6 294.2,290.4 293.7,290.1 293.2,289.4 292.7,288.2 292.2,286.9 291.7,286.5 291.2,286.5 290.7,286.5 290.2,286.1 289.7,284.8 289.2,283.6 288.7,282.5 288.2,281.5 287.7,280.5 287.2,280.1 286.7,280.8 286.2,281.6 285.7,282.3 285.2,283.1 284.7,283.8 284.2,284.6 283.7,283.8 283.2,282.2 282.7,280.7 282.2,281.0 281.7,281.4 281.2,282.0 280.7,282.7 280.2,283.1 279.7,282.7 279.2,282.4 278.7,282.0 278.2,282.3 277.7,282.7 277.2,283.0 276.7,283.8 276.2,284.8 275.7,285.8 275.2,286.4 274.7,286.2 274.2,285.9 273.7,285.7 273.2,286.2 272.7,286.7 272.2,287.2 271.7,288.0 271.2,289.0 270.7,290.0 270.2,291.4 269.7,293.7 269.2,294.7 268.7,295.7 268.2,296.1 267.7,296.5 267.2,296.7 266.7,296.4 266.2,296.1 265.7,295.6 265.2,295.0 264.7,293.9 264.2,292.5 263.7,292.1 263.2,292.2 262.7,292.3 262.2,292.4 261.7,292.7 261.2,292.9 260.7,293.2 260.2,291.9 259.7,290.7 259.2,289.6 258.7,288.9 258.2,288.2 257.7,288.3 257.2,288.5 256.7,288.6 256.2,288.9 255.7,289.2 255.2,289.6 254.7,289.9 254.2,290.2 253.7,290.4 253.2,290.7 252.7,290.0 252.2,289.2 251.7,288.1 251.2,286.7 250.7,285.3 250.2,285.5 249.7,285.6 249.2,286.1 248.7,287.4 248.2,288.7 247.7,287.4 247.2,286.1 246.7,283.2 246.2,279.4 245.7,276.0 245.2,272.6 244.7,271.5 244.2,271.5 243.7,271.5 243.2,271.3 242.7,271.0 242.2,270.8 241.7,270.9 241.2,271.2 240.7,271.5 240.2,272.7 239.7,274.0 239.2,275.2 238.7,276.3 238.2,277.3 237.7,275.2 237.2,273.1 236.7,273.2 236.2,274.4 235.7,276.0 235.2,277.8 234.7,279.5 234.2,280.9 233.7,282.3 233.2,281.3 232.7,280.3 232.2,279.3 231.7,278.0 231.2,276.4 230.7,274.8 230.2,273.3 229.7,271.7 229.2,270.8 228.7,271.1 228.2,271.5 227.7,269.7 227.2,267.9 226.7,266.5 226.2,265.3 225.7,264.0 225.2,263.1 224.7,262.1 224.2,261.6 223.7,262.0 223.2,262.3 222.7,264.1 222.2,265.9 221.7,267.5 221.2,269.1 220.7,270.7 220.2,272.2 219.7,273.8 219.2,275.3 218.7,276.7 218.2,278.2 217.7,277.1 217.2,276.0 216.7,276.7 216.2,278.3 215.7,279.8 215.2,281.3 214.7,282.7 214.2,283.8 213.7,284.1 213.2,284.5 212.7,284.8 212.2,284.5 211.7,284.1 211.2,283.3 210.7,282.3 210.2,281.3 209.7,279.7 209.2,276.9 208.7,274.0 208.2,270.7 207.7,267.4 207.2,266.6 206.7,265.9 206.2,265.3 205.7,264.8 205.2,264.3 204.7,263.8 204.2,263.2 203.7,262.6 203.2,262.0 202.7,261.8 202.2,261.5 201.7,261.3 201.2,261.6 200.7,262.2 200.2,262.8 199.7,263.0 199.2,262.5 198.7,262.0 198.2,261.5 197.7,262.4 197.2,263.4 196.7,264.3 196.2,265.3 195.7,266.3 195.2,266.8 194.7,266.3 194.2,265.8 193.7,265.2 193.2,264.4 192.7,263.7 192.2,263.2 191.7,263.5 191.2,263.7 190.7,264.0 190.2,263.0 189.7,262.0 189.2,261.0 188.7,260.7 188.2,260.8 187.7,260.9 187.2,261.1 186.7,261.5 186.2,261.9 185.7,262.3 185.2,262.6 184.7,262.8 184.2,263.1 183.7,263.7 183.2,264.4 182.7,265.2 182.2,265.8 181.7,266.2 181.2,266.6 180.7,267.0 180.2,266.4 179.7,265.7 179.2,265.1 178.7,264.3 178.2,263.6 177.7,262.8 177.2,262.4 176.7,262.7 176.2,262.9 175.7,263.2 175.2,263.5 174.7,263.8 174.2,263.5 173.7,262.1 173.2,260.7 172.7,261.2 172.2,261.7 171.7,262.2 171.2,262.8 170.7,263.6 170.2,264.3 169.7,264.8 169.2,264.5 168.7,264.3 168.2,264.0 167.7,265.7 167.2,267.5 166.7,269.2 166.2,268.2 165.7,265.7 165.2,263.9 164.7,263.6 164.2,263.3 163.7,262.8 163.2,262.1 162.7,261.5 162.2,262.5 161.7,263.5 161.2,264.5 160.7,264.0 160.2,262.8 159.7,261.5 159.2,260.3 158.7,260.5 158.2,261.4 157.7,262.4 157.2,263.4 156.7,263.8 156.2,263.3 155.7,262.8 155.2,262.3 154.7,263.3 154.2,264.2 153.7,265.2 153.2,266.2 152.7,267.2 152.2,268.2 151.7,269.2 151.2,269.8 150.7,269.6 150.2,269.3 149.7,269.1 149.2,269.5 148.7,270.9 148.2,272.4 147.7,273.9 147.2,274.6 146.7,273.8 146.2,273.1 145.7,272.3 145.2,270.6 144.7,268.8 144.2,267.1 143.7,266.9 143.2,267.5 142.7,268.0 142.2,268.6 141.7,268.9 141.2,268.7 140.7,268.4 140.2,268.2 139.7,268.7 139.2,269.3 138.7,269.9 138.2,270.5 137.7,271.0 137.2,271.5 136.7,272.0 136.2,272.5 135.7,273.0 135.2,273.5 134.7,274.0 134.2,275.1 133.7,276.2 133.2,277.3 132.7,278.6 132.2,279.8 131.7,280.3 131.2,279.2 130.7,278.2 130.2,278.8 129.7,279.4 129.2,280.0 128.7,280.5 128.2,281.0 127.7,281.5 127.2,280.3 126.7,279.0 126.2,277.8 125.7,276.2 125.2,274.4 124.7,272.7 124.2,271.8 123.7,272.7 123.2,273.7 122.7,274.7 122.2,275.7 121.7,276.7 121.2,277.5 120.7,278.2 120.2,278.8 119.7,279.4 119.2,279.7 118.7,279.4 118.2,279.0 117.7,278.7 117.2,279.0 116.7,279.2 116.2,279.5 115.7,279.8 115.2,280.6 114.7,281.3 114.2,282.1 113.7,283.4 113.2,284.9 112.7,286.5 112.2,284.9 111.7,283.4 111.2,282.4 110.7,282.8 110.2,283.1 109.7,283.4 109.2,283.7 108.7,283.8 108.2,283.9 107.7,284.0 107.2,283.2 106.7,282.3 106.2,281.5 105.7,280.7 105.2,283.6 104.7,286.6 104.2,287.8 103.7,285.0 103.2,283.8 102.7,283.6 102.2,283.3 101.7,282.8 101.2,281.6 100.7,280.5 100.2,279.3 99.7,279.4 99.2,279.5 98.7,279.6 98.2,279.6 97.7,279.7 97.2,279.8 96.7,279.8 96.2,279.8 95.7,279.8 95.2,279.8 94.7,279.8 94.2,278.1 93.7,276.3 93.2,274.6 92.7,275.4 92.2,277.6 91.7,279.8 91.2,281.9 90.7,283.6 90.2,285.0 89.7,286.4 89.2,287.7 88.7,288.8 88.2,290.0 87.7,290.4 87.2,290.5 86.7,290.6 86.2,290.6 85.7,290.8 85.2,291.1 84.7,291.3 84.2,292.1 83.7,293.7 83.2,295.4 82.7,295.4 82.2,294.6 81.7,293.7 81.2,292.3 80.7,289.9 80.2,287.4 79.7,288.8 79.2,290.2 78.7,292.1 78.2,294.3 77.7,296.5 77.2,294.8 76.7,293.0 76.2,291.3 75.7,290.8 75.2,291.1 74.7,291.3 74.2,291.3 73.7,290.7 73.2,290.0 72.7,289.4 72.2,289.2 71.7,290.0 71.2,290.7 70.7,291.5 70.2,292.6 69.7,293.8 69.2,294.9 68.7,295.1 68.2,293.5 67.7,291.8 67.2,290.0 66.7,288.1 66.2,286.2 65.7,284.3 65.2,284.8 64.7,285.3 64.2,285.8 63.7,285.8 63.2,285.4 62.7,285.1 62.2,285.5 61.7,287.7 61.2,289.9 60.7,291.3 60.2,292.3 59.7,293.3 59.2,294.1 58.7,294.3 58.2,294.6 57.7,294.8 57.2,296.3 56.7,297.8 56.2,299.3 55.7,300.3 55.2,301.0 54.7,301.7 54.2,302.4 53.7,303.2 53.2,303.9 52.7,304.7 52.2,305.5 51.7,306.0 51.2,305.9 50.7,305.8 50.2,305.7 49.7,305.1 49.2,304.5 48.7,303.9 48.2,303.4 47.7,301.9 47.2,300.1 46.7,298.2 46.2,297.5 45.7,299.2 45.2,300.9 44.7,302.5 44.2,303.5 43.7,303.1 43.2,302.7 42.7,302.3 42.2,303.3 41.7,304.3 41.2,305.3 40.7,306.8 40.2,308.6 39.7,310.3 39.2,312.0 38.7,313.6 38.2,315.1 37.7,315.7 37.2,315.7 36.7,315.7"/>
<polygon fill="#691d44" points="36.7,315.7 37.2,315.7 37.7,315.7 38.2,315.1 38.7,313.6 39.2,312.0 39.7,310.3 40.2,308.6 40.7,306.8 41.2,305.3 41.7,304.3 42.2,303.3 42.7,302.3 43.2,302.7 43.7,303.1 44.2,303.5 44.7,302.5 45.2,300.9 45.7,299.2 46.2,297.5 46.7,298.2 47.2,300.1 47.7,301.9 48.2,303.4 48.7,303.9 49.2,304.5 49.7,305.1 50.2,305.7 50.7,305.8 51.2,305.9 51.7,306.0 52.2,305.5 52.7,304.7 53.2,303.9 53.7,303.2 54.2,302.4 54.7,301.7 55.2,301.0 55.7,300.3 56.2,299.3 56.7,297.8 57.2,296.3 57.7,294.8 58.2,294.6 58.7,294.3 59.2,294.1 59.7,293.3 60.2,292.3 60.7,291.3 61.2,289.9 61.7,287.7 62.2,285.5 62.7,285.1 63.2,285.4 63.7,285.8 64.2,285.8 64.7,285.3 65.2,284.8 65.7,284.3 66.2,286.2 66.7,288.1 67.2,290.0 67.7,291.8 68.2,293.5 68.7,295.1 69.2,294.9 69.7,293.8 70.2,292.6 70.7,291.5 71.2,290.7 71.7,290.0 72.2,289.2 72.7,289.4 73.2,290.0 73.7,290.7 74.2,291.3 74.7,291.3 75.2,291.1 75.7,290.8 76.2,291.3 76.7,293.0 77.2,294.8 77.7,296.5 78.2,294.3 78.7,292.1 79.2,290.2 79.7,288.8 80.2,287.4 80.7,289.9 81.2,292.3 81.7,293.7 82.2,294.6 82.7,295.4 83.2,295.4 83.7,293.7 84.2,292.1 84.7,291.3 85.2,291.1 85.7,290.8 86.2,290.6 86.7,290.6 87.2,290.5 87.7,290.4 88.2,290.0 88.7,288.8 89.2,287.7 89.7,286.4 90.2,285.0 90.7,283.6 91.2,281.9 91.7,279.8 92.2,277.6 92.7,275.4 93.2,274.6 93.7,276.3 94.2,278.1 94.7,279.8 95.2,279.8 95.7,279.8 96.2,279.8 96.7,279.8 97.2,279.8 97.7,279.7 98.2,279.6 98.7,279.6 99.2,279.5 99.7,279.4 100.2,279.3 100.7,280.5 101.2,281.6 101.7,282.8 102.2,283.3 102.7,283.6 103.2,283.8 103.7,285.0 104.2,287.8 104.7,286.6 105.2,283.6 105.7,280.7 106.2,281.5 106.7,282.3 107.2,283.2 107.7,284.0 108.2,283.9 108.7,283.8 109.2,283.7 109.7,283.4 110.2,283.1 110.7,282.8 111.2,282.4 111.7,283.4 112.2,284.9 112.7,286.5 113.2,284.9 113.7,283.4 114.2,282.1 114.7,281.3 115.2,280.6 115.7,279.8 116.2,279.5 116.7,279.2 117.2,279.0 117.7,278.7 118.2,279.0 118.7,279.4 119.2,279.7 119.7,279.4 120.2,278.8 120.7,278.2 121.2,277.5 121.7,276.7 122.2,275.7 122.7,274.7 123.2,273.7 123.7,272.7 124.2,271.8 124.7,272.7 125.2,274.4 125.7,276.2 126.2,277.8 126.7,279.0 127.2,280.3 127.7,281.5 128.2,281.0 128.7,280.5 129.2,280.0 129.7,279.4 130.2,278.8 130.7,278.2 131.2,279.2 131.7,280.3 132.2,279.8 132.7,278.6 133.2,277.3 133.7,276.2 134.2,275.1 134.7,274.0 135.2,273.5 135.7,273.0 136.2,272.5 136.7,272.0 137.2,271.5 137.7,271.0 138.2,270.5 138.7,269.9 139.2,269.3 139.7,268.7 140.2,268.2 140.7,268.4 141.2,268.7 141.7,268.9 142.2,268.6 142.7,268.0 143.2,267.5 143.7,266.9 144.2,267.1 144.7,268.8 145.2,270.6 145.7,272.3 146.2,273.1 146.7,273.8 147.2,274.6 147.7,273.9 148.2,272.4 148.7,270.9 149.2,269.5 149.7,269.1 150.2,269.3 150.7,269.6 151.2,269.8 151.7,269.2 152.2,268.2 152.7,267.2 153.2,266.2 153.7,265.2 154.2,264.2 154.7,263.3 155.2,262.3 155.7,262.8 156.2,263.3 156.7,263.8 157.2,263.4 157.7,262.4 158.2,261.4 158.7,260.5 159.2,260.3 159.7,261.5 160.2,262.8 160.7,264.0 161.2,264.5 161.7,263.5 162.2,262.5 162.7,261.5 163.2,262.1 163.7,262.8 164.2,263.3 164.7,263.6 165.2,263.9 165.7,265.7 166.2,268.2 166.7,269.2 167.2,267.5 167.7,265.7 168.2,264.0 168.7,264.3 169.2,264.5 169.7,264.8 170.2,264.3 170.7,263.6 171.2,262.8 171.7,262.2 172.2,261.7 172.7,261.2 173.2,260.7 173.7,262.1 174.2,263.5 174.7,263.8 175.2,263.5 175.7,263.2 176.2,262.9 176.7,262.7 177.2,262.4 177.7,262.8 178.2,263.6 178.7,264.3 179.2,265.1 179.7,265.7 180.2,266.4 180.7,267.0 181.2,266.6 181.7,266.2 182.2,265.8 182.7,265.2 183.2,264.4 183.7,263.7 184.2,263.1 184.7,262.8 185.2,262.6 185.7,262.3 186.2,261.9 186.7,261.5 187.2,261.1 187.7,260.9 188.2,260.8 188.7,260.7 189.2,261.0 189.7,262.0 190.2,263.0 190.7,264.0 191.2,263.7 191.7,263.5 192.2,263.2 192.7,263.7 193.2,264.4 193.7,265.2 194.2,265.8 194.7,266.3 195.2,266.8 195.7,266.3 196.2,265.3 196.7,264.3 197.2,263.4 197.7,262.4 198.2,261.5 198.7,262.0 199.2,262.5 199.7,263.0 200.2,262.8 200.7,262.2 201.2,261.6 201.7,261.3 202.2,261.5 202.7,261.8 203.2,262.0 203.7,262.6 204.2,263.2 204.7,263.8 205.2,264.3 205.7,264.8 206.2,265.3 206.7,265.9 207.2,266.6 207.7,267.4 208.2,270.7 208.7,274.0 209.2,276.9 209.7,279.7 210.2,281.3 210.7,282.3 211.2,283.3 211.7,284.1 212.2,284.5 212.7,284.8 213.2,284.5 213.7,284.1 214.2,283.8 214.7,282.7 215.2,281.3 215.7,279.8 216.2,278.3 216.7,276.7 217.2,276.0 217.7,277.1 218.2,278.2 218.7,276.7 219.2,275.3 219.7,273.8 220.2,272.2 220.7,270.7 221.2,269.1 221.7,267.5 222.2,265.9 222.7,264.1 223.2,262.3 223.7,262.0 224.2,261.6 224.7,262.1 225.2,263.1 225.7,264.0 226.2,265.3 226.7,266.5 227.2,267.9 227.7,269.7 228.2,271.5 228.7,271.1 229.2,270.8 229.7,271.7 230.2,273.3 230.7,274.8 231.2,276.4 231.7,278.0 232.2,279.3 232.7,280.3 233.2,281.3 233.7,282.3 234.2,280.9 234.7,279.5 235.2,277.8 235.7,276.0 236.2,274.4 236.7,273.2 237.2,273.1 237.7,275.2 238.2,277.3 238.7,276.3 239.2,275.2 239.7,274.0 240.2,272.7 240.7,271.5 241.2,271.2 241.7,270.9 242.2,270.8 242.7,271.0 243.2,271.3 243.7,271.5 244.2,271.5 244.7,271.5 245.2,272.6 245.7,276.0 246.2,279.4 246.7,283.2 247.2,286.1 247.7,287.4 248.2,288.7 248.7,287.4 249.2,286.1 249.7,285.6 250.2,285.5 250.7,285.3 251.2,286.7 251.7,288.1 252.2,289.2 252.7,290.0 253.2,290.7 253.7,290.4 254.2,290.2 254.7,289.9 255.2,289.6 255.7,289.2 256.2,288.9 256.7,288.6 257.2,288.5 257.7,288.3 258.2,288.2 258.7,288.9 259.2,289.6 259.7,290.7 260.2,291.9 260.7,293.2 261.2,292.9 261.7,292.7 262.2,292.4 262.7,292.3 263.2,292.2 263.7,292.1 264.2,292.5 264.7,293.9 265.2,295.0 265.7,295.6 266.2,296.1 266.7,296.4 267.2,296.7 267.7,296.5 268.2,296.1 268.7,295.7 269.2,294.7 269.7,293.7 270.2,291.4 270.7,290.0 271.2,289.0 271.7,288.0 272.2,287.2 272.7,286.7 273.2,286.2 273.7,285.7 274.2,285.9 274.7,286.2 275.2,286.4 275.7,285.8 276.2,284.8 276.7,283.8 277.2,283.0 277.7,282.7 278.2,282.3 278.7,282.0 279.2,282.4 279.7,282.7 280.2,283.1 280.7,282.7 281.2,282.0 281.7,281.4 282.2,281.0 282.7,280.7 283.2,282.2 283.7,283.8 284.2,284.6 284.7,283.8 285.2,283.1 285.7,282.3 286.2,281.6 286.7,280.8 287.2,280.1 287.7,280.5 288.2,281.5 288.7,282.5 289.2,283.6 289.7,284.8 290.2,286.1 290.7,286.5 291.2,286.5 291.7,286.5 292.2,286.9 292.7,288.2 293.2,289.4 293.7,290.1 294.2,290.4 294.7,290.6 295.2,290.3 295.7,290.1 296.2,289.8 296.7,291.6 297.2,293.4 297.7,294.8 298.2,296.1 298.7,297.3 299.2,297.0 299.7,296.7 300.2,296.2 300.7,295.2 301.2,294.2 301.7,293.2 302.2,293.2 302.7,293.2 303.2,293.2 303.7,293.0 304.2,292.7 304.7,292.5 305.2,292.4 305.7,292.7 306.2,292.9 306.7,293.2 307.2,293.9 307.7,294.6 308.2,294.6 308.7,294.3 309.2,294.0 309.7,294.7 310.2,295.4 310.7,296.5 311.2,297.8 311.7,299.0 312.2,301.2 312.7,303.3 313.2,304.7 313.7,305.8 314.2,306.9 314.7,308.2 315.2,309.4 315.7,310.5 316.2,311.5 316.7,312.5 317.2,313.6 317.7,314.8 318.2,316.1 318.7,316.7 319.2,317.1 319.7,317.7 320.2,318.8 320.7,319.8 321.2,320.7 321.7,321.5 322.2,322.0 322.7,322.5 323.2,323.0 323.7,323.1 324.2,322.9 324.7,322.8 325.2,322.6 325.7,322.5 326.2,322.4 326.7,322.3 327.2,322.6 327.7,322.8 328.2,323.1 328.7,322.8 329.2,322.3 329.7,321.8 330.2,322.0 330.7,323.4 331.2,324.8 331.7,323.8 332.2,322.7 332.7,322.2 333.2,321.9 333.7,321.7 334.2,321.3 334.7,320.7 335.2,320.0 335.7,319.2 336.2,318.3 336.7,317.3 337.2,316.3 337.7,315.2 338.2,313.9 338.7,312.4 339.2,311.4 339.7,311.1 340.2,310.8 340.7,311.1 341.2,311.7 341.7,312.3 342.2,312.2 342.7,312.1 343.2,312.0 343.7,312.2 344.2,312.6 344.7,312.9 345.2,312.9 345.7,312.2 346.2,311.5 346.7,312.6 347.2,313.7 347.7,314.4 348.2,315.0 348.7,315.7 349.2,316.6 349.7,317.5 350.2,318.4 350.7,319.1 351.2,319.8 351.7,320.9 352.2,322.0 352.7,322.2 353.2,321.9 353.7,321.7 354.2,321.2 354.7,320.4 355.2,319.5 355.7,318.7 356.2,319.1 356.7,319.5 357.2,320.0 357.7,320.5 358.2,321.0 358.7,321.5 359.2,321.2 359.7,321.0 360.2,320.7 360.7,320.5 361.2,320.1 361.7,319.8 362.2,319.1 362.7,318.4 363.2,318.6 363.7,319.4 364.2,319.5 364.7,318.4 365.2,317.3 365.7,316.5 366.2,315.6 366.7,314.8 367.2,314.6 367.7,314.3 368.2,314.1 368.7,314.1 369.2,314.2 369.7,314.3 370.2,314.2 370.7,313.7 371.2,313.2 371.7,312.7 372.2,312.1 372.7,311.5 373.2,310.9 373.7,311.2 374.2,312.1 374.7,312.7 375.2,312.9 375.7,313.0 376.2,313.2 376.7,313.4 377.2,313.7 377.7,313.9 378.2,313.7 378.7,313.3 379.2,312.9 379.7,312.5 380.2,312.2 380.7,311.8 381.2,311.5 381.7,312.0 382.2,312.5 382.7,313.0 383.2,312.9 383.7,312.6 384.2,312.2 384.7,311.7 385.2,310.8 385.7,309.8 386.2,308.3 386.7,306.7 387.2,305.1 387.7,303.6 388.2,302.0 388.7,302.7 389.2,304.5 389.7,306.2 390.2,307.6 390.7,309.0 391.2,309.8 391.7,310.5 392.2,310.7 392.7,310.0 393.2,309.2 393.7,309.7 394.2,310.8 394.7,311.4 395.2,311.0 395.7,310.7 396.2,312.2 396.7,313.8 397.2,315.2 397.7,316.2 398.2,317.2 398.7,318.2 399.2,319.2 399.7,319.3 400.2,317.9 400.7,316.5 401.2,315.6 401.7,314.6 402.2,313.8 402.7,313.3 403.2,312.8 403.7,312.3 404.2,312.1 404.7,311.8 405.2,311.6 405.7,311.3 406.2,310.9 406.7,310.6 407.2,310.6 407.7,311.5 408.2,312.3 408.7,313.2 409.2,313.8 409.7,314.5 410.2,315.1 410.7,315.8 411.2,316.6 411.7,317.3 412.2,317.1 412.7,316.8 413.2,316.6 413.7,316.8 414.2,317.3 414.7,317.8 415.2,318.5 415.7,319.5 416.2,320.5 416.7,321.5 417.2,322.6 417.7,323.7 418.2,323.8 418.7,323.4 419.2,323.0 419.7,322.6 420.2,321.5 420.7,319.0 421.2,316.5 421.7,316.9 422.2,318.7 422.7,320.4 423.2,322.2 423.7,324.0 424.2,324.6 424.7,325.3 425.2,325.8 425.7,326.0 426.2,326.3 426.7,326.5 427.2,325.7 427.7,325.0 428.2,324.2 428.7,324.1 429.2,324.2 429.7,324.3 430.2,323.9 430.7,322.5 431.2,321.1 431.7,320.7 432.2,320.7 432.7,320.7 433.2,320.1 433.7,318.3 434.2,316.6 434.7,314.8 435.2,313.8 435.7,312.7 436.2,311.8 436.7,311.1 437.2,310.3 437.7,309.6 438.2,308.9 438.7,308.2 439.2,307.3 439.7,306.5 440.2,305.7 440.7,305.0 441.2,304.2 441.7,304.2 442.2,304.6 442.7,305.2 443.2,306.3 443.7,307.3 444.2,307.8 444.7,308.3 445.2,308.5 445.7,308.0 446.2,307.5 446.7,307.4 447.2,307.6 447.7,307.5 448.2,307.0 448.7,306.5 449.2,306.2 449.7,305.9 450.2,305.7 450.7,305.7 451.2,305.7 451.7,306.9 452.2,308.7 452.7,310.0 453.2,310.3 453.7,310.7 454.2,309.4 454.7,308.2 455.2,306.1 455.7,302.5 456.2,298.9 456.7,297.5 457.2,297.2 457.7,297.2 458.2,297.7 458.7,298.2 459.2,296.9 459.7,295.7 460.2,297.1 460.7,298.5 461.2,298.9 461.7,298.8 462.2,298.5 462.7,297.8 463.2,297.2 463.7,296.9 464.2,296.7 464.7,296.5 465.2,296.9 465.7,297.2 466.2,298.8 466.7,300.9 467.2,303.3 467.7,306.1 468.2,308.9 468.7,309.4 469.2,308.8 469.7,308.2 470.2,307.1 470.7,306.0 471.2,304.2 471.7,302.1 472.2,300.3 472.7,299.2 473.2,298.0 473.7,297.9 474.2,298.3 474.7,298.7 475.2,298.6 475.7,297.3 476.2,296.1 476.7,294.9 477.2,293.9 477.7,292.9 478.2,292.2 478.7,291.5 479.2,290.9 479.7,290.2 480.2,289.9 480.7,290.1 481.2,290.3 481.7,291.4 482.2,293.0 482.7,295.0 483.2,298.0 483.7,300.1 484.2,301.6 484.7,303.2 485.2,303.5 485.7,303.9 486.2,305.2 486.7,307.0 487.2,308.7 487.7,310.4 488.2,311.7 488.7,312.5 489.2,313.2 489.7,313.5 490.2,313.9 490.7,314.5 491.2,315.3 491.7,316.0 492.2,316.8 492.7,317.6 493.2,318.3 493.7,318.6 494.2,319.0 494.7,317.9 495.2,316.8 495.7,316.9 496.2,317.5 496.7,318.2 497.2,318.2 497.7,318.2 498.2,318.0 498.7,317.7 499.2,317.3 499.7,317.0 500.2,317.5 500.7,318.0 501.2,318.6 501.7,319.4 502.2,320.0 502.7,320.7 503.2,321.3 503.7,320.9 504.2,319.9 504.7,319.0 505.2,318.6 505.7,318.3 506.2,318.3 506.7,318.5 507.2,318.7 507.7,318.8 508.2,319.0 508.7,318.9 509.2,318.8 509.7,318.7 510.2,317.9 510.7,317.2 511.2,315.9 511.7,314.3 512.2,312.6 512.7,311.1 513.2,309.5 513.7,308.4 514.2,307.4 514.7,306.5 515.2,306.9 515.7,307.2 516.2,307.4 516.7,307.6 517.2,307.5 517.7,307.1 518.2,306.6 518.7,306.3 519.2,306.0 519.7,305.7 520.2,304.9 520.7,304.2 521.2,304.2 521.7,304.6 522.2,304.6 522.7,303.7 523.2,303.5 523.7,304.6 524.2,305.7 524.7,304.2 525.2,302.8 525.7,301.9 526.2,301.3 526.7,300.7 527.2,301.3 527.7,301.9 528.2,302.2 528.7,301.9 529.2,301.5 529.7,301.0 530.2,300.5 530.7,300.8 531.2,301.6 531.7,302.3 532.2,303.0 532.7,303.6 533.2,304.2 533.7,305.0 534.2,305.7 534.7,304.9 535.2,304.2 535.7,304.2 536.2,304.5 536.7,304.8 537.2,305.1 537.7,305.3 538.2,305.6 538.7,306.0 539.2,306.5 539.7,307.0 540.2,307.9 540.7,309.4 541.2,311.0 541.7,310.3 542.2,308.5 542.7,306.7 543.2,304.9 543.7,303.2 544.2,301.6 544.7,300.0 545.2,299.4 545.7,300.7 546.2,302.3 546.7,304.8 547.2,306.8 547.7,307.7 548.2,308.1 548.7,307.5 549.2,306.9 549.7,306.4 550.2,306.1 550.7,305.6 551.2,304.9 551.7,304.2 552.2,303.9 552.7,303.5 553.2,303.5 553.7,304.0 554.2,304.5 554.7,305.2 555.2,306.1 555.7,306.5 556.2,306.2 556.7,305.8 557.2,305.2 557.7,304.6 558.2,304.1 558.7,303.7 559.2,303.4 559.7,304.1 560.2,305.1 560.7,306.1 561.2,306.8 561.7,307.5 562.2,308.1 562.7,308.8 563.2,309.4 563.7,310.1 564.2,310.8 564.7,311.8 565.2,312.7 565.7,313.7 566.2,314.8 566.7,315.8 567.2,316.1 567.7,316.5 568.2,316.3 568.7,315.1 569.2,313.8 569.7,312.5 570.2,312.2 570.7,311.9 571.2,311.4 571.7,310.5 572.2,309.7 572.7,309.1 573.2,308.5 573.7,307.9 574.2,307.3 574.7,306.7 575.2,306.3 575.7,306.0 576.2,306.0 576.7,306.1 577.2,306.3 577.7,306.1 578.2,305.9 578.7,305.2 579.2,304.3 579.7,303.3 580.2,304.8 580.7,306.2 581.2,305.8 581.7,304.6 582.2,303.3 582.7,302.3 583.2,301.2 583.7,300.6 584.2,300.3 584.7,300.0 585.2,299.1 585.7,298.1 586.2,297.0 586.7,295.6 587.2,294.2 587.7,293.1 588.2,292.0 588.7,291.2 589.2,290.6 589.7,290.0 590.2,289.4 590.7,288.7 591.2,288.1 591.7,287.4 592.2,286.7 592.7,287.0 593.2,287.4 593.7,287.6 594.2,287.8 594.7,288.0 595.2,288.6 595.7,289.3 596.2,289.8 596.7,290.0 597.2,290.3 597.7,290.9 598.2,291.5 598.7,292.0 599.2,292.5 599.7,293.0 600.2,293.4 600.7,293.9 601.2,294.3 601.7,294.8 602.2,295.3 602.7,295.2 603.2,295.0 603.7,295.4 604.2,296.0 604.7,296.7 605.2,297.7 605.7,297.7 606.2,295.7 606.7,294.7 607.2,294.3 607.7,294.4 608.2,294.9 608.7,295.2 609.2,295.5 609.7,295.8 610.2,295.4 610.7,295.0 611.2,294.8 611.7,295.0 612.2,295.3 612.7,295.0 613.2,294.8 613.7,294.4 614.2,294.0 614.7,293.7 615.2,293.9 615.7,294.0 616.2,293.9 616.7,293.0 617.2,294.0 617.7,295.0 618.2,296.1 618.7,297.1 619.2,298.0 619.7,298.7 620.2,299.4 620.7,300.0 621.2,300.6 621.7,301.0 622.2,301.4 622.7,301.7 623.2,302.0 623.7,302.4 624.2,303.0 624.7,303.7 625.2,304.5 625.7,305.4 626.2,306.4 626.7,307.3 627.2,308.2 627.7,309.2 628.2,310.4 628.7,311.6 629.2,312.4 629.7,313.0 630.2,313.1 630.7,312.5 631.2,311.9 631.7,311.6 632.2,311.5 632.7,311.3 633.2,310.9 633.7,310.5 634.2,310.2 634.7,310.1 635.2,309.9 635.7,309.6 636.2,309.3 636.7,309.0 637.2,308.6 637.7,308.3 638.2,308.0 638.7,307.6 639.2,307.0 639.7,306.3 640.2,305.8 640.7,305.8 641.2,305.7 641.7,305.2 642.2,304.7 642.7,304.2 643.2,303.8 643.7,303.8 644.2,304.0 644.7,304.2 645.2,304.9 645.7,305.6 646.2,306.3 646.7,306.9 647.2,307.5 647.7,307.9 648.2,308.2 648.7,308.8 649.2,309.6 649.7,310.3 650.2,311.2 650.7,312.0 651.2,312.7 651.7,313.5 652.2,314.2 652.7,314.5 653.2,314.9 653.7,315.6 654.2,316.6 654.7,317.5 655.2,318.4 655.7,319.4 656.2,319.8 656.7,319.0 657.2,318.3 657.7,319.1 658.2,319.8 658.7,320.2 659.2,320.5 659.7,320.8 660.2,319.8 660.7,318.7 661.2,317.7 661.7,316.8 662.2,315.8 662.7,314.8 663.2,313.7 663.7,312.7 664.2,311.8 664.7,310.8 665.2,309.6 665.7,308.3 666.2,307.4 666.7,307.0 667.2,306.7 667.2,387.5 666.7,387.5 666.2,387.6 665.7,388.0 665.2,388.3 664.7,388.7 664.2,388.8 663.7,389.0 663.2,389.1 662.7,389.3 662.2,389.4 661.7,389.6 661.2,389.8 660.7,390.1 660.2,390.5 659.7,390.8 659.2,391.1 658.7,391.3 658.2,391.6 657.7,391.7 657.2,391.8 656.7,391.9 656.2,391.9 655.7,391.7 655.2,391.5 654.7,391.3 654.2,391.2 653.7,391.0 653.2,390.9 652.7,390.7 652.2,390.4 651.7,390.2 651.2,390.0 650.7,389.9 650.2,389.8 649.7,389.7 649.2,389.4 648.7,389.1 648.2,388.8 647.7,388.8 647.2,388.9 646.7,389.1 646.2,389.1 645.7,389.0 645.2,388.8 644.7,388.7 644.2,388.5 643.7,388.3 643.2,388.1 642.7,388.1 642.2,388.2 641.7,388.3 641.2,388.4 640.7,388.7 640.2,388.9 639.7,389.2 639.2,389.3 638.7,389.5 638.2,389.6 637.7,389.5 637.2,389.2 636.7,388.9 636.2,388.6 635.7,388.5 635.2,388.4 634.7,388.3 634.2,388.6 633.7,388.8 633.2,389.1 632.7,389.3 632.2,389.4 631.7,389.6 631.2,389.7 630.7,389.9 630.2,390.1 629.7,390.3 629.2,390.2 628.7,390.1 628.2,390.0 627.7,389.8 627.2,389.6 626.7,389.3 626.2,389.1 625.7,389.0 625.2,388.8 624.7,388.7 624.2,389.0 623.7,389.3 623.2,389.6 622.7,389.6 622.2,389.4 621.7,389.3 621.2,389.1 620.7,389.0 620.2,388.8 619.7,388.7 619.2,388.5 618.7,388.3 618.2,388.1 617.7,387.9 617.2,387.8 616.7,387.6 616.2,387.6 615.7,387.8 615.2,388.1 614.7,388.3 614.2,388.1 613.7,387.8 613.2,387.6 612.7,387.3 612.2,386.9 611.7,386.6 611.2,386.4 610.7,386.5 610.2,386.6 609.7,386.7 609.2,386.6 608.7,386.5 608.2,386.4 607.7,386.4 607.2,386.5 606.7,386.6 606.2,386.7 605.7,386.8 605.2,386.9 604.7,387.0 604.2,387.1 603.7,387.3 603.2,387.4 602.7,387.6 602.2,387.7 601.7,387.9 601.2,388.0 600.7,388.1 600.2,388.2 599.7,388.3 599.2,388.4 598.7,388.5 598.2,388.6 597.7,388.5 597.2,388.3 596.7,388.1 596.2,388.0 595.7,387.8 595.2,387.7 594.7,387.5 594.2,387.4 593.7,387.2 593.2,387.1 592.7,386.9 592.2,386.8 591.7,386.7 591.2,386.7 590.7,387.0 590.2,387.2 589.7,387.5 589.2,387.3 588.7,387.0 588.2,386.8 587.7,386.8 587.2,387.1 586.7,387.3 586.2,387.5 585.7,387.7 585.2,387.8 584.7,388.0 584.2,387.7 583.7,387.4 583.2,387.1 582.7,387.1 582.2,387.2 581.7,387.4 581.2,387.5 580.7,387.3 580.2,387.2 579.7,387.0 579.2,386.8 578.7,386.6 578.2,386.4 577.7,386.2 577.2,386.1 576.7,385.9 576.2,385.8 575.7,385.5 575.2,385.3 574.7,385.0 574.2,384.8 573.7,384.5 573.2,384.3 572.7,384.4 572.2,384.7 571.7,385.1 571.2,385.3 570.7,385.2 570.2,385.1 569.7,385.0 569.2,385.2 568.7,385.5 568.2,385.7 567.7,385.8 567.2,385.8 566.7,385.8 566.2,385.9 565.7,386.2 565.2,386.4 564.7,386.7 564.2,386.9 563.7,387.2 563.2,387.4 562.7,387.4 562.2,387.3 561.7,387.1 561.2,386.9 560.7,386.7 560.2,386.5 559.7,386.3 559.2,386.2 558.7,386.0 558.2,385.9 557.7,386.0 557.2,386.2 556.7,386.5 556.2,386.6 555.7,386.3 555.2,386.1 554.7,385.8 554.2,385.3 553.7,384.8 553.2,384.3 552.7,384.3 552.2,384.6 551.7,384.8 551.2,385.0 550.7,384.9 550.2,384.8 549.7,384.7 549.2,384.8 548.7,384.9 548.2,385.0 547.7,384.7 547.2,384.2 546.7,383.7 546.2,383.3 545.7,383.0 545.2,382.8 544.7,382.5 544.2,382.7 543.7,383.0 543.2,383.2 542.7,383.3 542.2,383.2 541.7,383.1 541.2,383.0 540.7,383.1 540.2,383.2 539.7,383.3 539.2,383.4 538.7,383.5 538.2,383.6 537.7,383.8 537.2,383.9 536.7,384.1 536.2,384.2 535.7,384.5 535.2,384.7 534.7,385.0 534.2,385.1 533.7,385.2 533.2,385.3 532.7,385.1 532.2,384.8 531.7,384.4 531.2,384.1 530.7,383.8 530.2,383.6 529.7,383.3 529.2,383.1 528.7,382.8 528.2,382.6 527.7,382.3 527.2,381.9 526.7,381.6 526.2,381.4 525.7,381.5 525.2,381.6 524.7,381.7 524.2,381.7 523.7,381.7 523.2,381.7 522.7,381.7 522.2,381.8 521.7,381.9 521.2,382.0 520.7,382.2 520.2,382.3 519.7,382.5 519.2,382.7 518.7,383.0 518.2,383.2 517.7,383.4 517.2,383.5 516.7,383.6 516.2,383.7 515.7,383.9 515.2,384.0 514.7,384.2 514.2,384.0 513.7,383.9 513.2,383.7 512.7,383.6 512.2,383.5 511.7,383.4 511.2,383.4 510.7,383.7 510.2,383.9 509.7,384.2 509.2,384.0 508.7,383.9 508.2,383.7 507.7,383.6 507.2,383.5 506.7,383.4 506.2,383.3 505.7,383.0 505.2,382.8 504.7,382.5 504.2,382.6 503.7,382.8 503.2,382.9 502.7,382.8 502.2,382.5 501.7,382.2 501.2,382.0 500.7,382.2 500.2,382.3 499.7,382.5 499.2,382.6 498.7,382.8 498.2,382.9 497.7,382.9 497.2,382.8 496.7,382.6 496.2,382.5 495.7,382.7 495.2,382.8 494.7,383.0 494.2,382.9 493.7,382.7 493.2,382.6 492.7,382.6 492.2,382.7 491.7,382.9 491.2,382.9 490.7,382.6 490.2,382.3 489.7,382.0 489.2,382.1 488.7,382.3 488.2,382.4 487.7,382.3 487.2,382.1 486.7,381.8 486.2,381.8 485.7,382.2 485.2,382.6 484.7,383.0 484.2,382.7 483.7,382.4 483.2,382.1 482.7,381.8 482.2,381.4 481.7,381.1 481.2,380.8 480.7,380.5 480.2,380.3 479.7,380.0 479.2,379.6 478.7,379.2 478.2,378.8 477.7,378.6 477.2,378.5 476.7,378.4 476.2,378.4 475.7,378.5 475.2,378.6 474.7,378.7 474.2,378.6 473.7,378.5 473.2,378.4 472.7,378.6 472.2,379.0 471.7,379.4 471.2,379.9 470.7,380.5 470.2,381.1 469.7,381.7 469.2,381.3 468.7,380.9 468.2,380.5 467.7,380.2 467.2,380.0 466.7,379.8 466.2,379.6 465.7,379.3 465.2,379.0 464.7,378.7 464.2,378.7 463.7,378.7 463.2,378.7 462.7,378.6 462.2,378.5 461.7,378.4 461.2,378.4 460.7,378.5 460.2,378.6 459.7,378.7 459.2,378.3 458.7,378.0 458.2,377.6 457.7,377.8 457.2,378.2 456.7,378.7 456.2,379.2 455.7,379.7 455.2,380.2 454.7,380.5 454.2,380.8 453.7,381.1 453.2,381.3 452.7,381.1 452.2,381.0 451.7,380.8 451.2,380.5 450.7,380.1 450.2,379.8 449.7,379.5 449.2,379.2 448.7,378.9 448.2,378.7 447.7,378.9 447.2,379.0 446.7,379.2 446.2,379.4 445.7,379.7 445.2,379.9 444.7,380.2 444.2,380.4 443.7,380.7 443.2,380.9 442.7,381.0 442.2,381.2 441.7,381.3 441.2,381.5 440.7,381.7 440.2,381.9 439.7,382.4 439.2,383.1 438.7,383.7 438.2,384.1 437.7,384.0 437.2,383.8 436.7,383.7 436.2,383.7 435.7,383.7 435.2,383.7 434.7,383.9 434.2,384.2 433.7,384.5 433.2,384.6 432.7,384.5 432.2,384.3 431.7,384.2 431.2,383.8 430.7,383.5 430.2,383.1 429.7,382.9 429.2,382.8 428.7,382.6 428.2,382.6 427.7,382.8 427.2,383.1 426.7,383.3 426.2,383.7 425.7,384.1 425.2,384.5 424.7,384.5 424.2,384.2 423.7,383.9 423.2,383.6 422.7,383.2 422.2,382.9 421.7,382.5 421.2,382.6 420.7,382.8 420.2,382.9 419.7,383.0 419.2,383.0 418.7,383.0 418.2,383.0 417.7,382.9 417.2,382.6 416.7,382.3 416.2,382.0 415.7,381.7 415.2,381.3 414.7,381.0 414.2,380.9 413.7,381.1 413.2,381.2 412.7,381.4 412.2,381.8 411.7,382.1 411.2,382.5 410.7,382.8 410.2,383.2 409.7,383.5 409.2,383.8 408.7,383.9 408.2,384.1 407.7,384.2 407.2,384.2 406.7,384.2 406.2,384.2 405.7,384.3 405.2,384.5 404.7,384.6 404.2,384.5 403.7,384.2 403.2,383.9 402.7,383.7 402.2,383.9 401.7,384.0 401.2,384.2 400.7,384.0 400.2,383.9 399.7,383.7 399.2,383.4 398.7,383.1 398.2,382.7 397.7,382.4 397.2,382.0 396.7,381.7 396.2,381.3 395.7,381.7 395.2,382.0 394.7,382.4 394.2,382.4 393.7,382.3 393.2,382.1 392.7,382.1 392.2,382.4 391.7,382.7 391.2,383.0 390.7,382.7 390.2,382.4 389.7,382.1 389.2,381.7 388.7,381.2 388.2,380.7 387.7,380.4 387.2,380.5 386.7,380.7 386.2,380.8 385.7,381.0 385.2,381.1 384.7,381.3 384.2,380.5 383.7,379.2 383.2,378.3 382.7,378.2 382.2,378.0 381.7,377.9 381.2,377.8 380.7,377.6 380.2,377.5 379.7,377.7 379.2,377.8 378.7,378.0 378.2,377.9 377.7,377.7 377.2,377.6 376.7,377.7 376.2,377.9 375.7,378.2 375.2,378.4 374.7,378.7 374.2,378.9 373.7,379.2 373.2,379.7 372.7,380.2 372.2,380.7 371.7,381.3 371.2,382.1 370.7,382.8 370.2,383.3 369.7,383.2 369.2,383.1 368.7,383.0 368.2,383.1 367.7,383.2 367.2,383.3 366.7,383.3 366.2,383.3 365.7,383.3 365.2,383.4 364.7,383.5 364.2,383.6 363.7,383.7 363.2,383.8 362.7,384.0 362.2,384.1 361.7,384.4 361.2,384.7 360.7,385.1 360.2,385.3 359.7,385.2 359.2,385.1 358.7,385.0 358.2,384.8 357.7,384.5 357.2,384.3 356.7,384.1 356.2,383.9 355.7,383.8 355.2,383.8 354.7,384.1 354.2,384.4 353.7,384.7 353.2,384.3 352.7,383.9 352.2,383.5 351.7,383.0 351.2,382.5 350.7,382.0 350.2,381.5 349.7,380.9 349.2,380.3 348.7,379.7 348.2,379.2 347.7,378.7 347.2,378.2 346.7,378.1 346.2,378.2 345.7,378.3 345.2,378.1 344.7,377.5 344.2,376.9 343.7,376.3 343.2,376.4 342.7,376.5 342.2,376.6 341.7,376.7 341.2,376.8 340.7,376.9 340.2,377.1 339.7,377.4 339.2,377.7 338.7,378.0 338.2,378.2 337.7,378.4 337.2,378.6 336.7,378.9 336.2,379.2 335.7,379.5 335.2,379.7 334.7,379.8 334.2,379.9 333.7,380.0 333.2,380.4 332.7,380.8 332.2,381.2 331.7,381.6 331.2,381.9 330.7,382.3 330.2,382.4 329.7,382.2 329.2,381.9 328.7,381.7 328.2,381.8 327.7,381.9 327.2,382.0 326.7,381.8 326.2,381.4 325.7,381.1 325.2,380.7 324.7,380.4 324.2,380.0 323.7,379.7 323.2,380.0 322.7,380.4 322.2,380.7 321.7,380.7 321.2,380.4 320.7,380.2 320.2,379.9 319.7,379.7 319.2,379.4 318.7,379.2 318.2,379.0 317.7,378.9 317.2,378.7 316.7,378.6 316.2,378.5 315.7,378.4 315.2,378.4 314.7,378.5 314.2,378.6 313.7,378.7 313.2,378.6 312.7,378.5 312.2,378.4 311.7,378.4 311.2,378.5 310.7,378.6 310.2,378.8 309.7,379.1 309.2,379.4 308.7,379.7 308.2,380.0 307.7,380.4 307.2,380.7 306.7,380.8 306.2,380.8 305.7,380.8 305.2,380.9 304.7,381.3 304.2,381.6 303.7,382.0 303.2,382.4 302.7,382.8 302.2,383.2 301.7,383.2 301.2,382.9 300.7,382.7 300.2,382.4 299.7,382.2 299.2,381.9 298.7,381.7 298.2,380.9 297.7,380.2 297.2,379.4 296.7,378.5 296.2,377.5 295.7,376.5 295.2,375.8 294.7,375.6 294.2,375.5 293.7,375.3 293.2,375.0 292.7,374.6 292.2,374.3 291.7,374.2 291.2,374.4 290.7,374.5 290.2,374.6 289.7,374.7 289.2,374.7 288.7,374.7 288.2,374.7 287.7,374.7 287.2,374.8 286.7,375.1 286.2,375.5 285.7,375.8 285.2,376.5 284.7,377.1 284.2,377.8 283.7,377.9 283.2,377.8 282.7,377.6 282.2,377.6 281.7,378.0 281.2,378.3 280.7,378.7 280.2,378.6 279.7,378.5 279.2,378.4 278.7,378.3 278.2,378.3 277.7,378.3 277.2,378.3 276.7,378.2 276.2,378.1 275.7,378.0 275.2,378.1 274.7,378.2 274.2,378.3 273.7,378.3 273.2,378.3 272.7,378.3 272.2,378.4 271.7,378.7 271.2,378.9 270.7,379.2 270.2,379.3 269.7,379.5 269.2,379.6 268.7,379.1 268.2,378.3 267.7,377.5 267.2,377.7 266.7,377.9 266.2,378.1 265.7,378.2 265.2,378.3 264.7,378.5 264.2,378.9 263.7,379.3 263.2,379.7 262.7,379.4 262.2,379.1 261.7,378.8 261.2,378.4 260.7,378.1 260.2,377.7 259.7,377.3 259.2,376.6 258.7,376.0 258.2,375.3 257.7,375.5 257.2,375.8 256.7,376.1 256.2,376.4 255.7,376.8 255.2,377.0 254.7,377.2 254.2,377.3 253.7,377.5 253.2,377.8 252.7,378.2 252.2,378.5 251.7,378.4 251.2,378.1 250.7,377.7 250.2,377.6 249.7,377.8 249.2,378.1 248.7,378.3 248.2,378.7 247.7,379.1 247.2,379.5 246.7,379.4 246.2,379.0 245.7,378.7 245.2,378.3 244.7,378.0 244.2,377.6 243.7,377.3 243.2,377.1 242.7,376.8 242.2,376.3 241.7,375.2 241.2,374.0 240.7,373.8 240.2,374.0 239.7,374.4 239.2,375.0 238.7,375.7 238.2,376.3 237.7,376.2 237.2,376.0 236.7,375.9 236.2,376.2 235.7,376.7 235.2,377.2 234.7,377.6 234.2,378.0 233.7,378.3 233.2,378.7 232.7,378.6 232.2,378.5 231.7,378.4 231.2,378.5 230.7,378.7 230.2,379.0 229.7,379.2 229.2,379.4 228.7,379.5 228.2,379.7 227.7,379.0 227.2,378.4 226.7,377.7 226.2,377.3 225.7,377.1 225.2,376.8 224.7,376.5 224.2,376.1 223.7,375.7 223.2,375.3 222.7,375.5 222.2,375.6 221.7,375.8 221.2,376.0 220.7,376.2 220.2,376.5 219.7,376.6 219.2,376.3 218.7,376.1 218.2,375.8 217.7,375.2 217.2,374.5 216.7,373.9 216.2,374.0 215.7,374.5 215.2,375.0 214.7,375.4 214.2,375.7 213.7,376.0 213.2,376.3 212.7,376.5 212.2,376.7 211.7,376.9 211.2,376.8 210.7,376.4 210.2,376.1 209.7,375.7 209.2,375.4 208.7,375.0 208.2,374.7 207.7,375.0 207.2,375.4 206.7,375.7 206.2,375.9 205.7,376.1 205.2,376.2 204.7,376.2 204.2,375.7 203.7,375.2 203.2,374.7 202.7,374.3 202.2,373.9 201.7,373.5 201.2,373.3 200.7,373.3 200.2,373.3 199.7,373.3 199.2,373.0 198.7,372.8 198.2,372.5 197.7,372.6 197.2,372.8 196.7,372.9 196.2,372.7 195.7,372.2 195.2,371.7 194.7,371.4 194.2,371.8 193.7,372.1 193.2,372.5 192.7,373.2 192.2,374.0 191.7,374.7 191.2,375.2 190.7,375.4 190.2,375.7 189.7,376.0 189.2,376.5 188.7,377.0 188.2,377.5 187.7,377.7 187.2,378.0 186.7,378.2 186.2,378.3 185.7,378.3 185.2,378.3 184.7,378.5 184.2,378.9 183.7,379.3 183.2,379.7 182.7,379.3 182.2,378.9 181.7,378.5 181.2,378.6 180.7,379.0 180.2,379.4 179.7,379.6 179.2,379.5 178.7,379.3 178.2,379.2 177.7,378.4 177.2,377.7 176.7,376.9 176.2,377.0 175.7,377.5 175.2,378.0 174.7,378.5 174.2,379.0 173.7,379.3 173.2,379.6 172.7,379.8 172.2,380.2 171.7,380.7 171.2,381.2 170.7,381.7 170.2,381.4 169.7,381.2 169.2,380.9 168.7,381.0 168.2,381.2 167.7,381.5 167.2,381.8 166.7,382.2 166.2,382.6 165.7,383.0 165.2,382.9 164.7,382.7 164.2,382.6 163.7,382.4 163.2,382.2 162.7,382.0 162.2,381.8 161.7,381.5 161.2,381.1 160.7,380.7 160.2,380.3 159.7,380.1 159.2,379.9 158.7,379.6 158.2,379.4 157.7,379.2 157.2,378.5 156.7,377.9 156.2,377.2 155.7,376.7 155.2,376.2 154.7,375.7 154.2,375.4 153.7,375.5 153.2,375.6 152.7,375.7 152.2,375.8 151.7,375.9 151.2,376.3 150.7,376.6 150.2,377.0 149.7,376.8 149.2,376.6 148.7,376.4 148.2,376.5 147.7,376.7 147.2,376.9 146.7,377.2 146.2,377.7 145.7,378.2 145.2,378.7 144.7,379.1 144.2,379.5 143.7,379.9 143.2,379.8 142.7,379.4 142.2,379.1 141.7,378.8 141.2,378.4 140.7,378.1 140.2,377.7 139.7,377.3 139.2,377.1 138.7,377.4 138.2,377.7 137.7,378.0 137.2,377.6 136.7,377.2 136.2,376.8 135.7,376.9 135.2,377.3 134.7,377.7 134.2,377.9 133.7,377.5 133.2,377.1 132.7,376.7 132.2,376.8 131.7,377.0 131.2,377.1 130.7,377.5 130.2,377.9 129.7,378.4 129.2,378.8 128.7,379.1 128.2,379.4 127.7,379.7 127.2,379.4 126.7,379.1 126.2,378.8 125.7,378.3 125.2,377.8 124.7,377.3 124.2,377.1 123.7,377.3 123.2,377.5 122.7,377.7 122.2,378.0 121.7,378.3 121.2,378.6 120.7,378.8 120.2,378.9 119.7,379.1 119.2,379.3 118.7,379.4 118.2,379.5 117.7,379.5 117.2,379.5 116.7,379.5 116.2,379.5 115.7,379.8 115.2,380.2 114.7,380.6 114.2,381.0 113.7,381.5 113.2,382.0 112.7,382.5 112.2,382.3 111.7,382.0 111.2,381.8 110.7,381.8 110.2,382.0 109.7,382.2 109.2,382.3 108.7,382.2 108.2,382.2 107.7,382.1 107.2,382.0 106.7,382.1 106.2,382.3 105.7,382.5 105.2,382.7 104.7,382.9 104.2,383.0 103.7,383.2 103.2,383.3 102.7,383.4 102.2,383.6 101.7,383.7 101.2,383.7 100.7,383.7 100.2,383.8 99.7,383.8 99.2,383.9 98.7,384.0 98.2,384.1 97.7,384.2 97.2,384.3 96.7,384.4 96.2,384.4 95.7,384.5 95.2,384.6 94.7,384.6 94.2,384.7 93.7,384.8 93.2,384.8 92.7,384.9 92.2,385.0 91.7,385.1 91.2,385.2 90.7,385.4 90.2,385.6 89.7,385.7 89.2,385.9 88.7,386.2 88.2,386.5 87.7,386.7 87.2,387.0 86.7,387.0 86.2,386.7 85.7,386.3 85.2,385.9 84.7,385.6 84.2,385.4 83.7,385.4 83.2,385.5 82.7,385.6 82.2,385.6 81.7,385.6 81.2,385.6 80.7,385.5 80.2,385.4 79.7,385.4 79.2,385.4 78.7,385.7 78.2,386.0 77.7,386.2 77.2,386.5 76.7,386.7 76.2,386.9 75.7,387.1 75.2,387.2 74.7,387.4 74.2,387.5 73.7,387.6 73.2,387.7 72.7,387.8 72.2,387.9 71.7,388.0 71.2,387.9 70.7,387.8 70.2,387.8 69.7,387.7 69.2,387.7 68.7,387.8 68.2,388.0 67.7,388.1 67.2,388.2 66.7,388.3 66.2,388.0 65.7,387.8 65.2,387.5 64.7,387.5 64.2,387.6 63.7,387.6 63.2,387.7 62.7,387.8 62.2,387.8 61.7,387.9 61.2,388.0 60.7,388.0 60.2,388.0 59.7,388.0 59.2,388.0 58.7,388.0 58.2,387.9 57.7,387.8 57.2,387.6 56.7,387.5 56.2,387.4 55.7,387.5 55.2,387.7 54.7,387.9 54.2,388.1 53.7,388.3 53.2,388.5 52.7,388.8 52.2,389.0 51.7,389.3 51.2,389.6 50.7,389.6 50.2,389.4 49.7,389.2 49.2,389.1 48.7,388.9 48.2,388.9 47.7,389.0 47.2,389.1 46.7,389.2 46.2,389.3 45.7,389.2 45.2,389.1 44.7,389.0 44.2,388.8 43.7,388.7 43.2,388.6 42.7,388.6 42.2,388.5 41.7,388.4 41.2,388.4 40.7,388.4 40.2,388.4 39.7,388.5 39.2,388.6 38.7,388.6 38.2,388.9 37.7,389.3 37.2,389.6 36.7,390.0"/>
<polygon fill="#331d72" points="36.7,390.0 37.2,389.6 37.7,389.3 38.2,388.9 38.7,388.6 39.2,388.6 39.7,388.5 40.2,388.4 40.7,388.4 41.2,388.4 41.7,388.4 42.2,388.5 42.7,388.6 43.2,388.6 43.7,388.7 44.2,388.8 44.7,389.0 45.2,389.1 45.7,389.2 46.2,389.3 46.7,389.2 47.2,389.1 47.7,389.0 48.2,388.9 48.7,388.9 49.2,389.1 49.7,389.2 50.2,389.4 50.7,389.6 51.2,389.6 51.7,389.3 52.2,389.0 52.7,388.8 53.2,388.5 53.7,388.3 54.2,388.1 54.7,387.9 55.2,387.7 55.7,387.5 56.2,387.4 56.7,387.5 57.2,387.6 57.7,387.8 58.2,387.9 58.7,388.0 59.2,388.0 59.7,388.0 60.2,388.0 60.7,388.0 61.2,388.0 61.7,387.9 62.2,387.8 62.7,387.8 63.2,387.7 63.7,387.6 64.2,387.6 64.7,387.5 65.2,387.5 65.7,387.8 66.2,388.0 66.7,388.3 67.2,388.2 67.7,388.1 68.2,388.0 68.7,387.8 69.2,387.7 69.7,387.7 70.2,387.8 70.7,387.8 71.2,387.9 71.7,388.0 72.2,387.9 72.7,387.8 73.2,387.7 73.7,387.6 74.2,387.5 74.7,387.4 75.2,387.2 75.7,387.1 76.2,386.9 76.7,386.7 77.2,386.5 77.7,386.2 78.2,386.0 78.7,385.7 79.2,385.4 79.7,385.4 80.2,385.4 80.7,385.5 81.2,385.6 81.7,385.6 82.2,385.6 82.7,385.6 83.2,385.5 83.7,385.4 84.2,385.4 84.7,385.6 85.2,385.9 85.7,386.3 86.2,386.7 86.7,387.0 87.2,387.0 87.7,386.7 88.2,386.5 88.7,386.2 89.2,385.9 89.7,385.7 90.2,385.6 90.7,385.4 91.2,385.2 91.7,385.1 92.2,385.0 92.7,384.9 93.2,384.8 93.7,384.8 94.2,384.7 94.7,384.6 95.2,384.6 95.7,384.5 96.2,384.4 96.7,384.4 97.2,384.3 97.7,384.2 98.2,384.1 98.7,384.0 99.2,383.9 99.7,383.8 100.2,383.8 100.7,383.7 101.2,383.7 101.7,383.7 102.2,383.6 102.7,383.4 103.2,383.3 103.7,383.2 104.2,383.0 104.7,382.9 105.2,382.7 105.7,382.5 106.2,382.3 106.7,382.1 107.2,382.0 107.7,382.1 108.2,382.2 108.7,382.2 109.2,382.3 109.7,382.2 110.2,382.0 110.7,381.8 111.2,381.8 111.7,382.0 112.2,382.3 112.7,382.5 113.2,382.0 113.7,381.5 114.2,381.0 114.7,380.6 115.2,380.2 115.7,379.8 116.2,379.5 116.7,379.5 117.2,379.5 117.7,379.5 118.2,379.5 118.7,379.4 119.2,379.3 119.7,379.1 120.2,378.9 120.7,378.8 121.2,378.6 121.7,378.3 122.2,378.0 122.7,377.7 123.2,377.5 123.7,377.3 124.2,377.1 124.7,377.3 125.2,377.8 125.7,378.3 126.2,378.8 126.7,379.1 127.2,379.4 127.7,379.7 128.2,379.4 128.7,379.1 129.2,378.8 129.7,378.4 130.2,377.9 130.7,377.5 131.2,377.1 131.7,377.0 132.2,376.8 132.7,376.7 133.2,377.1 133.7,377.5 134.2,377.9 134.7,377.7 135.2,377.3 135.7,376.9 136.2,376.8 136.7,377.2 137.2,377.6 137.7,378.0 138.2,377.7 138.7,377.4 139.2,377.1 139.7,377.3 140.2,377.7 140.7,378.1 141.2,378.4 141.7,378.8 142.2,379.1 142.7,379.4 143.2,379.8 143.7,379.9 144.2,379.5 144.7,379.1 145.2,378.7 145.7,378.2 146.2,377.7 146.7,377.2 147.2,376.9 147.7,376.7 148.2,376.5 148.7,376.4 149.2,376.6 149.7,376.8 150.2,377.0 150.7,376.6 151.2,376.3 151.7,375.9 152.2,375.8 152.7,375.7 153.2,375.6 153.7,375.5 154.2,375.4 154.7,375.7 155.2,376.2 155.7,376.7 156.2,377.2 156.7,377.9 157.2,378.5 157.7,379.2 158.2,379.4 158.7,379.6 159.2,379.9 159.7,380.1 160.2,380.3 160.7,380.7 161.2,381.1 161.7,381.5 162.2,381.8 162.7,382.0 163.2,382.2 163.7,382.4 164.2,382.6 164.7,382.7 165.2,382.9 165.7,383.0 166.2,382.6 166.7,382.2 167.2,381.8 167.7,381.5 168.2,381.2 168.7,381.0 169.2,380.9 169.7,381.2 170.2,381.4 170.7,381.7 171.2,381.2 171.7,380.7 172.2,380.2 172.7,379.8 173.2,379.6 173.7,379.3 174.2,379.0 174.7,378.5 175.2,378.0 175.7,377.5 176.2,377.0 176.7,376.9 177.2,377.7 177.7,378.4 178.2,379.2 178.7,379.3 179.2,379.5 179.7,379.6 180.2,379.4 180.7,379.0 181.2,378.6 181.7,378.5 182.2,378.9 182.7,379.3 183.2,379.7 183.7,379.3 184.2,378.9 184.7,378.5 185.2,378.3 185.7,378.3 186.2,378.3 186.7,378.2 187.2,378.0 187.7,377.7 188.2,377.5 188.7,377.0 189.2,376.5 189.7,376.0 190.2,375.7 190.7,375.4 191.2,375.2 191.7,374.7 192.2,374.0 192.7,373.2 193.2,372.5 193.7,372.1 194.2,371.8 194.7,371.4 195.2,371.7 195.7,372.2 196.2,372.7 196.7,372.9 197.2,372.8 197.7,372.6 198.2,372.5 198.7,372.8 199.2,373.0 199.7,373.3 200.2,373.3 200.7,373.3 201.2,373.3 201.7,373.5 202.2,373.9 202.7,374.3 203.2,374.7 203.7,375.2 204.2,375.7 204.7,376.2 205.2,376.2 205.7,376.1 206.2,375.9 206.7,375.7 207.2,375.4 207.7,375.0 208.2,374.7 208.7,375.0 209.2,375.4 209.7,375.7 210.2,376.1 210.7,376.4 211.2,376.8 211.7,376.9 212.2,376.7 212.7,376.5 213.2,376.3 213.7,376.0 214.2,375.7 214.7,375.4 215.2,375.0 215.7,374.5 216.2,374.0 216.7,373.9 217.2,374.5 217.7,375.2 218.2,375.8 218.7,376.1 219.2,376.3 219.7,376.6 220.2,376.5 220.7,376.2 221.2,376.0 221.7,375.8 222.2,375.6 222.7,375.5 223.2,375.3 223.7,375.7 224.2,376.1 224.7,376.5 225.2,376.8 225.7,377.1 226.2,377.3 226.7,377.7 227.2,378.4 227.7,379.0 228.2,379.7 228.7,379.5 229.2,379.4 229.7,379.2 230.2,379.0 230.7,378.7 231.2,378.5 231.7,378.4 232.2,378.5 232.7,378.6 233.2,378.7 233.7,378.3 234.2,378.0 234.7,377.6 235.2,377.2 235.7,376.7 236.2,376.2 236.7,375.9 237.2,376.0 237.7,376.2 238.2,376.3 238.7,375.7 239.2,375.0 239.7,374.4 240.2,374.0 240.7,373.8 241.2,374.0 241.7,375.2 242.2,376.3 242.7,376.8 243.2,377.1 243.7,377.3 244.2,377.6 244.7,378.0 245.2,378.3 245.7,378.7 246.2,379.0 246.7,379.4 247.2,379.5 247.7,379.1 248.2,378.7 248.7,378.3 249.2,378.1 249.7,377.8 250.2,377.6 250.7,377.7 251.2,378.1 251.7,378.4 252.2,378.5 252.7,378.2 253.2,377.8 253.7,377.5 254.2,377.3 254.7,377.2 255.2,377.0 255.7,376.8 256.2,376.4 256.7,376.1 257.2,375.8 257.7,375.5 258.2,375.3 258.7,376.0 259.2,376.6 259.7,377.3 260.2,377.7 260.7,378.1 261.2,378.4 261.7,378.8 262.2,379.1 262.7,379.4 263.2,379.7 263.7,379.3 264.2,378.9 264.7,378.5 265.2,378.3 265.7,378.2 266.2,378.1 266.7,377.9 267.2,377.7 267.7,377.5 268.2,378.3 268.7,379.1 269.2,379.6 269.7,379.5 270.2,379.3 270.7,379.2 271.2,378.9 271.7,378.7 272.2,378.4 272.7,378.3 273.2,378.3 273.7,378.3 274.2,378.3 274.7,378.2 275.2,378.1 275.7,378.0 276.2,378.1 276.7,378.2 277.2,378.3 277.7,378.3 278.2,378.3 278.7,378.3 279.2,378.4 279.7,378.5 280.2,378.6 280.7,378.7 281.2,378.3 281.7,378.0 282.2,377.6 282.7,377.6 283.2,377.8 283.7,377.9 284.2,377.8 284.7,377.1 285.2,376.5 285.7,375.8 286.2,375.5 286.7,375.1 287.2,374.8 287.7,374.7 288.2,374.7 288.7,374.7 289.2,374.7 289.7,374.7 290.2,374.6 290.7,374.5 291.2,374.4 291.7,374.2 292.2,374.3 292.7,374.6 293.2,375.0 293.7,375.3 294.2,375.5 294.7,375.6 295.2,375.8 295.7,376.5 296.2,377.5 296.7,378.5 297.2,379.4 297.7,380.2 298.2,380.9 298.7,381.7 299.2,381.9 299.7,382.2 300.2,382.4 300.7,382.7 301.2,382.9 301.7,383.2 302.2,383.2 302.7,382.8 303.2,382.4 303.7,382.0 304.2,381.6 304.7,381.3 305.2,380.9 305.7,380.8 306.2,380.8 306.7,380.8 307.2,380.7 307.7,380.4 308.2,380.0 308.7,379.7 309.2,379.4 309.7,379.1 310.2,378.8 310.7,378.6 311.2,378.5 311.7,378.4 312.2,378.4 312.7,378.5 313.2,378.6 313.7,378.7 314.2,378.6 314.7,378.5 315.2,378.4 315.7,378.4 316.2,378.5 316.7,378.6 317.2,378.7 317.7,378.9 318.2,379.0 318.7,379.2 319.2,379.4 319.7,379.7 320.2,379.9 320.7,380.2 321.2,380.4 321.7,380.7 322.2,380.7 322.7,380.4 323.2,380.0 323.7,379.7 324.2,380.0 324.7,380.4 325.2,380.7 325.7,381.1 326.2,381.4 326.7,381.8 327.2,382.0 327.7,381.9 328.2,381.8 328.7,381.7 329.2,381.9 329.7,382.2 330.2,382.4 330.7,382.3 331.2,381.9 331.7,381.6 332.2,381.2 332.7,380.8 333.2,380.4 333.7,380.0 334.2,379.9 334.7,379.8 335.2,379.7 335.7,379.5 336.2,379.2 336.7,378.9 337.2,378.6 337.7,378.4 338.2,378.2 338.7,378.0 339.2,377.7 339.7,377.4 340.2,377.1 340.7,376.9 341.2,376.8 341.7,376.7 342.2,376.6 342.7,376.5 343.2,376.4 343.7,376.3 344.2,376.9 344.7,377.5 345.2,378.1 345.7,378.3 346.2,378.2 346.7,378.1 347.2,378.2 347.7,378.7 348.2,379.2 348.7,379.7 349.2,380.3 349.7,380.9 350.2,381.5 350.7,382.0 351.2,382.5 351.7,383.0 352.2,383.5 352.7,383.9 353.2,384.3 353.7,384.7 354.2,384.4 354.7,384.1 355.2,383.8 355.7,383.8 356.2,383.9 356.7,384.1 357.2,384.3 357.7,384.5 358.2,384.8 358.7,385.0 359.2,385.1 359.7,385.2 360.2,385.3 360.7,385.1 361.2,384.7 361.7,384.4 362.2,384.1 362.7,384.0 363.2,383.8 363.7,383.7 364.2,383.6 364.7,383.5 365.2,383.4 365.7,383.3 366.2,383.3 366.7,383.3 367.2,383.3 367.7,383.2 368.2,383.1 368.7,383.0 369.2,383.1 369.7,383.2 370.2,383.3 370.7,382.8 371.2,382.1 371.7,381.3 372.2,380.7 372.7,380.2 373.2,379.7 373.7,379.2 374.2,378.9 374.7,378.7 375.2,378.4 375.7,378.2 376.2,377.9 376.7,377.7 377.2,377.6 377.7,377.7 378.2,377.9 378.7,378.0 379.2,377.8 379.7,377.7 380.2,377.5 380.7,377.6 381.2,377.8 381.7,377.9 382.2,378.0 382.7,378.2 383.2,378.3 383.7,379.2 384.2,380.5 384.7,381.3 385.2,381.1 385.7,381.0 386.2,380.8 386.7,380.7 387.2,380.5 387.7,380.4 388.2,380.7 388.7,381.2 389.2,381.7 389.7,382.1 390.2,382.4 390.7,382.7 391.2,383.0 391.7,382.7 392.2,382.4 392.7,382.1 393.2,382.1 393.7,382.3 394.2,382.4 394.7,382.4 395.2,382.0 395.7,381.7 396.2,381.3 396.7,381.7 397.2,382.0 397.7,382.4 398.2,382.7 398.7,383.1 399.2,383.4 399.7,383.7 400.2,383.9 400.7,384.0 401.2,384.2 401.7,384.0 402.2,383.9 402.7,383.7 403.2,383.9 403.7,384.2 404.2,384.5 404.7,384.6 405.2,384.5 405.7,384.3 406.2,384.2 406.7,384.2 407.2,384.2 407.7,384.2 408.2,384.1 408.7,383.9 409.2,383.8 409.7,383.5 410.2,383.2 410.7,382.8 411.2,382.5 411.7,382.1 412.2,381.8 412.7,381.4 413.2,381.2 413.7,381.1 414.2,380.9 414.7,381.0 415.2,381.3 415.7,381.7 416.2,382.0 416.7,382.3 417.2,382.6 417.7,382.9 418.2,383.0 418.7,383.0 419.2,383.0 419.7,383.0 420.2,382.9 420.7,382.8 421.2,382.6 421.7,382.5 422.2,382.9 422.7,383.2 423.2,383.6 423.7,383.9 424.2,384.2 424.7,384.5 425.2,384.5 425.7,384.1 426.2,383.7 426.7,383.3 427.2,383.1 427.7,382.8 428.2,382.6 428.7,382.6 429.2,382.8 429.7,382.9 430.2,383.1 430.7,383.5 431.2,383.8 431.7,384.2 432.2,384.3 432.7,384.5 433.2,384.6 433.7,384.5 434.2,384.2 434.7,383.9 435.2,383.7 435.7,383.7 436.2,383.7 436.7,383.7 437.2,383.8 437.7,384.0 438.2,384.1 438.7,383.7 439.2,383.1 439.7,382.4 440.2,381.9 440.7,381.7 441.2,381.5 441.7,381.3 442.2,381.2 442.7,381.0 443.2,380.9 443.7,380.7 444.2,380.4 444.7,380.2 445.2,379.9 445.7,379.7 446.2,379.4 446.7,379.2 447.2,379.0 447.7,378.9 448.2,378.7 448.7,378.9 449.2,379.2 449.7,379.5 450.2,379.8 450.7,380.1 451.2,380.5 451.7,380.8 452.2,381.0 452.7,381.1 453.2,381.3 453.7,381.1 454.2,380.8 454.7,380.5 455.2,380.2 455.7,379.7 456.2,379.2 456.7,378.7 457.2,378.2 457.7,377.8 458.2,377.6 458.7,378.0 459.2,378.3 459.7,378.7 460.2,378.6 460.7,378.5 461.2,378.4 461.7,378.4 462.2,378.5 462.7,378.6 463.2,378.7 463.7,378.7 464.2,378.7 464.7,378.7 465.2,379.0 465.7,379.3 466.2,379.6 466.7,379.8 467.2,380.0 467.7,380.2 468.2,380.5 468.7,380.9 469.2,381.3 469.7,381.7 470.2,381.1 470.7,380.5 471.2,379.9 471.7,379.4 472.2,379.0 472.7,378.6 473.2,378.4 473.7,378.5 474.2,378.6 474.7,378.7 475.2,378.6 475.7,378.5 476.2,378.4 476.7,378.4 477.2,378.5 477.7,378.6 478.2,378.8 478.7,379.2 479.2,379.6 479.7,380.0 480.2,380.3 480.7,380.5 481.2,380.8 481.7,381.1 482.2,381.4 482.7,381.8 483.2,382.1 483.7,382.4 484.2,382.7 484.7,383.0 485.2,382.6 485.7,382.2 486.2,381.8 486.7,381.8 487.2,382.1 487.7,382.3 488.2,382.4 488.7,382.3 489.2,382.1 489.7,382.0 490.2,382.3 490.7,382.6 491.2,382.9 491.7,382.9 492.2,382.7 492.7,382.6 493.2,382.6 493.7,382.7 494.2,382.9 494.7,383.0 495.2,382.8 495.7,382.7 496.2,382.5 496.7,382.6 497.2,382.8 497.7,382.9 498.2,382.9 498.7,382.8 499.2,382.6 499.7,382.5 500.2,382.3 500.7,382.2 501.2,382.0 501.7,382.2 502.2,382.5 502.7,382.8 503.2,382.9 503.7,382.8 504.2,382.6 504.7,382.5 505.2,382.8 505.7,383.0 506.2,383.3 506.7,383.4 507.2,383.5 507.7,383.6 508.2,383.7 508.7,383.9 509.2,384.0 509.7,384.2 510.2,383.9 510.7,383.7 511.2,383.4 511.7,383.4 512.2,383.5 512.7,383.6 513.2,383.7 513.7,383.9 514.2,384.0 514.7,384.2 515.2,384.0 515.7,383.9 516.2,383.7 516.7,383.6 517.2,383.5 517.7,383.4 518.2,383.2 518.7,383.0 519.2,382.7 519.7,382.5 520.2,382.3 520.7,382.2 521.2,382.0 521.7,381.9 522.2,381.8 522.7,381.7 523.2,381.7 523.7,381.7 524.2,381.7 524.7,381.7 525.2,381.6 525.7,381.5 526.2,381.4 526.7,381.6 527.2,381.9 527.7,382.3 528.2,382.6 528.7,382.8 529.2,383.1 529.7,383.3 530.2,383.6 530.7,383.8 531.2,384.1 531.7,384.4 532.2,384.8 532.7,385.1 533.2,385.3 533.7,385.2 534.2,385.1 534.7,385.0 535.2,384.7 535.7,384.5 536.2,384.2 536.7,384.1 537.2,383.9 537.7,383.8 538.2,383.6 538.7,383.5 539.2,383.4 539.7,383.3 540.2,383.2 540.7,383.1 541.2,383.0 541.7,383.1 542.2,383.2 542.7,383.3 543.2,383.2 543.7,383.0 544.2,382.7 544.7,382.5 545.2,382.8 545.7,383.0 546.2,383.3 546.7,383.7 547.2,384.2 547.7,384.7 548.2,385.0 548.7,384.9 549.2,384.8 549.7,384.7 550.2,384.8 550.7,384.9 551.2,385.0 551.7,384.8 552.2,384.6 552.7,384.3 553.2,384.3 553.7,384.8 554.2,385.3 554.7,385.8 555.2,386.1 555.7,386.3 556.2,386.6 556.7,386.5 557.2,386.2 557.7,386.0 558.2,385.9 558.7,386.0 559.2,386.2 559.7,386.3 560.2,386.5 560.7,386.7 561.2,386.9 561.7,387.1 562.2,387.3 562.7,387.4 563.2,387.4 563.7,387.2 564.2,386.9 564.7,386.7 565.2,386.4 565.7,386.2 566.2,385.9 566.7,385.8 567.2,385.8 567.7,385.8 568.2,385.7 568.7,385.5 569.2,385.2 569.7,385.0 570.2,385.1 570.7,385.2 571.2,385.3 571.7,385.1 572.2,384.7 572.7,384.4 573.2,384.3 573.7,384.5 574.2,384.8 574.7,385.0 575.2,385.3 575.7,385.5 576.2,385.8 576.7,385.9 577.2,386.1 577.7,386.2 578.2,386.4 578.7,386.6 579.2,386.8 579.7,387.0 580.2,387.2 580.7,387.3 581.2,387.5 581.7,387.4 582.2,387.2 582.7,387.1 583.2,387.1 583.7,387.4 584.2,387.7 584.7,388.0 585.2,387.8 585.7,387.7 586.2,387.5 586.7,387.3 587.2,387.1 587.7,386.8 588.2,386.8 588.7,387.0 589.2,387.3 589.7,387.5 590.2,387.2 590.7,387.0 591.2,386.7 591.7,386.7 592.2,386.8 592.7,386.9 593.2,387.1 593.7,387.2 594.2,387.4 594.7,387.5 595.2,387.7 595.7,387.8 596.2,388.0 596.7,388.1 597.2,388.3 597.7,388.5 598.2,388.6 598.7,388.5 599.2,388.4 599.7,388.3 600.2,388.2 600.7,388.1 601.2,388.0 601.7,387.9 602.2,387.7 602.7,387.6 603.2,387.4 603.7,387.3 604.2,387.1 604.7,387.0 605.2,386.9 605.7,386.8 606.2,386.7 606.7,386.6 607.2,386.5 607.7,386.4 608.2,386.4 608.7,386.5 609.2,386.6 609.7,386.7 610.2,386.6 610.7,386.5 611.2,386.4 611.7,386.6 612.2,386.9 612.7,387.3 613.2,387.6 613.7,387.8 614.2,388.1 614.7,388.3 615.2,388.1 615.7,387.8 616.2,387.6 616.7,387.6 617.2,387.8 617.7,387.9 618.2,388.1 618.7,388.3 619.2,388.5 619.7,388.7 620.2,388.8 620.7,389.0 621.2,389.1 621.7,389.3 622.2,389.4 622.7,389.6 623.2,389.6 623.7,389.3 624.2,389.0 624.7,388.7 625.2,388.8 625.7,389.0 626.2,389.1 626.7,389.3 627.2,389.6 627.7,389.8 628.2,390.0 628.7,390.1 629.2,390.2 629.7,390.3 630.2,390.1 630.7,389.9 631.2,389.7 631.7,389.6 632.2,389.4 632.7,389.3 633.2,389.1 633.7,388.8 634.2,388.6 634.7,388.3 635.2,388.4 635.7,388.5 636.2,388.6 636.7,388.9 637.2,389.2 637.7,389.5 638.2,389.6 638.7,389.5 639.2,389.3 639.7,389.2 640.2,388.9 640.7,388.7 641.2,388.4 641.7,388.3 642.2,388.2 642.7,388.1 643.2,388.1 643.7,388.3 644.2,388.5 644.7,388.7 645.2,388.8 645.7,389.0 646.2,389.1 646.7,389.1 647.2,388.9 647.7,388.8 648.2,388.8 648.7,389.1 649.2,389.4 649.7,389.7 650.2,389.8 650.7,389.9 651.2,390.0 651.7,390.2 652.2,390.4 652.7,390.7 653.2,390.9 653.7,391.0 654.2,391.2 654.7,391.3 655.2,391.5 655.7,391.7 656.2,391.9 656.7,391.9 657.2,391.8 657.7,391.7 658.2,391.6 658.7,391.3 659.2,391.1 659.7,390.8 660.2,390.5 660.7,390.1 661.2,389.8 661.7,389.6 662.2,389.4 662.7,389.3 663.2,389.1 663.7,389.0 664.2,388.8 664.7,388.7 665.2,388.3 665.7,388.0 666.2,387.6 666.7,387.5 667.2,387.5 667.2,400.5 36.7,400.5"/>
</g>
<line x1="80.65" x2="80.65" y1="64.25" y2="400.5" stroke="#f0b070" stroke-opacity="0.72" stroke-width="1.25" stroke-dasharray="1.5 1.512"/>
<line x1="312.0" x2="312.0" y1="64.25" y2="400.5" stroke="#f0b070" stroke-opacity="0.72" stroke-width="1.25" stroke-dasharray="1.5 1.512"/>
<line x1="362.55" x2="362.55" y1="64.25" y2="400.5" stroke="#f0b070" stroke-opacity="0.72" stroke-width="1.25" stroke-dasharray="1.5 1.512"/>
<line x1="36.7" x2="36.7" y1="400.5" y2="405.5" stroke="#ebebeb" stroke-width="1"/>
<text class="ax" x="15.8" y="414.6" textLength="41.8" lengthAdjust="spacingAndGlyphs">2022-01-01</text>
<line x1="110.0" x2="110.0" y1="400.5" y2="405.5" stroke="#ebebeb" stroke-width="1"/>
<text class="ax" x="89.1" y="414.6" textLength="41.8" lengthAdjust="spacingAndGlyphs">2022-04-01</text>
<line x1="184.2" x2="184.2" y1="400.5" y2="405.5" stroke="#ebebeb" stroke-width="1"/>
<text class="ax" x="163.3" y="414.6" textLength="41.8" lengthAdjust="spacingAndGlyphs">2022-07-01</text>
<line x1="259.2" x2="259.2" y1="400.5" y2="405.5" stroke="#ebebeb" stroke-width="1"/>
<text class="ax" x="238.3" y="414.6" textLength="41.8" lengthAdjust="spacingAndGlyphs">2022-10-01</text>
<line x1="334.2" x2="334.2" y1="400.5" y2="405.5" stroke="#ebebeb" stroke-width="1"/>
<text class="ax" x="313.3" y="414.6" textLength="41.8" lengthAdjust="spacingAndGlyphs">2023-01-01</text>
<line x1="407.5" x2="407.5" y1="400.5" y2="405.5" stroke="#ebebeb" stroke-width="1"/>
<text class="ax" x="386.6" y="414.6" textLength="41.8" lengthAdjust="spacingAndGlyphs">2023-04-01</text>
<line x1="481.7" x2="481.7" y1="400.5" y2="405.5" stroke="#ebebeb" stroke-width="1"/>
<text class="ax" x="460.8" y="414.6" textLength="41.8" lengthAdjust="spacingAndGlyphs">2023-07-01</text>
<line x1="556.7" x2="556.7" y1="400.5" y2="405.5" stroke="#ebebeb" stroke-width="1"/>
<text class="ax" x="535.8" y="414.6" textLength="41.8" lengthAdjust="spacingAndGlyphs">2023-10-01</text>
<line x1="631.7" x2="631.7" y1="400.5" y2="405.5" stroke="#ebebeb" stroke-width="1"/>
<text class="ax" x="610.8" y="414.6" textLength="41.8" lengthAdjust="spacingAndGlyphs">2024-01-01</text>
<text class="rl" x="676.30" y="227.5" textLength="41.01" lengthAdjust="spacingAndGlyphs" fill="#f0b070">Pipeline</text>
<text class="rl" x="720.40" y="227.5" textLength="17.23" lengthAdjust="spacingAndGlyphs" fill="#f0b070">gas</text>
<text class="rl" x="677.09" y="243.0" textLength="13.61" lengthAdjust="spacingAndGlyphs" fill="#7b3a63">Oil</text>
<text class="rl" x="692.29" y="243.0" textLength="46.47" lengthAdjust="spacingAndGlyphs" fill="#7b3a63">products</text>
<text class="rl" x="742.19" y="243.0" textLength="18.52" lengthAdjust="spacingAndGlyphs" fill="#7b3a63">and</text>
<text class="rl" x="677.15" y="252.6" textLength="48.26" lengthAdjust="spacingAndGlyphs" fill="#7b3a63">chemicals</text>
<text class="rl" x="676.79" y="286.3" textLength="19.84" lengthAdjust="spacingAndGlyphs" fill="#f1c48f">LNG</text>
<text class="rl" x="676.77" y="300.6" textLength="19.87" lengthAdjust="spacingAndGlyphs" fill="#9fcfd8">LPG</text>
<text class="rl" x="677.00" y="315.8" textLength="28.79" lengthAdjust="spacingAndGlyphs" fill="#6e1a42">Crude</text>
<text class="rl" x="708.96" y="315.8" textLength="12.93" lengthAdjust="spacingAndGlyphs" fill="#6e1a42">oil</text>
<text class="rl" x="676.99" y="389.4" textLength="22.30" lengthAdjust="spacingAndGlyphs" fill="#3b1f80">Coal</text>
<rect x="200.3" y="432" width="7.3" height="10.2" fill="#30166f"/>
<rect x="235.3" y="432" width="7.3" height="10.2" fill="#6e1a42"/>
<rect x="290.2" y="432" width="7.8" height="10.2" fill="#f5c590"/>
<rect x="323.0" y="432" width="7.6" height="10.2" fill="#93c9d3"/>
<rect x="355.0" y="432" width="7.8" height="10.2" fill="#8c4a72"/>
<rect x="492.4" y="432" width="8.2" height="10.2" fill="#f0ad67"/>
<text class="lg" x="209.80" y="440.8" textLength="20.57" lengthAdjust="spacingAndGlyphs">Coal</text>
<text class="lg" x="244.56" y="440.8" textLength="23.77" lengthAdjust="spacingAndGlyphs">Crude</text>
<text class="lg" x="272.13" y="440.8" textLength="11.54" lengthAdjust="spacingAndGlyphs">oil</text>
<text class="lg" x="300.11" y="440.8" textLength="17.81" lengthAdjust="spacingAndGlyphs">LNG</text>
<text class="lg" x="332.28" y="440.8" textLength="18.06" lengthAdjust="spacingAndGlyphs">LPG</text>
<text class="lg" x="365.05" y="440.8" textLength="12.33" lengthAdjust="spacingAndGlyphs">Oil</text>
<text class="lg" x="379.31" y="440.8" textLength="40.77" lengthAdjust="spacingAndGlyphs">products</text>
<text class="lg" x="422.61" y="440.8" textLength="16.31" lengthAdjust="spacingAndGlyphs">and</text>
<text class="lg" x="440.89" y="440.8" textLength="45.99" lengthAdjust="spacingAndGlyphs">chemicals</text>
<text class="lg" x="501.48" y="440.8" textLength="36.26" lengthAdjust="spacingAndGlyphs">Pipeline</text>
<text class="lg" x="540.90" y="440.8" textLength="16.28" lengthAdjust="spacingAndGlyphs">gas</text>
<text class="ft" x="8.75" y="465" textLength="34.62" lengthAdjust="spacingAndGlyphs">Source:</text>
<text class="ft" x="44.77" y="465" textLength="24.15" lengthAdjust="spacingAndGlyphs">CREA</text>
<text class="ft" x="70.91" y="465" textLength="38.24" lengthAdjust="spacingAndGlyphs">analysis.</text>
<text class="ft" x="117.12" y="465" textLength="32.56" lengthAdjust="spacingAndGlyphs">Dotted</text>
<text class="ft" x="151.63" y="465" textLength="21.25" lengthAdjust="spacingAndGlyphs">lines</text>
<text class="ft" x="174.70" y="465" textLength="45.71" lengthAdjust="spacingAndGlyphs">represent</text>
<text class="ft" x="223.54" y="465" textLength="14.47" lengthAdjust="spacingAndGlyphs">the</text>
<text class="ft" x="240.64" y="465" textLength="43.99" lengthAdjust="spacingAndGlyphs">beginning</text>
<text class="ft" x="287.19" y="465" textLength="8.60" lengthAdjust="spacingAndGlyphs">of</text>
<text class="ft" x="298.44" y="465" textLength="14.79" lengthAdjust="spacingAndGlyphs">the</text>
<text class="ft" x="316.55" y="465" textLength="16.77" lengthAdjust="spacingAndGlyphs">war</text>
<text class="ft" x="335.80" y="465" textLength="16.85" lengthAdjust="spacingAndGlyphs">and</text>
<text class="ft" x="354.89" y="465" textLength="8.50" lengthAdjust="spacingAndGlyphs">of</text>
<text class="ft" x="365.79" y="465" textLength="18.53" lengthAdjust="spacingAndGlyphs">EU's</text>
<text class="ft" x="387.26" y="465" textLength="11.88" lengthAdjust="spacingAndGlyphs">oil</text>
<text class="ft" x="400.38" y="465" textLength="16.04" lengthAdjust="spacingAndGlyphs">ban</text>
<text class="ft" x="418.85" y="465" textLength="5.80" lengthAdjust="spacingAndGlyphs">&amp;</text>
<text class="ft" x="428.04" y="465" textLength="14.58" lengthAdjust="spacingAndGlyphs">the</text>
<text class="ft" x="446.05" y="465" textLength="24.10" lengthAdjust="spacingAndGlyphs">wider</text>
<text class="ft" x="472.52" y="465" textLength="22.73" lengthAdjust="spacingAndGlyphs">price</text>
<text class="ft" x="497.40" y="465" textLength="16.23" lengthAdjust="spacingAndGlyphs">cap</text>
<text class="ft" x="518.11" y="465" textLength="10.70" lengthAdjust="spacingAndGlyphs">for</text>
<text class="ft" x="532.58" y="465" textLength="26.05" lengthAdjust="spacingAndGlyphs">crude</text>
<text class="ft" x="561.53" y="465" textLength="11.74" lengthAdjust="spacingAndGlyphs">oil</text>
<text class="ft" x="574.81" y="465" textLength="6.77" lengthAdjust="spacingAndGlyphs">in</text>
<text class="ft" x="583.98" y="465" textLength="47.35" lengthAdjust="spacingAndGlyphs">December</text>
<text class="ft" x="634.74" y="465" textLength="20.37" lengthAdjust="spacingAndGlyphs">2022</text>
<text class="ft" x="657.81" y="465" textLength="16.31" lengthAdjust="spacingAndGlyphs">and</text>
<text class="ft" x="676.46" y="465" textLength="11.88" lengthAdjust="spacingAndGlyphs">oil</text>
<text class="ft" x="689.54" y="465" textLength="39.13" lengthAdjust="spacingAndGlyphs">products</text>
<text class="ft" x="731.43" y="465" textLength="9.22" lengthAdjust="spacingAndGlyphs">in</text>
<text x="111.7" y="464.2" font-size="6.6" fill="#333">•</text>
<text class="ft" x="8.51" y="478.2" textLength="39.51" lengthAdjust="spacingAndGlyphs">February</text>
<text class="ft" x="51.32" y="478.2" textLength="23.81" lengthAdjust="spacingAndGlyphs">2023.</text>
</svg></body></html>
